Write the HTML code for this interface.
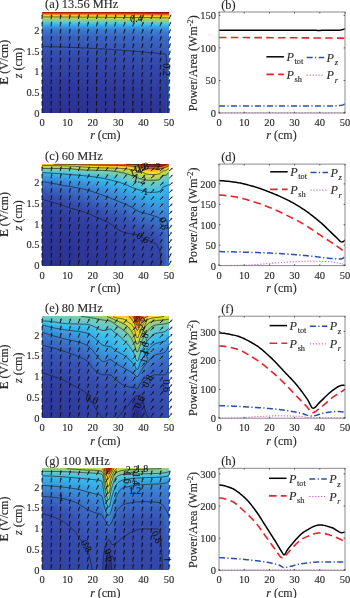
<!DOCTYPE html><html><head><meta charset="utf-8"><style>
html,body{margin:0;padding:0;background:#fff;width:350px;height:598px;overflow:hidden}
#wrap{filter:blur(0.35px);width:350px;height:598px;position:relative;background:#fff}
#f{position:absolute;left:0;top:0;width:350px;height:598px}
#f i{position:absolute;display:block}
svg{position:absolute;left:0;top:0;font-family:"Liberation Serif",serif;will-change:transform}
text{stroke:#303030;stroke-width:0.14px;paint-order:stroke}
</style></head><body><div id="wrap"><div id="f">
<i style="left:42px;top:12px;width:8px;height:101.05px;background:linear-gradient(#b82117 0.50px,#e4421f 1.50px,#f28e22 2.50px,#f5cb29 3.50px,#f0e330 4.50px,#d2db42 5.50px,#aad268 6.50px,#8dcd8a 7.50px,#6ec9c4 9.50px,#40bee8 11.51px,#38b2ea 12.51px,#3b8dda 15.51px,#3c76cd 18.51px,#3960be 24.51px,#3447aa 46.52px,#2e379a 77.54px,#2b3293 100.55px)"></i>
<i style="left:50px;top:12px;width:6px;height:101.05px;background:linear-gradient(#b72017 0.50px,#e4411f 1.50px,#f18d22 2.50px,#f5ca29 3.50px,#f1e32f 4.50px,#d3db42 5.50px,#abd367 6.50px,#8ecd89 7.50px,#6ec9c3 9.50px,#40bee8 11.51px,#38b3ea 12.51px,#3b8eda 15.51px,#3c76cd 18.51px,#3960be 24.51px,#3448aa 46.52px,#2e379a 77.54px,#2b3293 100.55px)"></i>
<i style="left:56px;top:12px;width:6px;height:101.05px;background:linear-gradient(#b72017 0.50px,#e4401f 1.50px,#f18c22 2.50px,#f5c929 3.50px,#f2e32f 4.50px,#d3db41 5.50px,#acd367 6.50px,#8fce89 7.50px,#6fc9c2 9.50px,#59c4d8 10.51px,#41bee7 11.51px,#38b3eb 12.51px,#3b8eda 15.51px,#3c76cd 18.51px,#3960be 24.51px,#3448ab 46.52px,#2e379a 78.54px,#2b3293 100.55px)"></i>
<i style="left:62px;top:12px;width:4px;height:101.05px;background:linear-gradient(#b62017 0.50px,#e33f1f 1.50px,#f18a22 2.50px,#f5c929 3.50px,#f3e32e 4.50px,#d4db41 5.50px,#add366 6.50px,#90ce88 7.50px,#6fc9c1 9.50px,#5ac4d7 10.51px,#42bfe7 11.51px,#38b4eb 12.51px,#3b8eda 15.51px,#3c77cd 18.51px,#3961be 24.51px,#3448ab 46.52px,#2e379a 78.54px,#2b3293 100.55px)"></i>
<i style="left:66px;top:12px;width:4px;height:101.05px;background:linear-gradient(#b51f17 0.50px,#e33e1f 1.50px,#f18922 2.50px,#f5c829 3.50px,#f3e42e 4.50px,#d5dc40 5.50px,#add365 6.50px,#90ce87 7.50px,#70c9c1 9.50px,#5ac4d7 10.51px,#42bfe7 11.51px,#38b4eb 12.51px,#3b8fda 15.51px,#3c77cd 18.51px,#3961be 24.51px,#3448ab 46.52px,#2e379a 78.54px,#2b3293 100.55px)"></i>
<i style="left:70px;top:12px;width:4px;height:101.05px;background:linear-gradient(#b51f17 0.50px,#e33d1e 1.50px,#f18822 2.50px,#f5c729 3.50px,#f4e42e 4.50px,#d5dc40 5.50px,#aed364 6.50px,#91ce86 7.50px,#70c9c0 9.50px,#5bc5d6 10.51px,#43bfe6 11.51px,#38b4eb 12.51px,#3b8fdb 15.51px,#3c77ce 18.51px,#3961bf 24.51px,#3448ab 46.52px,#2e379a 78.54px,#2b3293 100.55px)"></i>
<i style="left:74px;top:12px;width:4px;height:101.05px;background:linear-gradient(#b41f17 0.50px,#e33b1e 1.50px,#f18722 2.50px,#f5c729 3.50px,#f5e42d 4.50px,#d6dc40 5.50px,#afd363 6.50px,#92ce85 7.50px,#70c9bf 9.50px,#5cc5d6 10.51px,#43bfe6 11.51px,#38b5eb 12.51px,#3b8fdb 15.51px,#3c77ce 18.51px,#3961bf 24.51px,#3448ab 46.52px,#2e379a 78.54px,#2b3293 100.55px)"></i>
<i style="left:78px;top:12px;width:4px;height:101.05px;background:linear-gradient(#b31e17 0.50px,#e23a1e 1.50px,#f08622 2.50px,#f5c629 3.50px,#f5e32d 4.50px,#d7dc3f 5.50px,#afd362 6.50px,#92ce84 7.50px,#71c9be 9.50px,#5cc5d5 10.51px,#44bfe5 11.51px,#38b5eb 12.51px,#3b90db 15.51px,#3c78ce 18.51px,#3962bf 24.51px,#3448ab 46.52px,#2e379a 79.54px,#2b3293 100.55px)"></i>
<i style="left:82px;top:12px;width:4px;height:101.05px;background:linear-gradient(#b21e17 0.50px,#e2391e 1.50px,#f08522 2.50px,#f5c528 3.50px,#f5e32d 4.50px,#d8dc3f 5.50px,#b0d461 6.50px,#93ce83 7.50px,#71c9be 9.50px,#5dc5d5 10.51px,#45bfe5 11.51px,#38b6ec 12.51px,#3b90db 15.51px,#3c78ce 18.51px,#3962bf 24.51px,#3449ab 46.52px,#2e379a 79.54px,#2b3294 100.55px)"></i>
<i style="left:86px;top:12px;width:4px;height:101.05px;background:linear-gradient(#b11e16 0.50px,#e2371e 1.50px,#f08422 2.50px,#f5c428 3.50px,#f5e22d 4.50px,#d8dd3e 5.50px,#b1d460 6.50px,#94ce82 7.50px,#72c9bd 9.50px,#5ec5d4 10.51px,#46c0e4 11.51px,#38b6ec 12.51px,#3b91db 15.51px,#3c79ce 18.51px,#3962bf 24.51px,#3449ac 46.52px,#2e379a 79.54px,#2b3394 100.55px)"></i>
<i style="left:90px;top:12px;width:4px;height:101.05px;background:linear-gradient(#b01d16 0.50px,#e2361e 1.50px,#f08222 2.50px,#f5c328 3.50px,#f5e12d 4.50px,#d9dd3e 5.50px,#b2d45f 6.50px,#95cf81 7.50px,#72c9bc 9.50px,#5fc6d4 10.51px,#46c0e4 11.51px,#37b7ec 12.51px,#3b91dc 15.51px,#3c79cf 18.51px,#3963bf 24.51px,#354aac 45.52px,#2e379a 79.54px,#2b3394 100.55px)"></i>
<i style="left:94px;top:12px;width:4px;height:101.05px;background:linear-gradient(#af1d16 0.50px,#e1341e 1.50px,#ef8122 2.50px,#f5c228 3.50px,#f5e02c 4.50px,#dadd3d 5.50px,#b3d45e 6.50px,#96cf80 7.50px,#73c9bb 9.50px,#60c6d3 10.51px,#47c0e3 11.51px,#37b7ec 12.51px,#3b92dc 15.51px,#3c79cf 18.51px,#3963c0 24.51px,#3449ac 46.52px,#2e389b 79.54px,#2b3394 100.55px)"></i>
<i style="left:98px;top:12px;width:4px;height:101.05px;background:linear-gradient(#ae1c16 0.50px,#e1321e 1.50px,#ef7f22 2.50px,#f5c128 3.50px,#f5df2c 4.50px,#dbdd3c 5.50px,#b4d45c 6.50px,#97cf7f 7.50px,#74cab9 9.50px,#61c6d2 10.51px,#48c0e3 11.51px,#37b8ec 12.51px,#3a92dc 15.51px,#3c7acf 18.51px,#3963c0 24.51px,#3449ac 46.52px,#2e379a 80.54px,#2c3394 100.55px)"></i>
<i style="left:102px;top:12px;width:4px;height:101.05px;background:linear-gradient(#ad1c16 0.50px,#e0321e 1.50px,#ef7d21 2.50px,#f5c028 3.50px,#f5de2c 4.50px,#ddde3c 5.50px,#b5d55b 6.50px,#98cf7e 7.50px,#74cab8 9.50px,#62c6d2 10.51px,#49c0e2 11.51px,#37b9ed 12.51px,#3a93dc 15.51px,#3c7acf 18.51px,#3964c0 24.51px,#354aac 46.52px,#2e379a 80.54px,#2c3394 100.55px)"></i>
<i style="left:106px;top:12px;width:4px;height:101.05px;background:linear-gradient(#ac1b15 0.50px,#df311e 1.50px,#ee7c21 2.50px,#f5bf27 3.50px,#f5dd2c 4.50px,#dede3b 5.50px,#b7d55a 6.50px,#99cf7c 7.50px,#84cc9a 8.50px,#63c7d1 10.51px,#4ac1e1 11.51px,#37b9ed 12.51px,#3a93dd 15.51px,#3c7bd0 18.51px,#3a64c1 24.51px,#354bad 45.52px,#2f389b 80.54px,#2c3394 100.55px)"></i>
<i style="left:110px;top:12px;width:4px;height:101.05px;background:linear-gradient(#ab1b15 0.50px,#de311e 1.50px,#ee7a21 2.50px,#f5bd27 3.50px,#f5db2c 4.50px,#dfde3a 5.50px,#b8d558 6.50px,#9ad07b 7.50px,#85cc99 8.50px,#64c7d0 10.51px,#37baed 12.51px,#3a94dd 15.51px,#3c7bd0 18.51px,#3a64c1 24.51px,#354aad 46.52px,#2e379a 81.54px,#2c3394 100.55px)"></i>
<i style="left:114px;top:12px;width:4px;height:101.05px;background:linear-gradient(#a91a15 0.50px,#dd301d 1.50px,#ee7821 2.50px,#f5bc27 3.50px,#f5da2c 4.50px,#e0df3a 5.50px,#b9d557 6.50px,#9cd07a 7.50px,#86cc97 8.50px,#65c7d0 10.51px,#37bbed 12.51px,#3a94dd 15.51px,#3c7cd0 18.51px,#3a67c3 23.51px,#364eb0 42.52px,#2f389b 79.54px,#2c3395 100.55px)"></i>
<i style="left:118px;top:12px;width:2px;height:101.05px;background:linear-gradient(#a81a15 0.50px,#db301d 1.50px,#ed7621 2.50px,#f5bb27 3.50px,#f5d92b 4.50px,#e1df39 5.50px,#bad555 6.50px,#9dd078 7.50px,#87cc96 8.50px,#66c7cf 10.51px,#37bbee 12.51px,#3a95de 15.51px,#3c7dd1 18.51px,#3a68c3 23.51px,#364daf 43.52px,#2f389b 80.54px,#2c3395 100.55px)"></i>
<i style="left:120px;top:12px;width:2px;height:101.05px;background:linear-gradient(#a71915 0.50px,#db2f1d 1.50px,#ed7521 2.50px,#f5ba27 3.50px,#f5d82b 4.50px,#e2df38 5.50px,#bbd654 6.50px,#9ed077 7.50px,#87cc95 8.50px,#67c7ce 10.51px,#37bcee 12.51px,#3a95de 15.51px,#3c7dd1 18.51px,#3a68c3 23.51px,#364db0 43.52px,#2f389b 80.54px,#2c3395 100.55px)"></i>
<i style="left:122px;top:12px;width:2px;height:101.05px;background:linear-gradient(#a71915 0.50px,#da2f1d 1.50px,#ed7421 2.50px,#f5b927 3.50px,#f5d72b 4.50px,#e3df38 5.50px,#bcd653 6.50px,#9ed076 7.50px,#88cc94 8.50px,#68c8ce 10.51px,#37bcee 12.51px,#3a96de 15.51px,#3c7dd1 18.51px,#3a68c4 23.51px,#364db0 43.52px,#2f389b 80.54px,#2c3395 100.55px)"></i>
<i style="left:124px;top:12px;width:2px;height:101.05px;background:linear-gradient(#a61915 0.50px,#da2f1d 1.50px,#ed7321 2.50px,#f5b827 3.50px,#f5d72b 4.50px,#e3df38 5.50px,#bdd653 6.50px,#9fd076 7.50px,#88cc93 8.50px,#68c8ce 10.51px,#38bcee 12.51px,#3a96de 15.51px,#3c7ed1 18.51px,#3a69c4 23.51px,#364db0 43.52px,#2f389b 80.54px,#2c3395 100.55px)"></i>
<i style="left:126px;top:12px;width:2px;height:101.05px;background:linear-gradient(#a51814 0.50px,#d92f1d 1.50px,#ed7221 2.50px,#f5b826 3.50px,#f5d62b 4.50px,#e4e037 5.50px,#bdd652 6.50px,#a0d175 7.50px,#88cc93 8.50px,#69c8cd 10.51px,#38bced 12.51px,#3a96de 15.51px,#3c7ed1 18.51px,#3a69c4 23.51px,#364eb0 43.52px,#2f389b 80.54px,#2c3495 100.55px)"></i>
<i style="left:128px;top:12px;width:2px;height:101.05px;background:linear-gradient(#a41814 0.50px,#d82e1d 1.50px,#ec7121 2.50px,#f5b726 3.50px,#f5d52b 4.50px,#e5e037 5.50px,#bed651 6.50px,#a0d174 7.50px,#89cd92 8.50px,#69c8cc 10.51px,#39bced 12.51px,#3a97df 15.51px,#3c7ed1 18.51px,#3a69c4 23.51px,#364eb0 43.52px,#2f389b 81.54px,#2c3495 100.55px)"></i>
<i style="left:130px;top:12px;width:2px;height:101.05px;background:linear-gradient(#a41814 0.50px,#d72e1c 1.50px,#ec6f21 2.50px,#f5b626 3.50px,#f5d52b 4.50px,#e6e036 5.50px,#bfd650 6.50px,#a1d173 7.50px,#89cd91 8.50px,#6ac8cc 10.51px,#3abdec 12.51px,#3a97df 15.51px,#3c7ed2 18.51px,#3a69c4 23.51px,#364eb0 43.52px,#2f389b 81.54px,#2c3495 100.55px)"></i>
<i style="left:132px;top:12px;width:2px;height:101.05px;background:linear-gradient(#a31714 0.50px,#d72e1c 1.50px,#ec6e21 2.50px,#f5b526 3.50px,#f5d42b 4.50px,#e6e036 5.50px,#c0d64f 6.50px,#a2d172 7.50px,#8acd90 8.50px,#6ac8cb 10.51px,#3abdec 12.51px,#3a97df 15.51px,#3c7fd2 18.51px,#3a6ac4 23.51px,#364eb0 43.52px,#2f389b 81.54px,#2c3495 100.55px)"></i>
<i style="left:134px;top:12px;width:2px;height:101.05px;background:linear-gradient(#a21714 0.50px,#d62d1c 1.50px,#ec6d21 2.50px,#f5b526 3.50px,#f5d32b 4.50px,#e7e035 5.50px,#c0d74e 6.50px,#a3d171 7.50px,#8acd8f 8.50px,#6bc8ca 10.51px,#3bbdeb 12.51px,#3a98df 15.51px,#3c7fd2 18.51px,#3a6ac5 23.51px,#364db0 44.52px,#2f389b 82.54px,#2c3495 100.55px)"></i>
<i style="left:136px;top:12px;width:2px;height:101.05px;background:linear-gradient(#a11714 0.50px,#d52d1c 1.50px,#ec6c21 2.50px,#f5b426 3.50px,#f5d22a 4.50px,#e8e135 5.50px,#c1d74d 6.50px,#a3d170 7.50px,#8bcd8e 8.50px,#6bc8c9 10.51px,#3bbdeb 12.51px,#39a3e4 14.51px,#3b86d6 17.51px,#3b6dc7 22.51px,#395dbc 31.52px,#3449ac 50.52px,#2e379a 85.54px,#2c3495 100.55px)"></i>
<i style="left:138px;top:12px;width:2px;height:101.05px;background:linear-gradient(#a01614 0.50px,#d42d1c 1.50px,#eb6b21 2.50px,#f5b326 3.50px,#f5d12a 4.50px,#e9e134 5.50px,#c2d74c 6.50px,#a4d16f 7.50px,#8bcd8e 8.50px,#6bc8c8 10.51px,#3cbdeb 12.51px,#38b0e9 13.51px,#3b8fda 16.51px,#3c75cc 20.51px,#3a64c1 26.51px,#354bad 48.52px,#2e389b 84.54px,#2c3496 100.55px)"></i>
<i style="left:140px;top:12px;width:2px;height:101.05px;background:linear-gradient(#9f1614 0.50px,#d42c1c 1.50px,#eb6a21 2.50px,#f5b226 3.50px,#f5d12a 4.50px,#eae134 5.50px,#c3d74b 6.50px,#a5d26e 7.50px,#8ccd8d 8.50px,#6cc8c8 10.51px,#3dbdea 12.51px,#38b1ea 13.51px,#3b8fdb 16.51px,#3c75cd 20.51px,#3a64c1 26.51px,#354bad 48.52px,#2f389b 84.54px,#2c3496 100.55px)"></i>
<i style="left:142px;top:12px;width:2px;height:101.05px;background:linear-gradient(#9f1613 0.50px,#d32c1c 1.50px,#eb6820 2.50px,#f5b126 3.50px,#f5d02a 4.50px,#eae133 5.50px,#c4d74b 6.50px,#8ccd8c 8.50px,#6cc8c7 10.51px,#3ebeea 12.51px,#38b1ea 13.51px,#3b90db 16.51px,#3c76cd 20.51px,#3a65c1 26.51px,#354cae 47.52px,#2f389b 84.54px,#2c3496 100.55px)"></i>
<i style="left:144px;top:12px;width:2px;height:101.05px;background:linear-gradient(#9e1513 0.50px,#d22c1c 1.50px,#eb6720 2.50px,#f5b025 3.50px,#f5cf2a 4.50px,#ebe133 5.50px,#c4d74a 6.50px,#8dcd8b 8.50px,#6dc9c6 10.51px,#3ebee9 12.51px,#38b2ea 13.51px,#3b90db 16.51px,#3c76cd 20.51px,#3a65c1 26.51px,#354cae 47.52px,#2f389b 84.54px,#2c3496 100.55px)"></i>
<i style="left:146px;top:12px;width:2px;height:101.05px;background:linear-gradient(#9d1513 0.50px,#d12b1b 1.50px,#ea6620 2.50px,#f5b025 3.50px,#f5ce2a 4.50px,#ece232 5.50px,#c5d84a 6.50px,#8ecd8a 8.50px,#6dc9c5 10.51px,#3fbee9 12.51px,#38b2ea 13.51px,#3b90db 16.51px,#3c76cd 20.51px,#3a65c1 26.51px,#354cae 47.52px,#2f389b 85.54px,#2c3496 100.55px)"></i>
<i style="left:148px;top:12px;width:2px;height:101.05px;background:linear-gradient(#9c1513 0.50px,#d02b1b 1.50px,#ea6420 2.50px,#f5af25 3.50px,#f5cd2a 4.50px,#ede232 5.50px,#c6d849 6.50px,#8fcd89 8.50px,#6ec9c4 10.51px,#40bee8 12.51px,#38b3ea 13.51px,#3b91db 16.51px,#3c77cd 20.51px,#3a65c2 26.51px,#354bae 48.52px,#2f389b 85.54px,#2c3496 100.55px)"></i>
<i style="left:150px;top:12px;width:2px;height:101.05px;background:linear-gradient(#9b1413 0.50px,#d02b1b 1.50px,#ea6320 2.50px,#f5ae25 3.50px,#f5cc2a 4.50px,#eee231 5.50px,#c7d849 6.50px,#8fce88 8.50px,#6ec9c3 10.51px,#40bee8 12.51px,#38b3eb 13.51px,#3b91dc 16.51px,#3c77ce 20.51px,#3a66c2 26.51px,#354cae 48.52px,#2f389b 85.54px,#2d3496 100.55px)"></i>
<i style="left:152px;top:12px;width:2px;height:101.05px;background:linear-gradient(#9a1413 0.50px,#cf2a1b 1.50px,#ea6220 2.50px,#f5ad25 3.50px,#f5cc29 4.50px,#efe231 5.50px,#c8d848 6.50px,#90ce87 8.50px,#6fc9c2 10.51px,#59c4d7 11.51px,#41bee7 12.51px,#38b4eb 13.51px,#3b92dc 16.51px,#3c77ce 20.51px,#3a66c2 26.51px,#354cae 48.52px,#2f389b 86.54px,#2d3496 100.55px)"></i>
<i style="left:154px;top:12px;width:2px;height:101.05px;background:linear-gradient(#991313 0.50px,#ce2a1b 1.50px,#e96020 2.50px,#f5ac25 3.50px,#f5cb29 4.50px,#f0e330 5.50px,#c9d848 6.50px,#91ce86 8.50px,#6fc9c1 10.51px,#5ac4d7 11.51px,#42bfe7 12.51px,#38b4eb 13.51px,#3a92dc 16.51px,#3c78ce 20.51px,#3a66c2 26.51px,#354cae 48.52px,#2f389b 86.54px,#2d3496 100.55px)"></i>
<i style="left:156px;top:12px;width:2px;height:101.05px;background:linear-gradient(#981312 0.50px,#cd291b 1.50px,#e95f20 2.50px,#f5ab25 3.50px,#f5ca29 4.50px,#f0e330 5.50px,#c9d947 6.50px,#92ce85 8.50px,#70c9c0 10.51px,#5bc5d6 11.51px,#43bfe6 12.51px,#38b5eb 13.51px,#3a92dc 16.51px,#3c78ce 20.51px,#3a67c2 26.51px,#354daf 47.52px,#2f389b 86.54px,#2d3596 100.55px)"></i>
<i style="left:158px;top:12px;width:2px;height:101.05px;background:linear-gradient(#971312 0.50px,#cc291b 1.50px,#e95e20 2.50px,#f5aa24 3.50px,#f1e32f 5.50px,#cad947 6.50px,#93ce84 8.50px,#70c9bf 10.51px,#5cc5d6 11.51px,#44bfe6 12.51px,#38b5eb 13.51px,#3a93dd 16.51px,#3c79ce 20.51px,#3a67c3 26.51px,#354caf 48.52px,#2f389b 86.54px,#2d3597 100.55px)"></i>
<i style="left:160px;top:12px;width:2px;height:101.05px;background:linear-gradient(#961212 0.50px,#cb291b 1.50px,#e95c20 2.50px,#f5a924 3.50px,#f2e32f 5.50px,#cbd946 6.50px,#94ce83 8.50px,#71c9bf 10.51px,#5dc5d5 11.51px,#44bfe5 12.51px,#38b6eb 13.51px,#3a93dd 16.51px,#3c79cf 20.51px,#3a67c3 26.51px,#354caf 48.52px,#2f389b 87.54px,#2d3597 100.55px)"></i>
<i style="left:162px;top:12px;width:2px;height:101.05px;background:linear-gradient(#961212 0.50px,#ca281a 1.50px,#e85b20 2.50px,#f5a824 3.50px,#f3e42e 5.50px,#ccd946 6.50px,#95cf82 8.50px,#71c9be 10.51px,#5dc5d5 11.51px,#45bfe5 12.51px,#38b6ec 13.51px,#3a94dd 16.51px,#3c79cf 20.51px,#3a68c3 26.51px,#354daf 48.52px,#2f389b 87.54px,#2d3597 100.55px)"></i>
<i style="left:164px;top:12px;width:2px;height:101.05px;background:linear-gradient(#961212 0.50px,#c9281a 1.50px,#e85920 2.50px,#f5a724 3.50px,#f4e42d 5.50px,#cdda45 6.50px,#96cf81 8.50px,#72c9bd 10.51px,#5ec5d4 11.51px,#46c0e4 12.51px,#37b7ec 13.51px,#3a94dd 16.51px,#3c7acf 20.51px,#3a68c3 26.51px,#354daf 48.52px,#2f389b 87.54px,#2d3597 100.55px)"></i>
<i style="left:166px;top:12px;width:2px;height:101.05px;background:linear-gradient(#961212 0.50px,#c8281a 1.50px,#e85820 2.50px,#f5a624 3.50px,#f5e42d 5.50px,#ceda44 6.50px,#97cf7f 8.50px,#72c9bc 10.51px,#5fc6d3 11.51px,#47c0e4 12.51px,#37b7ec 13.51px,#3a95de 16.51px,#3c7acf 20.51px,#3a68c3 26.51px,#385cbb 38.52px,#385dbb 62.53px,#3347a9 100.55px)"></i>
<i style="left:168px;top:12px;width:1px;height:101.05px;background:linear-gradient(#961212 0.50px,#c8271a 1.50px,#e85720 2.50px,#f5a524 3.50px,#f5e32d 5.50px,#cfda44 6.50px,#97cf7f 8.50px,#73c9bb 10.51px,#60c6d3 11.51px,#47c0e3 12.51px,#37b8ec 13.51px,#3a95de 16.51px,#3c7bcf 20.51px,#3a69c4 26.51px,#395ebc 35.52px,#3c7bd0 60.53px,#385cbb 100.55px)"></i>
<i style="left:42px;top:164.05px;width:2px;height:101.55px;background:linear-gradient(#f5b626 0.50px,#e3df38 1.51px,#bbd654 2.51px,#a0d174 3.52px,#8acd8f 4.52px,#6bc8c9 6.54px,#39bced 8.55px,#3a97df 12.57px,#3b71c9 19.61px,#3650b2 29.66px,#303b9f 45.75px,#2a3192 89.99px,#2a3090 101.05px)"></i>
<i style="left:44px;top:164.05px;width:2px;height:101.55px;background:linear-gradient(#f5b526 0.50px,#e4e037 1.51px,#bcd653 2.51px,#a0d174 3.52px,#8acd90 4.52px,#6bc8c9 6.54px,#3bbdeb 8.55px,#39a9e7 10.56px,#3b86d5 15.58px,#3a67c2 22.62px,#364eb1 30.67px,#303b9e 47.76px,#2a3091 97.03px,#2a3090 101.05px)"></i>
<i style="left:46px;top:164.05px;width:2px;height:101.55px;background:linear-gradient(#f5b526 0.50px,#e5e037 1.51px,#bdd652 2.51px,#a0d174 3.52px,#8acd90 4.52px,#6bc8c9 6.54px,#3dbdea 8.55px,#38b4eb 9.55px,#3a93dd 13.57px,#3b70c9 20.61px,#364fb2 30.67px,#303b9f 47.76px,#2a3191 96.02px,#2a3091 101.05px)"></i>
<i style="left:48px;top:164.05px;width:2px;height:101.55px;background:linear-gradient(#f5b426 0.50px,#e6e036 1.51px,#bed651 2.51px,#a1d173 3.52px,#89cd91 4.52px,#6cc8c8 6.54px,#3fbee9 8.55px,#38b6ec 9.55px,#3a95de 13.57px,#3b71ca 20.61px,#364eb1 31.67px,#303b9f 48.76px,#2a3191 98.03px,#2a3091 101.05px)"></i>
<i style="left:50px;top:164.05px;width:2px;height:101.55px;background:linear-gradient(#f5b326 0.50px,#e7e035 1.51px,#c0d64f 2.51px,#a1d173 3.52px,#89cd91 4.52px,#6cc8c7 6.54px,#41bee7 8.55px,#37b7ec 9.55px,#3a96de 13.57px,#3c72cb 20.61px,#364fb2 31.67px,#303c9f 48.76px,#2a3191 97.03px,#2a3191 101.05px)"></i>
<i style="left:52px;top:164.05px;width:2px;height:101.55px;background:linear-gradient(#f5b226 0.50px,#e8e135 1.51px,#c2d74d 2.51px,#a2d172 3.52px,#89cd91 4.52px,#6dc9c6 6.54px,#43bfe6 8.55px,#37b9ed 9.55px,#3b91dc 14.58px,#3b6cc6 22.62px,#364eb1 32.68px,#303b9f 50.77px,#2a3191 101.05px)"></i>
<i style="left:54px;top:164.05px;width:2px;height:101.55px;background:linear-gradient(#f5b125 0.50px,#eae134 1.51px,#c3d74b 2.51px,#a2d172 3.52px,#89cd92 4.52px,#6dc9c5 6.54px,#45bfe4 8.55px,#37baed 9.55px,#3a93dd 14.58px,#3b6ec7 22.62px,#364fb2 32.68px,#313ca0 49.77px,#2a3191 98.03px,#2a3191 101.05px)"></i>
<i style="left:56px;top:164.05px;width:2px;height:101.55px;background:linear-gradient(#f5af25 0.50px,#ece233 1.51px,#c5d84a 2.51px,#a3d171 3.52px,#89cd92 4.52px,#6ec9c4 6.54px,#48c0e3 8.55px,#37bcee 9.55px,#3a94dd 14.58px,#3b6fc8 22.62px,#3750b2 32.68px,#313da0 49.77px,#2b3192 97.03px,#2a3191 101.05px)"></i>
<i style="left:58px;top:164.05px;width:2px;height:101.55px;background:linear-gradient(#f5ae25 0.50px,#ede232 1.51px,#c7d848 2.51px,#a4d170 3.52px,#89cd92 4.52px,#6ec9c3 6.54px,#4ac1e2 8.55px,#39bced 9.55px,#3a96de 14.58px,#3b6dc7 23.63px,#364fb2 33.68px,#303c9f 51.78px,#2b3192 101.05px)"></i>
<i style="left:60px;top:164.05px;width:2px;height:101.55px;background:linear-gradient(#f5ac25 0.50px,#efe330 1.51px,#c9d947 2.51px,#a5d16f 3.52px,#89cd92 4.52px,#6fc9c2 6.54px,#5fc6d3 7.54px,#3bbdeb 9.55px,#38ace8 11.56px,#3b8cd9 16.59px,#3a64c1 26.64px,#364daf 35.69px,#303a9e 55.80px,#2b3192 101.05px)"></i>
<i style="left:62px;top:164.05px;width:2px;height:101.55px;background:linear-gradient(#f5ab25 0.50px,#f1e32f 1.51px,#ccd946 2.51px,#a6d26e 3.52px,#89cd92 4.52px,#70c9c0 6.54px,#61c6d2 7.54px,#3dbeea 9.55px,#37b7ec 10.56px,#3a93dd 15.58px,#3a69c4 25.64px,#364eb0 35.69px,#303a9e 55.80px,#2b3192 101.05px)"></i>
<i style="left:64px;top:164.05px;width:2px;height:101.55px;background:linear-gradient(#f5a924 0.50px,#f4e42e 1.51px,#ceda45 2.51px,#a7d26d 3.52px,#89cd92 4.52px,#71c9bf 6.54px,#63c7d1 7.54px,#40bee8 9.55px,#37b8ec 10.56px,#3a94dd 15.58px,#3a6ac5 25.64px,#364fb1 35.69px,#303a9e 55.80px,#2b3292 101.05px)"></i>
<i style="left:66px;top:164.05px;width:2px;height:101.55px;background:linear-gradient(#f5a724 0.50px,#f5e32d 1.51px,#d1db43 2.51px,#a9d26a 3.52px,#8acd90 4.52px,#7ccbaa 5.53px,#65c7d0 7.54px,#42bfe7 9.55px,#37baed 10.56px,#3a96de 15.58px,#3b6cc6 25.64px,#364eb1 36.70px,#303a9e 57.81px,#2b3293 101.05px)"></i>
<i style="left:68px;top:164.05px;width:2px;height:101.55px;background:linear-gradient(#f5a524 0.50px,#f5e02c 1.51px,#d4db41 2.51px,#acd366 3.52px,#8bcd8d 4.52px,#7dcba7 5.53px,#67c8ce 7.54px,#44bfe5 9.55px,#37bbee 10.56px,#3a97df 15.58px,#3b6dc7 25.64px,#364fb1 36.70px,#303b9f 56.81px,#2b3293 101.05px)"></i>
<i style="left:70px;top:164.05px;width:2px;height:101.55px;background:linear-gradient(#f5a223 0.50px,#f5dc2c 1.51px,#d8dc3f 2.51px,#b1d461 3.52px,#90ce88 4.52px,#7fcba3 5.53px,#69c8cc 7.54px,#38bced 10.56px,#3a99e0 15.58px,#3b6ec8 25.64px,#364fb1 37.70px,#303b9f 57.81px,#2b3293 101.05px)"></i>
<i style="left:72px;top:164.05px;width:2px;height:101.55px;background:linear-gradient(#f59e23 0.50px,#f5d82b 1.51px,#dcde3c 2.51px,#b6d55a 3.52px,#95cf81 4.52px,#82cc9f 5.53px,#6bc8c9 7.54px,#3abdec 10.56px,#39a7e6 13.57px,#3c7fd2 21.62px,#385bba 32.68px,#3448ab 42.73px,#2f399c 63.85px,#2b3394 101.05px)"></i>
<i style="left:74px;top:164.05px;width:2px;height:101.55px;background:linear-gradient(#f49923 0.50px,#f5d42b 1.51px,#e1df39 2.51px,#bcd653 3.52px,#9bd07a 4.52px,#85cc9a 5.53px,#6dc9c6 7.54px,#4cc1e0 9.55px,#3dbdea 10.56px,#37b7ec 11.56px,#3a97df 16.59px,#3b6ec7 26.64px,#364eb0 39.72px,#303b9f 58.82px,#2c3394 101.05px)"></i>
<i style="left:76px;top:164.05px;width:2px;height:101.55px;background:linear-gradient(#f39422 0.50px,#f5cf2a 1.51px,#e5e036 2.51px,#c3d74b 3.52px,#a2d172 4.52px,#88cc94 5.53px,#7acaae 6.54px,#6ec9c3 7.54px,#4ec2df 9.55px,#3fbee9 10.56px,#37b8ed 11.56px,#3a98e0 16.59px,#3b6fc8 26.64px,#364daf 40.72px,#303c9f 58.82px,#2c3395 101.05px)"></i>
<i style="left:78px;top:164.05px;width:2px;height:101.55px;background:linear-gradient(#f28f22 0.50px,#f5cb29 1.51px,#eae133 2.51px,#c9d947 3.52px,#8bcd8e 5.53px,#7bcbab 6.54px,#62c6d1 8.55px,#41bee7 10.56px,#37baed 11.56px,#3a9ae0 16.59px,#3b70c9 26.64px,#364eb0 40.72px,#313da0 57.81px,#2c3495 101.05px)"></i>
<i style="left:80px;top:164.05px;width:2px;height:101.55px;background:linear-gradient(#f18a22 0.50px,#f5c629 1.51px,#efe231 2.51px,#d0da43 3.52px,#b1d461 4.52px,#8fce88 5.53px,#7dcba7 6.54px,#65c7d0 8.55px,#44bfe6 10.56px,#37bbee 11.56px,#3a97df 17.60px,#3b6fc8 27.65px,#364db0 41.73px,#313da0 58.82px,#2c3496 101.05px)"></i>
<i style="left:82px;top:164.05px;width:2px;height:101.55px;background:linear-gradient(#f08522 0.50px,#f5c228 1.51px,#f3e42e 2.51px,#d5dc40 3.52px,#b7d559 4.52px,#94ce83 5.53px,#7fcba4 6.54px,#67c8ce 8.55px,#38bced 11.56px,#3a98e0 17.60px,#3b70c9 27.65px,#354daf 42.73px,#313ca0 60.83px,#2d3496 101.05px)"></i>
<i style="left:84px;top:164.05px;width:2px;height:101.55px;background:linear-gradient(#ef8122 0.50px,#f5be27 1.51px,#f5e22d 2.51px,#dadd3d 3.52px,#bdd652 4.52px,#98cf7e 5.53px,#81cba1 6.54px,#69c8cc 8.55px,#3bbdec 11.56px,#39aae7 14.58px,#3c7cd0 24.63px,#364fb2 41.73px,#313fa2 56.81px,#2d3698 89.99px,#2d3597 101.05px)"></i>
<i style="left:86px;top:164.05px;width:2px;height:101.55px;background:linear-gradient(#ef7d21 0.50px,#f5bb27 1.51px,#f5de2c 2.51px,#dede3b 3.52px,#c1d74d 4.52px,#9bd07a 5.53px,#82cc9f 6.54px,#6bc8ca 8.55px,#3dbdea 11.56px,#37b8ed 12.57px,#3b8eda 20.61px,#3b6ec7 29.66px,#354bae 44.74px,#303a9e 65.86px,#2d3597 101.05px)"></i>
<i style="left:88px;top:164.05px;width:2px;height:101.55px;background:linear-gradient(#ee7921 0.50px,#f5b827 1.51px,#f5dc2c 2.51px,#e1df39 3.52px,#c4d74a 4.52px,#9ed077 5.53px,#83cc9d 6.54px,#6cc8c8 8.55px,#3fbee8 11.56px,#37baed 12.57px,#3b90db 20.61px,#3b70c9 29.66px,#354caf 44.74px,#303b9f 65.86px,#2d3598 101.05px)"></i>
<i style="left:90px;top:164.05px;width:2px;height:101.55px;background:linear-gradient(#ed7621 0.50px,#f5b626 1.51px,#f5d92b 2.51px,#e4e037 3.52px,#c6d849 4.52px,#a0d175 5.53px,#84cc9b 6.54px,#6dc9c6 8.55px,#4fc2de 10.56px,#37bcee 12.57px,#3b8eda 21.62px,#3b6fc8 30.67px,#354cae 45.75px,#303b9f 66.86px,#2d3698 101.05px)"></i>
<i style="left:92px;top:164.05px;width:2px;height:101.55px;background:linear-gradient(#ed7321 0.50px,#f5b326 1.51px,#f5d72b 2.51px,#e7e035 3.52px,#c8d848 4.52px,#a2d172 5.53px,#85cc9a 6.54px,#6ec9c4 8.55px,#52c2dc 10.56px,#39bded 12.57px,#3b8cd9 22.62px,#3b6cc6 32.68px,#364db0 45.75px,#313ca0 65.86px,#2e3698 101.05px)"></i>
<i style="left:94px;top:164.05px;width:2px;height:101.55px;background:linear-gradient(#ec7021 0.50px,#f5b125 1.51px,#f5d42b 2.51px,#e9e134 3.52px,#cad947 4.52px,#a3d170 5.53px,#85cc99 6.54px,#6ec9c3 8.55px,#62c6d1 9.55px,#3cbdeb 12.57px,#37b9ed 13.57px,#3b8ad8 23.63px,#3a6bc5 33.68px,#364daf 46.75px,#313ca0 66.86px,#2e3699 101.05px)"></i>
<i style="left:96px;top:164.05px;width:2px;height:101.55px;background:linear-gradient(#ec6d21 0.50px,#f5af25 1.51px,#f5d22a 2.51px,#ece233 3.52px,#ccd946 4.52px,#a5d26e 5.53px,#86cc98 6.54px,#6fc9c1 8.55px,#64c7d0 9.55px,#3fbee9 12.57px,#37bbee 13.57px,#3b89d7 24.63px,#3a68c3 35.69px,#364daf 47.76px,#313da0 66.86px,#2e3799 101.05px)"></i>
<i style="left:98px;top:164.05px;width:2px;height:101.55px;background:linear-gradient(#eb6a21 0.50px,#f5ad25 1.51px,#f5d02a 2.51px,#eee231 3.52px,#ceda45 4.52px,#a7d26d 5.53px,#86cc97 6.54px,#7acaae 7.54px,#66c7cf 9.55px,#42bfe7 12.57px,#38bced 13.57px,#3b87d6 25.64px,#3a67c3 36.70px,#364daf 48.76px,#313da1 66.86px,#2e379a 101.05px)"></i>
<i style="left:100px;top:164.05px;width:2px;height:101.55px;background:linear-gradient(#eb6720 0.50px,#f5ab25 1.51px,#f5ce2a 2.51px,#f0e330 3.52px,#cfda44 4.52px,#a8d26b 5.53px,#87cc95 6.54px,#7bcbac 7.54px,#68c8ce 9.55px,#44bfe5 12.57px,#3bbdeb 13.57px,#38b4eb 15.58px,#3c7cd0 29.66px,#364eb1 48.76px,#313fa2 64.85px,#2e379a 101.05px)"></i>
<i style="left:102px;top:164.05px;width:2px;height:101.55px;background:linear-gradient(#ea6520 0.50px,#f5a924 1.51px,#f5cc2a 2.51px,#f2e32f 3.52px,#d1db43 4.52px,#aad269 5.53px,#88cc94 6.54px,#7bcbab 7.54px,#6ac8cc 9.55px,#3ebee9 13.57px,#37bbee 14.58px,#3b82d3 28.66px,#385aba 43.74px,#3345a8 56.81px,#2f399d 83.95px,#2e379b 101.05px)"></i>
<i style="left:104px;top:164.05px;width:2px;height:101.55px;background:linear-gradient(#ea6220 0.50px,#f5a724 1.51px,#f5ca29 2.51px,#f3e42e 3.52px,#d3db42 4.52px,#acd366 5.53px,#89cd92 6.54px,#7ccba9 7.54px,#6bc8c9 9.55px,#42bfe7 13.57px,#39bded 14.58px,#3c7dd1 30.67px,#364eb0 50.77px,#313fa3 66.86px,#2f389b 101.05px)"></i>
<i style="left:106px;top:164.05px;width:2px;height:101.55px;background:linear-gradient(#e96020 0.50px,#f5a524 1.51px,#f5c929 2.51px,#f5e42d 3.52px,#d5dc40 4.52px,#aed364 5.53px,#8acd90 6.54px,#7dcba7 7.54px,#6cc8c7 9.55px,#58c4d8 11.56px,#3dbdea 14.58px,#37bbed 15.58px,#3b80d2 30.67px,#3751b3 49.77px,#3241a5 63.85px,#2f389c 95.01px,#2f389b 101.05px)"></i>
<i style="left:108px;top:164.05px;width:2px;height:101.55px;background:linear-gradient(#e95e20 0.50px,#f5a424 1.51px,#f5c729 2.51px,#f5e22d 3.52px,#d7dc3f 4.52px,#b1d460 5.53px,#8bcd8d 6.54px,#7fcba4 7.54px,#66c7cf 10.56px,#38bced 15.58px,#3c7fd2 31.67px,#364daf 52.79px,#313da1 72.89px,#2f389c 101.05px)"></i>
<i style="left:110px;top:164.05px;width:2px;height:101.55px;background:linear-gradient(#e95c20 0.50px,#f5a323 1.51px,#f5c629 2.51px,#f5e12d 3.52px,#d9dd3e 4.52px,#b4d45d 5.53px,#8fcd89 6.54px,#81cba0 7.54px,#69c8cc 10.56px,#3cbdeb 15.58px,#38b6ec 17.60px,#3c7bd0 33.68px,#354daf 53.79px,#313ca0 76.92px,#2f399c 101.05px)"></i>
<i style="left:112px;top:164.05px;width:2px;height:101.55px;background:linear-gradient(#e85a20 0.50px,#f5a223 1.51px,#f5c528 2.51px,#f5e02c 3.52px,#dadd3d 4.52px,#b8d558 5.53px,#94ce83 6.54px,#84cc9a 7.54px,#6cc8c8 10.56px,#47c0e4 14.58px,#38bced 16.59px,#3b81d3 32.68px,#364eb0 53.79px,#313da1 76.92px,#2f399d 101.05px)"></i>
<i style="left:114px;top:164.05px;width:2px;height:101.55px;background:linear-gradient(#e85920 0.50px,#f5a123 1.51px,#f5c428 2.51px,#f5df2c 3.52px,#dcde3c 4.52px,#bcd653 5.53px,#9ad07b 6.54px,#88cc94 7.54px,#6ec9c4 10.56px,#5cc5d6 12.57px,#3bbdeb 16.59px,#38b6ec 18.60px,#3b80d2 33.68px,#364fb1 53.79px,#313da1 77.92px,#30399d 101.05px)"></i>
<i style="left:116px;top:164.05px;width:2px;height:101.55px;background:linear-gradient(#e85720 0.50px,#f5a023 1.51px,#f5c328 2.51px,#f5dd2c 3.52px,#dfde3a 4.52px,#c1d74e 5.53px,#a1d173 6.54px,#8ccd8c 7.54px,#79cab0 9.55px,#6ac8cb 11.56px,#3fbee9 16.59px,#38bced 17.60px,#3b86d5 32.68px,#3754b5 51.78px,#3343a6 68.87px,#303a9e 101.05px)"></i>
<i style="left:118px;top:164.05px;width:2px;height:101.55px;background:linear-gradient(#e75520 0.50px,#f59e23 1.51px,#f5c128 2.51px,#f5dc2c 3.52px,#e1df39 4.52px,#c5d84a 5.53px,#a8d26b 6.54px,#92ce84 7.54px,#7ccbaa 9.55px,#6dc9c6 11.56px,#5bc5d6 13.57px,#3cbdeb 17.60px,#37b7ec 19.61px,#3b82d3 34.69px,#3754b5 52.79px,#3241a5 72.89px,#303a9e 101.05px)"></i>
<i style="left:120px;top:164.05px;width:2px;height:101.55px;background:linear-gradient(#e7531f 0.50px,#f49b23 1.51px,#f5bf28 2.51px,#f5da2c 3.52px,#e4e037 4.52px,#cad947 5.53px,#afd363 6.54px,#99cf7d 7.54px,#89cd92 8.55px,#70c9c0 11.56px,#60c6d3 13.57px,#39bded 18.60px,#3b81d3 35.69px,#3858b8 51.78px,#3448ab 64.85px,#313ca0 89.99px,#303b9f 101.05px)"></i>
<i style="left:122px;top:164.05px;width:2px;height:101.55px;background:linear-gradient(#e64f1f 0.50px,#f49823 1.51px,#f5bd27 2.51px,#f5d82b 3.52px,#e8e135 4.52px,#cfda44 5.53px,#a0d174 7.54px,#8ecd8a 8.55px,#74cab9 11.56px,#66c7cf 13.57px,#3ebeea 18.60px,#38bced 19.61px,#3b84d4 35.69px,#385cbb 50.77px,#354caf 60.83px,#313ea2 82.95px,#303b9f 101.05px)"></i>
<i style="left:124px;top:164.05px;width:2px;height:101.55px;background:linear-gradient(#e54a1f 0.50px,#f39322 1.51px,#f5b927 2.51px,#f5d42b 3.52px,#ece232 4.52px,#bdd652 6.54px,#95cf81 8.55px,#7fcba3 10.56px,#6bc8c9 13.57px,#43bfe6 18.60px,#37bbee 20.61px,#3b86d6 35.69px,#3961be 49.77px,#364eb0 60.83px,#313fa3 80.94px,#303b9f 101.05px)"></i>
<i style="left:126px;top:164.05px;width:2px;height:101.55px;background:linear-gradient(#e4431f 0.50px,#f18d22 1.51px,#f5b526 2.51px,#f5d02a 3.52px,#f1e32f 4.52px,#c5d84a 6.54px,#9ed077 8.55px,#8ecd8a 9.55px,#76cab5 12.57px,#6ac8cb 14.58px,#42bfe7 19.61px,#37bbee 21.62px,#3b89d7 35.69px,#3964c0 49.77px,#364eb0 61.83px,#3240a4 78.93px,#313ca0 101.05px)"></i>
<i style="left:128px;top:164.05px;width:2px;height:101.55px;background:linear-gradient(#e33c1e 0.50px,#f08522 1.51px,#f5b025 2.51px,#f5e22d 4.52px,#cdda45 6.54px,#96cf80 9.55px,#82cc9f 11.56px,#68c8cd 15.58px,#41bee7 20.61px,#37baed 22.62px,#3b8bd8 35.69px,#3a66c2 49.77px,#364eb0 62.84px,#3241a4 77.92px,#313ca0 101.05px)"></i>
<i style="left:130px;top:164.05px;width:2px;height:101.55px;background:linear-gradient(#e1331e 0.50px,#ef7d21 1.51px,#f5aa25 2.51px,#f5c629 3.52px,#f5dc2c 4.52px,#e8e135 5.53px,#c2d74d 7.54px,#91ce86 10.56px,#74cab9 14.58px,#66c7cf 16.59px,#40bee8 21.62px,#37baed 23.63px,#3b90db 34.69px,#3a67c3 50.77px,#354cae 64.85px,#3241a4 79.93px,#313ca0 101.05px)"></i>
<i style="left:132px;top:164.05px;width:2px;height:101.55px;background:linear-gradient(#dc301d 0.50px,#ed7321 1.51px,#f5a424 2.51px,#f5c028 3.52px,#f5d62b 4.52px,#f0e330 5.53px,#cbd946 7.54px,#9bd07b 10.56px,#86cc97 12.57px,#6cc8c8 16.59px,#54c3db 19.61px,#39bced 23.63px,#3a93dc 34.69px,#3960be 54.80px,#3447aa 68.87px,#313da1 99.04px,#313da1 101.05px)"></i>
<i style="left:134px;top:164.05px;width:2px;height:101.55px;background:linear-gradient(#d62d1c 0.50px,#eb6820 1.51px,#f49b23 2.51px,#f5b927 3.52px,#f5e22d 5.53px,#c3d74c 8.55px,#97cf7f 11.56px,#85cc99 13.57px,#6ac8cb 17.60px,#38bced 24.63px,#3a95de 34.69px,#395ebc 56.81px,#3446a9 69.88px,#313da1 101.05px)"></i>
<i style="left:136px;top:164.05px;width:2px;height:101.55px;background:linear-gradient(#cf2a1b 0.50px,#e95c20 1.51px,#f29122 2.51px,#f5b226 3.52px,#f5db2c 5.53px,#ede232 6.54px,#bdd652 9.55px,#95cf81 12.57px,#74cab8 16.59px,#67c8ce 18.60px,#37bbed 25.64px,#3a97df 34.69px,#3960be 56.81px,#3448ab 68.87px,#313ea1 98.03px,#313da1 101.05px)"></i>
<i style="left:138px;top:164.05px;width:2px;height:101.55px;background:linear-gradient(#c8271a 0.50px,#e6501f 1.51px,#f08522 2.51px,#f5ab25 3.52px,#f5d42b 5.53px,#f4e32d 6.54px,#c7d849 9.55px,#92ce85 13.57px,#71c9be 17.60px,#64c7d0 19.61px,#39bced 25.64px,#3a97df 35.69px,#3960be 57.81px,#3449ab 68.87px,#313ea2 97.03px,#313ea2 101.05px)"></i>
<i style="left:140px;top:164.05px;width:2px;height:101.55px;background:linear-gradient(#c02419 0.50px,#e4421f 1.51px,#ee7921 2.51px,#f5a323 3.52px,#f5bb27 4.52px,#f5dc2c 6.54px,#eee231 7.54px,#c2d74d 10.56px,#8dcd8b 14.58px,#74cab8 17.60px,#69c8cd 19.61px,#37bbee 26.64px,#3a99e0 35.69px,#3962bf 57.81px,#3449ac 68.87px,#313fa2 96.02px,#313ea2 101.05px)"></i>
<i style="left:142px;top:164.05px;width:2px;height:101.55px;background:linear-gradient(#b72017 0.50px,#de321e 1.51px,#f39623 3.52px,#f5b226 4.52px,#f5e22d 7.54px,#bfd64f 11.56px,#88cc93 15.58px,#71c9be 18.60px,#65c7d0 20.61px,#3abdec 26.64px,#3a93dd 38.71px,#395fbd 59.82px,#3449ac 69.88px,#313fa3 98.03px,#313fa2 101.05px)"></i>
<i style="left:144px;top:164.05px;width:2px;height:101.55px;background:linear-gradient(#aa1a15 0.50px,#cf2a1b 1.51px,#e64c1f 2.51px,#f08322 3.52px,#f5a824 4.52px,#f5ca29 6.54px,#f3e32e 8.55px,#cbd946 11.56px,#bcd654 12.57px,#8dcd8b 15.58px,#74cab8 18.60px,#69c8cd 20.61px,#38bced 27.65px,#3b8fda 40.72px,#385ab9 62.84px,#3447aa 72.89px,#323fa3 101.05px)"></i>
<i style="left:146px;top:164.05px;width:2px;height:101.55px;background:linear-gradient(#9e1513 0.50px,#e1351e 2.51px,#ed7221 3.52px,#f59f23 4.52px,#f5b326 5.53px,#f5dd2c 8.55px,#f0e330 9.55px,#c4d74a 12.57px,#92ce85 15.58px,#7ecba7 17.60px,#6bc8c9 20.61px,#3bbdec 27.65px,#37b7ec 29.66px,#3b8bd8 42.73px,#3752b4 66.86px,#3345a8 77.92px,#3240a4 101.05px)"></i>
<i style="left:148px;top:164.05px;width:2px;height:101.55px;background:linear-gradient(#961212 0.50px,#da2f1d 2.51px,#eb6720 3.52px,#f39723 4.52px,#f5ae25 5.53px,#f4e42e 9.55px,#c7d849 12.57px,#93ce83 15.58px,#7ecba5 17.60px,#6cc8c8 20.61px,#42bfe7 26.64px,#37bbee 28.66px,#3b8ad8 43.74px,#364fb2 68.87px,#3345a8 78.93px,#3240a4 101.05px)"></i>
<i style="left:150px;top:164.05px;width:2px;height:101.55px;background:linear-gradient(#961212 0.50px,#b21e16 1.51px,#d62d1c 2.51px,#ea6120 3.52px,#f39222 4.52px,#f5ab25 5.53px,#f5e42d 9.55px,#c7d849 12.57px,#93ce83 15.58px,#7ecba5 17.60px,#6cc8c8 20.61px,#42bfe7 26.64px,#37bbee 28.66px,#3b81d3 47.76px,#354aad 72.89px,#3240a4 97.03px,#3240a4 101.05px)"></i>
<i style="left:152px;top:164.05px;width:2px;height:101.55px;background:linear-gradient(#961212 0.50px,#ae1c16 1.51px,#d32c1c 2.51px,#e95d20 3.52px,#f28e22 4.52px,#f5a824 5.53px,#f5e32d 9.55px,#c7d849 12.57px,#93ce83 15.58px,#7ecba5 17.60px,#6cc8c8 20.61px,#41bfe7 26.64px,#37bbee 28.66px,#3c74cb 53.79px,#354aad 73.90px,#3240a4 98.03px,#3240a4 101.05px)"></i>
<i style="left:154px;top:164.05px;width:2px;height:101.55px;background:linear-gradient(#961212 0.50px,#ac1c16 1.51px,#d22c1c 2.51px,#e85b20 3.52px,#f28d22 4.52px,#f5a724 5.53px,#f5e32d 9.55px,#c7d849 12.57px,#93ce83 15.58px,#7ecba5 17.60px,#6cc8c8 20.61px,#41bee7 26.64px,#37bbee 28.66px,#3b6ec8 56.81px,#354aad 74.91px,#3240a4 99.04px,#3240a4 101.05px)"></i>
<i style="left:156px;top:164.05px;width:2px;height:101.55px;background:linear-gradient(#961212 0.50px,#ae1c16 1.51px,#d32c1c 2.51px,#e95d20 3.52px,#f28f22 4.52px,#f5a924 5.53px,#f4e42e 9.55px,#c4d74a 12.57px,#91ce86 15.58px,#7dcba8 17.60px,#6ac8cb 20.61px,#3abdec 27.65px,#38b1ea 31.67px,#3b82d3 49.77px,#364eb1 72.89px,#3343a6 87.98px,#3241a4 101.05px)"></i>
<i style="left:158px;top:164.05px;width:2px;height:101.55px;background:linear-gradient(#961212 0.50px,#b41f17 1.51px,#d72e1c 2.51px,#ea6320 3.52px,#f39422 4.52px,#f5ae25 5.53px,#f5dd2c 8.55px,#ede232 9.55px,#cfda44 11.56px,#bed651 12.57px,#8bcd8e 15.58px,#78cab1 17.60px,#6bc8c8 19.61px,#48c0e3 24.63px,#38bcee 27.65px,#3b8ad8 47.76px,#3964c0 62.84px,#364daf 75.91px,#3343a6 95.01px,#3243a6 101.05px)"></i>
<i style="left:160px;top:164.05px;width:2px;height:101.55px;background:linear-gradient(#9c1513 0.50px,#e0361e 2.51px,#ec6e21 3.52px,#f49e23 4.52px,#f5cd2a 6.54px,#f2dc2e 7.54px,#e7e035 8.55px,#c6d84d 10.56px,#b5d55c 11.56px,#86cc98 14.58px,#73c9ba 16.59px,#64c7cf 18.60px,#3fbee9 24.63px,#37b8ed 27.65px,#3b87d6 49.77px,#385aba 70.88px,#354bad 86.97px,#3448ab 101.05px)"></i>
<i style="left:162px;top:164.05px;width:2px;height:101.55px;background:linear-gradient(#af1d16 0.50px,#d62d1c 1.51px,#e75620 2.51px,#f08622 3.52px,#f5ad25 4.52px,#f5cb29 5.53px,#f3e32e 6.54px,#c5d74a 8.55px,#9bd07a 10.56px,#8bcd8e 11.56px,#6ec9c3 14.58px,#66c7cf 15.58px,#4ec1df 18.60px,#37bbee 23.63px,#3b8ad8 48.76px,#3962bf 72.89px,#3753b4 99.04px,#3753b4 101.05px)"></i>
<i style="left:164px;top:164.05px;width:2px;height:101.55px;background:linear-gradient(#c5261a 0.50px,#e33e1f 1.51px,#ec7121 2.51px,#f49d23 3.52px,#f5d72b 5.53px,#e9e134 6.54px,#bdd652 8.55px,#96cf80 10.56px,#7ecba7 12.57px,#6ec9c4 14.58px,#5ec5d5 16.59px,#3bbdeb 21.62px,#37b8ed 23.63px,#3b8fdb 42.73px,#3a6ac5 66.86px,#385bba 97.03px,#385aba 101.05px)"></i>
<i style="left:166px;top:164.05px;width:2px;height:101.55px;background:linear-gradient(#dd331d 0.50px,#f39322 2.51px,#f5b626 3.52px,#f5d42b 4.52px,#ebe133 5.53px,#bed651 7.54px,#98cf7e 9.55px,#80cba3 11.56px,#70c9c0 13.57px,#62c6d2 15.58px,#3dbdea 20.61px,#37b9ed 22.62px,#3a9ae1 35.69px,#3c73cb 62.84px,#3a67c3 99.04px,#3a67c3 101.05px)"></i>
<i style="left:168px;top:164.05px;width:1px;height:101.55px;background:linear-gradient(#e6501f 0.50px,#f08322 1.51px,#f5ad25 2.51px,#f5cd2a 3.52px,#ede232 4.52px,#bad556 6.54px,#90ce87 8.55px,#7ccba9 10.56px,#67c8ce 13.57px,#43bfe6 18.60px,#38bcee 20.61px,#3a9ce2 33.68px,#3b80d2 58.82px,#3c76cd 89.99px,#3c75cd 101.05px)"></i>
<i style="left:42px;top:316.2px;width:2px;height:102.05px;background:linear-gradient(#76cab4 0.51px,#6ac8cb 2.53px,#58c4d8 4.55px,#3bbdec 6.57px,#39a3e4 9.60px,#3b83d4 15.66px,#3a66c2 24.75px,#3751b3 37.89px,#303a9e 77.30px,#2e3699 101.54px)"></i>
<i style="left:44px;top:316.2px;width:2px;height:102.05px;background:linear-gradient(#77cab4 0.51px,#6ac8cb 2.53px,#4dc1df 5.56px,#3fbee9 6.57px,#37b7ec 7.58px,#3a94dd 12.63px,#3c73cb 20.71px,#3856b7 33.85px,#323fa3 65.17px,#2e3699 101.54px)"></i>
<i style="left:46px;top:316.2px;width:2px;height:102.05px;background:linear-gradient(#77cab3 0.51px,#6bc8ca 2.53px,#50c2de 5.56px,#37bbee 7.58px,#3a92dc 13.64px,#3b6fc8 22.73px,#3754b5 35.87px,#313da1 71.23px,#2e3799 101.54px)"></i>
<i style="left:48px;top:316.2px;width:2px;height:102.05px;background:linear-gradient(#78cab2 0.51px,#6bc8c9 2.53px,#52c2dc 5.56px,#3abdec 7.58px,#39a1e3 11.62px,#3c7bd0 19.70px,#385bba 31.83px,#354daf 44.96px,#303a9e 81.34px,#2e379a 101.54px)"></i>
<i style="left:50px;top:316.2px;width:2px;height:102.05px;background:linear-gradient(#78cab1 0.51px,#6cc8c8 2.53px,#4ac1e1 6.57px,#37baed 8.59px,#3a93dd 14.65px,#3b70c9 23.74px,#3756b6 35.87px,#313ea2 70.22px,#2e379a 101.54px)"></i>
<i style="left:52px;top:316.2px;width:2px;height:102.05px;background:linear-gradient(#79cab0 0.51px,#65c7cf 3.54px,#44bfe6 7.58px,#39bced 8.59px,#3a95de 14.65px,#3b72ca 23.74px,#3856b7 35.87px,#313fa2 69.21px,#2e379a 101.54px)"></i>
<i style="left:54px;top:316.2px;width:2px;height:102.05px;background:linear-gradient(#79caaf 0.51px,#66c7cf 3.54px,#48c0e3 7.58px,#37b9ed 9.60px,#3a98df 14.65px,#3b70c9 24.75px,#3857b8 35.87px,#3240a3 68.20px,#2f389b 101.54px)"></i>
<i style="left:56px;top:316.2px;width:2px;height:102.05px;background:linear-gradient(#7acaae 0.51px,#67c8ce 3.54px,#4cc1e0 7.58px,#37bcee 9.60px,#3a9ae1 14.65px,#3b72ca 24.75px,#3858b8 35.87px,#3242a6 63.15px,#2f389b 101.54px)"></i>
<i style="left:58px;top:316.2px;width:2px;height:102.05px;background:linear-gradient(#7acaad 0.51px,#68c8cd 3.54px,#4fc2de 7.58px,#3bbdec 9.60px,#38afe9 11.62px,#3b8eda 17.68px,#3a6bc5 27.79px,#3755b6 38.90px,#313fa2 72.24px,#2f389c 101.54px)"></i>
<i style="left:60px;top:316.2px;width:2px;height:102.05px;background:linear-gradient(#7bcbac 0.51px,#69c8cc 3.54px,#51c2dd 7.58px,#37b9ed 10.61px,#3a9ae0 15.66px,#3b6fc8 26.78px,#3857b8 37.89px,#3240a4 69.21px,#2f399c 101.54px)"></i>
<i style="left:62px;top:316.2px;width:2px;height:102.05px;background:linear-gradient(#7bcbab 0.51px,#6ac8cb 3.54px,#53c3db 7.58px,#37bbed 10.61px,#3a9ce1 15.66px,#3b71c9 26.78px,#3858b8 37.89px,#3241a5 68.20px,#2f399c 101.54px)"></i>
<i style="left:64px;top:316.2px;width:2px;height:102.05px;background:linear-gradient(#7ccbaa 0.51px,#6bc8ca 3.54px,#55c3da 7.58px,#37bcee 10.61px,#3a99e0 16.67px,#3b6cc6 28.80px,#3857b7 39.91px,#3240a4 71.23px,#2f399d 101.54px)"></i>
<i style="left:66px;top:316.2px;width:2px;height:102.05px;background:linear-gradient(#7dcba9 0.51px,#6bc8c8 3.54px,#56c3da 7.58px,#39bced 10.61px,#3a96de 17.68px,#3a6bc5 29.81px,#3755b6 41.93px,#3240a4 73.25px,#30399d 101.54px)"></i>
<i style="left:68px;top:316.2px;width:2px;height:102.05px;background:linear-gradient(#7dcba8 0.51px,#6cc8c7 3.54px,#56c3d9 7.58px,#3abdec 10.61px,#3a93dd 18.69px,#3a6ac5 30.82px,#3754b5 43.95px,#323fa3 76.28px,#303a9e 101.54px)"></i>
<i style="left:70px;top:316.2px;width:2px;height:102.05px;background:linear-gradient(#7ecba7 0.51px,#69c8cd 4.55px,#4ec2df 8.59px,#3bbdeb 10.61px,#38b2ea 12.63px,#3b89d7 21.72px,#3a66c2 32.84px,#3751b3 46.98px,#313ea2 80.33px,#303a9e 101.54px)"></i>
<i style="left:72px;top:316.2px;width:2px;height:102.05px;background:linear-gradient(#7ecba5 0.51px,#6ac8cb 4.55px,#4fc2de 8.59px,#3cbdeb 10.61px,#38b3ea 12.63px,#3b8ad8 21.72px,#3a68c3 32.84px,#3751b3 47.99px,#313ea2 82.35px,#303b9f 101.54px)"></i>
<i style="left:74px;top:316.2px;width:2px;height:102.05px;background:linear-gradient(#7fcba4 0.51px,#6bc8ca 4.55px,#4fc2de 8.59px,#3dbdea 10.61px,#37b9ed 11.62px,#3a93dd 19.70px,#3b6cc6 31.83px,#3754b5 45.97px,#3240a3 79.32px,#303b9f 101.54px)"></i>
<i style="left:76px;top:316.2px;width:2px;height:102.05px;background:linear-gradient(#80cba3 0.51px,#6cc8c8 4.55px,#4fc2de 8.59px,#37baed 11.62px,#3b91db 20.71px,#3a6bc5 32.84px,#3752b4 47.99px,#313fa3 83.36px,#313ca0 101.54px)"></i>
<i style="left:78px;top:316.2px;width:2px;height:102.05px;background:linear-gradient(#81cba1 0.51px,#67c8ce 5.56px,#37bbee 11.62px,#3a92dc 20.71px,#3a6ac5 33.85px,#3752b4 49.00px,#3240a3 83.36px,#313da1 101.54px)"></i>
<i style="left:80px;top:316.2px;width:2px;height:102.05px;background:linear-gradient(#81cba0 0.51px,#68c8cd 5.56px,#37bcee 11.62px,#3a94dd 20.71px,#3b6cc6 33.85px,#3753b5 49.00px,#3240a4 83.36px,#313da1 101.54px)"></i>
<i style="left:82px;top:316.2px;width:2px;height:102.05px;background:linear-gradient(#82cc9e 0.51px,#69c8cd 5.56px,#38bced 11.62px,#3a92dc 21.72px,#3a6ac4 35.87px,#3752b4 51.02px,#3240a4 84.37px,#313ea2 101.54px)"></i>
<i style="left:84px;top:316.2px;width:2px;height:102.05px;background:linear-gradient(#83cc9c 0.51px,#62c6d1 6.57px,#3abdec 11.62px,#39a7e6 16.67px,#3c75cd 31.83px,#385ab9 45.97px,#3345a8 72.24px,#313fa2 101.54px)"></i>
<i style="left:86px;top:316.2px;width:2px;height:102.05px;background:linear-gradient(#85cc9a 0.51px,#64c7d1 6.57px,#37bbee 12.63px,#3b90db 23.74px,#3a68c3 38.90px,#3751b3 55.07px,#3241a5 85.38px,#323fa3 101.54px)"></i>
<i style="left:88px;top:316.2px;width:2px;height:102.05px;background:linear-gradient(#86cc97 0.51px,#66c7cf 6.57px,#39bdec 12.63px,#3b8bd8 26.78px,#3a65c1 41.93px,#364eb1 61.13px,#3241a5 88.41px,#3240a3 101.54px)"></i>
<i style="left:90px;top:316.2px;width:2px;height:102.05px;background:linear-gradient(#88cc94 0.51px,#69c8cd 6.57px,#38bced 13.64px,#3b8dd9 27.79px,#3a68c3 42.94px,#364fb1 62.14px,#3242a5 89.42px,#3240a4 101.54px)"></i>
<i style="left:92px;top:316.2px;width:2px;height:102.05px;background:linear-gradient(#8acd90 0.51px,#65c7d0 7.58px,#39bced 14.65px,#3b8dd9 29.81px,#3a6ac4 44.96px,#364fb2 63.15px,#3343a6 90.43px,#3241a5 101.54px)"></i>
<i style="left:94px;top:316.2px;width:2px;height:102.05px;background:linear-gradient(#8ccd8c 0.51px,#69c8cc 7.58px,#37bbed 16.67px,#3b90db 30.82px,#3a67c3 49.00px,#3650b2 64.16px,#3343a6 92.45px,#3242a5 101.54px)"></i>
<i style="left:96px;top:316.2px;width:2px;height:102.05px;background:linear-gradient(#90ce88 0.51px,#70c9c0 6.57px,#5dc5d5 10.61px,#39bced 17.68px,#3a94dd 31.83px,#395dbc 56.08px,#354daf 70.22px,#3242a6 101.54px)"></i>
<i style="left:98px;top:316.2px;width:2px;height:102.05px;background:linear-gradient(#94cf82 0.51px,#86cc98 2.53px,#6fc9c2 7.58px,#5cc5d5 11.62px,#37bbed 19.70px,#3a97df 32.84px,#395fbd 56.08px,#364eb1 69.21px,#3343a6 101.54px)"></i>
<i style="left:100px;top:316.2px;width:2px;height:102.05px;background:linear-gradient(#9acf7c 0.51px,#88cc93 2.53px,#74cab8 6.57px,#66c7cf 10.61px,#38bced 20.71px,#3c73cb 49.00px,#3858b8 61.13px,#354aad 77.30px,#3343a6 101.54px)"></i>
<i style="left:102px;top:316.2px;width:2px;height:102.05px;background:linear-gradient(#a0d175 0.51px,#8bcd8f 2.53px,#7acaad 5.56px,#68c8ce 10.61px,#37bcee 21.72px,#3c75cc 49.00px,#385bba 60.12px,#354caf 74.26px,#3343a7 101.54px)"></i>
<i style="left:104px;top:316.2px;width:2px;height:102.05px;background:linear-gradient(#a7d26c 0.51px,#8ecd89 2.53px,#7bcbab 5.56px,#68c8ce 10.61px,#39bced 21.72px,#3c7ed1 45.97px,#385dbb 59.11px,#364daf 73.25px,#3343a7 101.54px)"></i>
<i style="left:106px;top:316.2px;width:2px;height:102.05px;background:linear-gradient(#b4d45d 0.51px,#94ce83 2.53px,#88cc93 3.54px,#78cab2 6.57px,#66c7cf 10.61px,#4ac1e1 16.67px,#37bcee 22.73px,#3c76cd 47.99px,#3859b9 61.13px,#354bae 76.28px,#3343a7 101.54px)"></i>
<i style="left:108px;top:316.2px;width:2px;height:102.05px;background:linear-gradient(#c3d74c 0.51px,#b1d460 1.52px,#9bd07a 2.53px,#8acd8f 3.54px,#78cab1 6.57px,#64c7d0 10.61px,#4bc1e1 15.66px,#37baed 23.74px,#3c77cd 46.98px,#3858b8 62.14px,#354aac 79.32px,#3343a7 101.54px)"></i>
<i style="left:110px;top:316.2px;width:2px;height:102.05px;background:linear-gradient(#d4db41 0.51px,#c0d74f 1.52px,#a6d26d 2.53px,#91ce86 3.54px,#80cba2 5.56px,#6cc8c8 9.60px,#54c3db 13.64px,#37bcee 23.74px,#3b7fd2 43.95px,#395dbc 59.11px,#364db0 73.25px,#3343a7 101.54px)"></i>
<i style="left:112px;top:316.2px;width:2px;height:102.05px;background:linear-gradient(#e9e134 0.51px,#d5dc40 1.52px,#bcd653 2.53px,#a6d26d 3.54px,#8acd90 5.56px,#77cab3 8.59px,#68c8cc 11.62px,#4ec1df 16.67px,#37baed 25.77px,#3c77ce 47.99px,#3858b8 64.16px,#354aac 82.35px,#3343a7 101.54px)"></i>
<i style="left:114px;top:316.2px;width:2px;height:102.05px;background:linear-gradient(#f5de2c 0.51px,#e7e035 1.52px,#bdd652 3.54px,#9bd07a 5.56px,#8ecd8b 6.57px,#7bcbac 9.60px,#68c8cd 13.64px,#4cc1e0 18.69px,#37baed 27.79px,#3c7cd0 47.99px,#385bba 64.16px,#354cae 80.33px,#3343a7 101.54px)"></i>
<i style="left:116px;top:316.2px;width:2px;height:102.05px;background:linear-gradient(#f5d62b 0.51px,#f1e330 1.52px,#cbd946 3.54px,#9bd07b 6.57px,#88cc94 8.59px,#6ac8cb 14.65px,#52c2dc 18.69px,#37bbee 28.80px,#3c7dd1 49.00px,#385cbb 65.17px,#354bad 82.35px,#3343a7 101.54px)"></i>
<i style="left:118px;top:316.2px;width:2px;height:102.05px;background:linear-gradient(#f5d22a 0.51px,#f5e32d 1.52px,#c6d849 4.55px,#9bd07a 7.58px,#89cd91 9.60px,#65c7d0 16.67px,#51c2dd 20.71px,#37bbee 29.81px,#3c7bd0 51.02px,#385aba 68.20px,#3449ac 85.38px,#3343a6 101.54px)"></i>
<i style="left:120px;top:316.2px;width:2px;height:102.05px;background:linear-gradient(#f5cf2a 0.51px,#f5df2c 1.52px,#ebe133 2.53px,#c3d74c 5.56px,#9cd079 8.59px,#86cc98 11.62px,#68c8cd 17.68px,#52c2dc 22.73px,#37bcee 30.82px,#3c78ce 53.05px,#3753b5 74.26px,#3345a8 92.45px,#3242a6 101.54px)"></i>
<i style="left:122px;top:316.2px;width:2px;height:102.05px;background:linear-gradient(#f5cc2a 0.51px,#f5dc2c 1.52px,#f0e330 2.53px,#c2d74d 6.57px,#9ed076 9.60px,#88cc94 12.63px,#6bc8c9 18.69px,#52c2dc 24.75px,#38bced 31.83px,#3c7ed1 52.04px,#3961bf 66.18px,#354aad 82.35px,#3241a5 101.54px)"></i>
<i style="left:124px;top:316.2px;width:2px;height:102.05px;background:linear-gradient(#f5c929 0.51px,#f5e22d 2.53px,#dbdd3d 5.56px,#c3d74c 7.58px,#a2d172 10.61px,#85cc98 14.65px,#6ec9c3 19.70px,#61c6d2 22.73px,#38bced 32.84px,#3b88d7 50.01px,#3b6ec7 60.12px,#354aac 82.35px,#3240a4 101.54px)"></i>
<i style="left:126px;top:316.2px;width:2px;height:102.05px;background:linear-gradient(#f5c428 0.51px,#f5da2c 2.53px,#f1e32f 4.55px,#c5d84a 8.59px,#98cf7e 13.64px,#7fcba3 17.68px,#6ac8ca 22.73px,#37bbed 34.86px,#3b85d5 52.04px,#3b6cc6 62.14px,#354aad 81.34px,#313fa2 101.54px)"></i>
<i style="left:128px;top:316.2px;width:2px;height:102.05px;background:linear-gradient(#f5bb27 0.51px,#f5ce2a 2.53px,#f4e12d 5.56px,#e1df39 7.58px,#b9d557 11.62px,#8acd90 17.68px,#72c9bb 22.73px,#63c7d1 26.78px,#37baed 36.88px,#3b86d5 53.05px,#3a6ac5 64.16px,#354aac 81.34px,#313ca0 101.54px)"></i>
<i style="left:130px;top:316.2px;width:2px;height:102.05px;background:linear-gradient(#f5a624 0.51px,#f5ba27 2.53px,#f5dd2c 6.57px,#f1e32f 7.58px,#c5d84b 12.63px,#88cc94 20.71px,#6fc9c1 26.78px,#59c4d8 31.83px,#39bbed 38.90px,#3a95de 50.01px,#3b72ca 61.13px,#3447aa 82.35px,#2f389b 99.52px,#2e379a 101.54px)"></i>
<i style="left:132px;top:316.2px;width:2px;height:102.05px;background:linear-gradient(#ef7d21 0.51px,#f5a924 3.54px,#f5dc2c 8.59px,#ece232 10.61px,#c0d750 16.67px,#8bcd8f 23.74px,#6ac8ca 31.83px,#3cbdeb 40.92px,#38b5eb 43.95px,#3c7dd1 58.10px,#3242a5 83.36px,#2d3597 95.48px,#2b3293 101.54px)"></i>
<i style="left:134px;top:316.2px;width:2px;height:102.05px;background:linear-gradient(#d93c1d 0.51px,#e75520 2.53px,#f18d22 5.56px,#f5b426 8.59px,#f5d82b 12.63px,#e6e036 16.67px,#c9d94a 20.71px,#a0d174 25.77px,#81cba0 30.82px,#6dc8c4 35.87px,#4ec2de 41.93px,#3bbaeb 45.97px,#38ade8 49.00px,#3c75cc 62.14px,#3447aa 79.32px,#2e379a 87.40px,#272c8a 101.54px)"></i>
<i style="left:136px;top:316.2px;width:2px;height:102.05px;background:linear-gradient(#a41814 0.51px,#d92e1d 4.55px,#e2391e 5.56px,#f18c22 9.60px,#f49d23 10.61px,#f5b827 13.64px,#f2e32f 20.71px,#c0d74e 26.78px,#8bcd8e 33.85px,#69c8cc 41.93px,#39bced 49.00px,#3b92dc 57.09px,#3c76cd 63.15px,#3856b7 74.26px,#2f389b 84.37px,#24277f 101.54px)"></i>
<i style="left:138px;top:316.2px;width:2px;height:102.05px;background:linear-gradient(#c12419 0.51px,#d7311c 2.53px,#e54a1f 4.55px,#f39423 8.59px,#f5af25 10.61px,#f5d92b 15.66px,#eae034 18.69px,#cbd948 22.73px,#a1d173 27.79px,#82cc9f 32.84px,#65c7cc 38.90px,#40bde7 44.96px,#38b3ea 47.99px,#3c75cc 61.13px,#2f389c 84.37px,#252a84 101.54px)"></i>
<i style="left:140px;top:316.2px;width:2px;height:102.05px;background:linear-gradient(#e64f1f 0.51px,#f4a224 5.56px,#f5d52b 10.61px,#efe030 12.63px,#d7dc3f 15.66px,#b6d55a 19.70px,#8acd91 25.77px,#69c8ca 32.84px,#3dbdea 39.91px,#38b1ea 42.94px,#3c74cc 58.10px,#364eb0 74.26px,#2f389b 88.41px,#2a3191 101.54px)"></i>
<i style="left:142px;top:316.2px;width:2px;height:102.05px;background:linear-gradient(#f08622 0.51px,#f5ab25 2.53px,#f5d92b 6.57px,#ece032 8.59px,#c2d74f 13.64px,#91ce87 19.70px,#72c9bc 26.78px,#58c4d9 31.83px,#3dbeea 35.87px,#38b3eb 38.90px,#3c7fd2 52.04px,#385cbb 66.18px,#3343a7 84.37px,#2f399c 101.54px)"></i>
<i style="left:144px;top:316.2px;width:2px;height:102.05px;background:linear-gradient(#f5a824 0.51px,#f5cb29 2.53px,#f2e02e 4.55px,#ccd945 8.59px,#a9d26a 12.63px,#8bcd90 16.67px,#71c9be 22.73px,#5bc5d7 27.79px,#3cbdeb 32.84px,#38b3ea 35.87px,#3c7dd1 50.01px,#385cbb 65.17px,#354caf 78.31px,#3240a4 101.54px)"></i>
<i style="left:146px;top:316.2px;width:2px;height:102.05px;background:linear-gradient(#f5b827 0.51px,#f5db2c 2.53px,#efe330 3.54px,#c0d74f 7.58px,#93ce84 12.63px,#75cab7 18.69px,#64c7d0 22.73px,#39bbec 30.82px,#3c7cd0 47.99px,#385cbb 64.16px,#354daf 78.31px,#3343a6 101.54px)"></i>
<i style="left:148px;top:316.2px;width:2px;height:102.05px;background:linear-gradient(#f5c428 0.51px,#f5d62b 1.52px,#f1e32f 2.53px,#c6d849 5.56px,#9acf7c 9.60px,#85cc99 12.63px,#67c7ce 19.70px,#39bcec 27.79px,#3b81d3 43.95px,#3a66c2 56.08px,#364fb1 75.27px,#3344a7 101.54px)"></i>
<i style="left:150px;top:316.2px;width:2px;height:102.05px;background:linear-gradient(#f5cd2a 0.51px,#f5df2c 1.52px,#e7e035 2.53px,#c7d848 4.55px,#9ed076 7.58px,#8bcd8e 9.60px,#73c9bb 14.65px,#60c6d3 18.69px,#38bbed 25.77px,#3c7bd0 43.95px,#395ebc 60.12px,#364daf 78.31px,#3344a7 101.54px)"></i>
<i style="left:152px;top:316.2px;width:2px;height:102.05px;background:linear-gradient(#f5d42b 0.51px,#f2e32f 1.52px,#bed651 4.55px,#93ce83 7.58px,#7ecba6 10.61px,#68c8cd 15.66px,#39bced 23.74px,#3c7bd0 41.93px,#395fbd 58.10px,#364eb0 77.30px,#3345a8 101.54px)"></i>
<i style="left:154px;top:316.2px;width:2px;height:102.05px;background:linear-gradient(#f5db2c 0.51px,#ece232 1.52px,#c8d848 3.54px,#99cf7d 6.57px,#8ccd8c 7.58px,#75cab7 11.62px,#67c8ce 14.65px,#38bced 22.73px,#3c7dd1 39.91px,#3963c0 54.06px,#364fb1 75.27px,#3346a9 101.54px)"></i>
<i style="left:156px;top:316.2px;width:2px;height:102.05px;background:linear-gradient(#f5e02c 0.51px,#e8e135 1.52px,#c4d74a 3.54px,#95cf82 6.57px,#83cc9d 8.59px,#6ac8cb 13.64px,#39bdec 21.72px,#3c7ed1 38.90px,#3a65c1 52.04px,#364fb1 75.27px,#3446a9 101.54px)"></i>
<i style="left:158px;top:316.2px;width:2px;height:102.05px;background:linear-gradient(#f4e32d 0.51px,#c1d74d 3.54px,#92ce85 6.57px,#7ccbaa 9.60px,#68c8cd 13.64px,#37bcee 21.72px,#3b83d4 36.88px,#3b6cc6 46.98px,#3751b3 72.24px,#3447aa 101.54px)"></i>
<i style="left:160px;top:316.2px;width:2px;height:102.05px;background:linear-gradient(#f1e32f 0.51px,#bfd650 3.54px,#8fce88 6.57px,#7bcbac 9.60px,#67c7ce 13.64px,#37baed 21.72px,#3b85d5 35.87px,#3b6fc8 44.96px,#3752b4 70.22px,#3448ab 101.54px)"></i>
<i style="left:162px;top:316.2px;width:2px;height:102.05px;background:linear-gradient(#ede232 0.51px,#cdd945 2.53px,#bcd654 3.54px,#8dcd8b 6.57px,#79caaf 9.60px,#65c7d0 13.64px,#38bced 20.71px,#3b86d6 34.86px,#3b70c9 43.95px,#3755b6 68.20px,#3449ac 101.54px)"></i>
<i style="left:164px;top:316.2px;width:2px;height:102.05px;background:linear-gradient(#e8e135 0.51px,#c9d947 2.53px,#8acd8f 6.57px,#77cab3 9.60px,#68c8cd 12.63px,#3bbdec 19.70px,#38b1ea 22.73px,#3b80d3 35.87px,#3b6cc6 45.97px,#3751b3 73.25px,#354aad 101.54px)"></i>
<i style="left:166px;top:316.2px;width:2px;height:102.05px;background:linear-gradient(#e1df39 0.51px,#c3d74b 2.53px,#93ce84 5.56px,#7fcba4 7.58px,#6dc9c6 10.61px,#51c2dd 14.65px,#39baec 18.69px,#3b88d7 30.82px,#3b71c9 39.91px,#3857b7 64.16px,#354caf 92.45px,#354bae 101.54px)"></i>
<i style="left:168px;top:316.2px;width:1px;height:102.05px;background:linear-gradient(#dcdd3c 0.51px,#bed651 2.53px,#8ecd8a 5.56px,#73c9ba 8.59px,#64c7d0 10.61px,#37bcee 16.67px,#3b8dda 26.78px,#3b71ca 35.87px,#385bba 56.08px,#364eb1 81.34px,#354cae 101.54px)"></i>
<i style="left:42px;top:468.3px;width:4px;height:102px;background:linear-gradient(#97cf7f 0.50px,#6fc9c2 3.53px,#62c6d1 4.54px,#3abdec 7.57px,#38aee9 10.60px,#3b71c9 26.76px,#3650b2 40.90px,#3345a8 70.19px,#3241a4 101.50px)"></i>
<i style="left:46px;top:468.3px;width:4px;height:102px;background:linear-gradient(#97cf7e 0.50px,#70c9c1 3.53px,#63c7d1 4.54px,#3cbdeb 7.57px,#38b4eb 9.59px,#3b71ca 26.76px,#3751b3 40.90px,#3446a9 65.14px,#3241a4 101.50px)"></i>
<i style="left:50px;top:468.3px;width:4px;height:102px;background:linear-gradient(#98cf7d 0.50px,#70c9c0 3.53px,#65c7d0 4.54px,#3dbeea 7.57px,#37baed 8.58px,#3c75cc 25.75px,#3752b4 40.90px,#3447aa 63.12px,#3241a5 101.50px)"></i>
<i style="left:54px;top:468.3px;width:4px;height:102px;background:linear-gradient(#9ad07c 0.50px,#71c9be 3.53px,#66c7cf 4.54px,#3fbee9 7.57px,#37bbee 8.58px,#3c73cb 26.76px,#3752b4 41.91px,#3447aa 65.14px,#3242a5 101.50px)"></i>
<i style="left:58px;top:468.3px;width:2px;height:102px;background:linear-gradient(#9cd07a 0.50px,#7ecba7 2.52px,#68c8ce 4.54px,#41bee7 7.57px,#38bcee 8.58px,#3c75cc 26.76px,#3752b4 42.92px,#3447aa 67.16px,#3242a6 101.50px)"></i>
<i style="left:60px;top:468.3px;width:2px;height:102px;background:linear-gradient(#9dd078 0.50px,#7ecba6 2.52px,#68c8cd 4.54px,#42bfe7 7.57px,#39bced 8.58px,#3c76cd 26.76px,#3753b5 42.92px,#3448ab 64.13px,#3343a6 101.50px)"></i>
<i style="left:62px;top:468.3px;width:2px;height:102px;background:linear-gradient(#9ed077 0.50px,#7fcba4 2.52px,#69c8cd 4.54px,#43bfe6 7.57px,#3abdec 8.58px,#39a8e6 13.63px,#3b6ec7 29.79px,#3751b3 45.95px,#3346a9 81.30px,#3343a6 101.50px)"></i>
<i style="left:64px;top:468.3px;width:2px;height:102px;background:linear-gradient(#9fd075 0.50px,#80cba3 2.52px,#73c9ba 3.53px,#6ac8cc 4.54px,#45bfe5 7.57px,#3bbdeb 8.58px,#38b5eb 10.60px,#3b6fc8 29.79px,#3751b4 45.95px,#3446a9 78.27px,#3343a7 101.50px)"></i>
<i style="left:66px;top:468.3px;width:2px;height:102px;background:linear-gradient(#a1d173 0.50px,#90ce87 1.51px,#74cab9 3.53px,#6ac8cb 4.54px,#46c0e4 7.57px,#37baed 9.59px,#3c76cd 27.77px,#3755b6 43.93px,#354aad 62.11px,#3344a7 101.50px)"></i>
<i style="left:68px;top:468.3px;width:2px;height:102px;background:linear-gradient(#a3d170 0.50px,#92ce85 1.51px,#75cab7 3.53px,#6bc8c9 4.54px,#47c0e3 7.57px,#37bbee 9.59px,#3c7bd0 26.76px,#3961be 37.87px,#364fb2 51.00px,#3344a8 100.49px,#3344a7 101.50px)"></i>
<i style="left:70px;top:468.3px;width:2px;height:102px;background:linear-gradient(#a6d26d 0.50px,#95cf82 1.51px,#76cab6 3.53px,#6cc8c8 4.54px,#54c3db 6.56px,#37bcee 9.59px,#3b83d4 24.74px,#3a68c3 34.84px,#3750b3 51.00px,#3345a8 94.43px,#3345a8 101.50px)"></i>
<i style="left:72px;top:468.3px;width:2px;height:102px;background:linear-gradient(#a9d26a 0.50px,#97cf7f 1.51px,#76cab4 3.53px,#6dc9c6 4.54px,#55c3da 6.56px,#39bced 9.59px,#3b82d3 25.75px,#3a67c3 35.85px,#3650b2 53.02px,#3345a9 100.49px,#3345a8 101.50px)"></i>
<i style="left:74px;top:468.3px;width:2px;height:102px;background:linear-gradient(#abd367 0.50px,#9acf7c 1.51px,#77cab2 3.53px,#6dc9c5 4.54px,#57c4d9 6.56px,#3abdec 9.59px,#38b1ea 12.62px,#3b71ca 31.81px,#3753b5 51.00px,#3448ab 82.31px,#3446a9 101.50px)"></i>
<i style="left:76px;top:468.3px;width:2px;height:102px;background:linear-gradient(#aed364 0.50px,#9cd079 1.51px,#79cab0 3.53px,#6ec9c3 4.54px,#64c7d0 5.55px,#3cbdeb 9.59px,#37baed 10.60px,#3b88d7 24.74px,#3b6cc6 34.84px,#3751b3 55.04px,#3447aa 99.48px,#3447aa 101.50px)"></i>
<i style="left:78px;top:468.3px;width:2px;height:102px;background:linear-gradient(#b1d460 0.50px,#8acd8f 2.52px,#7acaad 3.53px,#70c9c1 4.54px,#66c7cf 5.55px,#3ebeea 9.59px,#37bbee 10.60px,#3b8dd9 23.73px,#3b6dc7 35.85px,#3752b4 56.05px,#3448aa 93.42px,#3447aa 101.50px)"></i>
<i style="left:80px;top:468.3px;width:2px;height:102px;background:linear-gradient(#b4d45d 0.50px,#8dcd8b 2.52px,#7dcba9 3.53px,#71c9be 4.54px,#68c8cd 5.55px,#3fbee9 9.59px,#37bcee 10.60px,#3b91dc 22.72px,#3b6dc7 36.86px,#3754b5 58.07px,#3449ac 88.37px,#3448ab 101.50px)"></i>
<i style="left:82px;top:468.3px;width:2px;height:102px;background:linear-gradient(#b7d559 0.50px,#90ce88 2.52px,#7fcba5 3.53px,#73c9bb 4.54px,#6ac8cb 5.55px,#41bee8 9.59px,#39bced 10.60px,#3b90db 23.73px,#3b6cc6 38.88px,#3750b3 65.14px,#3449ac 101.50px)"></i>
<i style="left:84px;top:468.3px;width:2px;height:102px;background:linear-gradient(#bad556 0.50px,#92ce85 2.52px,#81cba1 3.53px,#74cab9 4.54px,#6bc8c9 5.55px,#4bc1e1 8.58px,#3abdec 10.60px,#38b2ea 13.63px,#3b82d4 29.79px,#3a68c3 42.92px,#364eb1 71.20px,#3549ac 101.50px)"></i>
<i style="left:86px;top:468.3px;width:2px;height:102px;background:linear-gradient(#bcd654 0.50px,#94cf82 2.52px,#82cc9f 3.53px,#75cab7 4.54px,#6cc8c7 5.55px,#56c4d9 7.57px,#3cbdeb 10.60px,#37bbed 11.61px,#3b91db 24.74px,#3b6dc6 40.90px,#3752b4 66.15px,#354aad 101.50px)"></i>
<i style="left:88px;top:468.3px;width:2px;height:102px;background:linear-gradient(#bdd652 0.50px,#96cf81 2.52px,#83cc9d 3.53px,#76cab5 4.54px,#6dc9c6 5.55px,#58c4d8 7.57px,#37bbee 11.61px,#3b90db 25.75px,#3b6ec8 40.90px,#3856b7 61.10px,#354caf 87.36px,#354bae 101.50px)"></i>
<i style="left:90px;top:468.3px;width:2px;height:102px;background:linear-gradient(#bed651 0.50px,#97cf7f 2.52px,#84cc9c 3.53px,#77cab4 4.54px,#64c7d0 6.56px,#3ebee9 10.60px,#37bcee 11.61px,#3b8cd9 27.77px,#3b6cc6 42.92px,#3857b8 60.09px,#364db0 87.36px,#354cae 101.50px)"></i>
<i style="left:92px;top:468.3px;width:2px;height:102px;background:linear-gradient(#bfd650 0.50px,#98cf7e 2.52px,#84cc9a 3.53px,#77cab2 4.54px,#65c7d0 6.56px,#40bee8 10.60px,#39bced 11.61px,#3b88d7 29.79px,#3a67c3 46.96px,#3857b7 61.10px,#354daf 96.45px,#354daf 101.50px)"></i>
<i style="left:94px;top:468.3px;width:2px;height:102px;background:linear-gradient(#c1d74e 0.50px,#9ad07c 2.52px,#86cc97 3.53px,#79cab0 4.54px,#67c7ce 6.56px,#41bee7 10.60px,#37baed 12.62px,#3b85d5 31.81px,#385cbb 54.03px,#3750b2 78.27px,#364db0 101.50px)"></i>
<i style="left:96px;top:468.3px;width:2px;height:102px;background:linear-gradient(#c3d74c 0.50px,#9dd078 2.52px,#88cc93 3.53px,#7acaad 4.54px,#69c8cd 6.56px,#43bfe6 10.60px,#37bbee 12.62px,#3b86d6 31.81px,#385bbb 55.04px,#3650b2 82.31px,#364eb1 101.50px)"></i>
<i style="left:98px;top:468.3px;width:2px;height:102px;background:linear-gradient(#c5d84a 0.50px,#a2d172 2.52px,#8ccd8c 3.53px,#7dcba7 4.54px,#72c9bc 5.55px,#6ac8cb 6.56px,#45bfe5 10.60px,#38bcee 12.62px,#3b85d5 32.82px,#385bba 56.05px,#3750b2 86.35px,#364fb1 101.50px)"></i>
<i style="left:100px;top:468.3px;width:2px;height:102px;background:linear-gradient(#cad947 0.50px,#bbd654 1.51px,#95cf81 3.53px,#82cc9e 4.54px,#75cab6 5.55px,#6dc9c6 6.56px,#59c4d8 8.58px,#3abdec 12.62px,#38b4eb 15.65px,#3b80d2 35.85px,#385aba 57.06px,#3750b2 90.39px,#3650b2 101.50px)"></i>
<i style="left:102px;top:468.3px;width:2px;height:102px;background:linear-gradient(#e8d833 0.50px,#e1df39 1.51px,#bdd656 3.53px,#a6d26d 4.54px,#94cf87 5.55px,#78cab1 8.58px,#58c4d7 13.63px,#49c0e2 16.66px,#38b2ea 22.72px,#3b82d4 38.88px,#385cbb 57.06px,#364eb0 87.36px,#354bae 101.50px)"></i>
<i style="left:104px;top:468.3px;width:2px;height:102px;background:linear-gradient(#ee7721 0.50px,#f29924 1.51px,#f5b426 2.52px,#f5c629 3.53px,#f2d22c 4.54px,#ddde3b 7.57px,#a3d171 13.63px,#7bcbab 19.69px,#58c4d8 25.75px,#44bee5 28.78px,#38b1ea 32.82px,#3c7ed1 46.96px,#3961bf 57.06px,#3449ab 83.32px,#303ca0 101.50px)"></i>
<i style="left:106px;top:468.3px;width:2px;height:102px;background:linear-gradient(#c8271a 0.50px,#da391d 1.51px,#e7511f 2.52px,#f28e22 4.54px,#f5b226 6.56px,#f5d52b 9.59px,#eadf33 12.62px,#ceda45 16.66px,#aed364 20.70px,#80cba2 26.76px,#61c6cf 31.81px,#42bee7 35.85px,#38b3ea 38.88px,#3c79cf 52.01px,#395ebc 62.11px,#2d3698 90.39px,#282e8b 101.50px)"></i>
<i style="left:108px;top:468.3px;width:2px;height:102px;background:linear-gradient(#b11e16 0.50px,#db311d 2.52px,#ed7221 4.54px,#f18b22 5.55px,#f4a023 6.56px,#f5c528 9.59px,#f5dc2c 12.62px,#e9e134 15.65px,#c3d74e 20.70px,#96cf80 25.75px,#6ac8c8 32.82px,#40bee8 37.87px,#37b7ec 39.89px,#3b88d7 49.99px,#3962bf 61.10px,#3447aa 75.24px,#2b3394 89.38px,#242880 101.50px)"></i>
<i style="left:110px;top:468.3px;width:2px;height:102px;background:linear-gradient(#de3f1e 0.50px,#ef8022 2.52px,#f5b326 4.54px,#f5d32b 6.56px,#e9de34 8.58px,#cdda47 11.61px,#a4d16f 15.65px,#7fcba3 20.70px,#63c6cb 25.75px,#49c0e2 29.79px,#38b2ea 34.84px,#3b6fc8 54.03px,#3650b2 71.20px,#2e3699 94.43px,#2b3394 101.50px)"></i>
<i style="left:112px;top:468.3px;width:2px;height:102px;background:linear-gradient(#f29d24 0.50px,#f5b726 1.51px,#f5cc29 2.52px,#f0d82e 3.53px,#e7de35 4.54px,#afd363 8.58px,#89cd95 12.62px,#70c9bf 16.66px,#56c3da 20.70px,#3ebce9 24.74px,#38b3ea 27.77px,#3b81d3 42.92px,#3963c0 56.05px,#354aad 79.28px,#313da1 101.50px)"></i>
<i style="left:114px;top:468.3px;width:2px;height:102px;background:linear-gradient(#efdd30 0.50px,#e6e036 1.51px,#c6d84b 3.53px,#9fd175 5.55px,#87cc96 7.57px,#73c9bb 10.60px,#59c4d7 14.64px,#3ebee9 18.68px,#38b5eb 21.71px,#3b72ca 42.92px,#3857b8 60.09px,#354aad 82.31px,#3446a9 101.50px)"></i>
<i style="left:116px;top:468.3px;width:2px;height:102px;background:linear-gradient(#dadd3d 0.50px,#bed651 2.52px,#8acd90 5.55px,#72c9bd 8.58px,#62c6d1 10.60px,#3bbdeb 15.65px,#38aee8 19.69px,#3c77cd 37.87px,#385aba 54.03px,#354daf 73.22px,#3447aa 101.50px)"></i>
<i style="left:118px;top:468.3px;width:2px;height:102px;background:linear-gradient(#ccd946 0.50px,#bed651 1.51px,#8dcd8c 4.54px,#79cab0 6.56px,#6ac8cb 8.58px,#3abdec 13.63px,#39aae7 17.67px,#3b8bd8 26.76px,#3962bf 45.95px,#3751b3 61.10px,#3447aa 101.50px)"></i>
<i style="left:120px;top:468.3px;width:2px;height:102px;background:linear-gradient(#c2d74c 0.50px,#86cc97 4.54px,#74cab9 6.56px,#62c6d1 8.58px,#39bced 12.62px,#3b91dc 21.71px,#3c75cc 32.82px,#3752b4 56.05px,#3448aa 101.50px)"></i>
<i style="left:122px;top:468.3px;width:2px;height:102px;background:linear-gradient(#bcd653 0.50px,#8ecd8a 3.53px,#71c9bf 6.56px,#69c8cd 7.57px,#3cbdeb 11.61px,#37b9ed 12.62px,#3b90db 20.70px,#3c77ce 29.79px,#3751b3 56.05px,#3448aa 101.50px)"></i>
<i style="left:124px;top:468.3px;width:2px;height:102px;background:linear-gradient(#b9d557 0.50px,#8bcd8d 3.53px,#6fc9c1 6.56px,#66c7cf 7.57px,#38bced 11.61px,#3a96de 18.68px,#3c7cd0 26.76px,#3752b4 54.03px,#3447aa 99.48px,#3447aa 101.50px)"></i>
<i style="left:126px;top:468.3px;width:2px;height:102px;background:linear-gradient(#b6d55a 0.50px,#8acd90 3.53px,#63c7d1 7.57px,#3ebee9 10.60px,#37baed 11.61px,#3a98df 17.67px,#3c7dd1 25.75px,#3751b3 54.03px,#3447aa 100.49px,#3447aa 101.50px)"></i>
<i style="left:128px;top:468.3px;width:2px;height:102px;background:linear-gradient(#b4d45c 0.50px,#89cd92 3.53px,#6ec9c4 6.56px,#53c3dc 8.58px,#3bbdec 10.60px,#38b0e9 12.62px,#3b8eda 19.69px,#3c74cc 29.79px,#3650b2 55.04px,#3447aa 101.50px)"></i>
<i style="left:130px;top:468.3px;width:2px;height:102px;background:linear-gradient(#b3d45e 0.50px,#93ce83 2.52px,#6dc9c6 6.56px,#50c2dd 8.58px,#38bcee 10.60px,#3a9de2 15.65px,#3c7ed1 24.74px,#3751b3 53.02px,#3447aa 97.46px,#3447aa 101.50px)"></i>
<i style="left:132px;top:468.3px;width:2px;height:102px;background:linear-gradient(#b1d460 0.50px,#92ce85 2.52px,#6cc8c7 6.56px,#4ec2df 8.58px,#37bbed 10.60px,#3a9ce1 15.65px,#3c7dd1 24.74px,#3751b3 53.02px,#3447aa 97.46px,#3447aa 101.50px)"></i>
<i style="left:134px;top:468.3px;width:2px;height:102px;background:linear-gradient(#b0d462 0.50px,#91ce87 2.52px,#6cc8c7 6.56px,#4cc1e0 8.58px,#3fbee9 9.59px,#37b9ed 10.60px,#3a9ae1 15.65px,#3c7dd1 24.74px,#3751b3 52.01px,#3447aa 92.41px,#3447aa 101.50px)"></i>
<i style="left:136px;top:468.3px;width:2px;height:102px;background:linear-gradient(#afd363 0.50px,#8fce88 2.52px,#76cab5 5.55px,#6cc8c8 6.56px,#4bc1e1 8.58px,#3dbdea 9.59px,#37b8ec 10.60px,#3a99e0 15.65px,#3c7acf 25.75px,#3650b2 53.02px,#3447aa 98.47px,#3447aa 101.50px)"></i>
<i style="left:138px;top:468.3px;width:2px;height:102px;background:linear-gradient(#aed364 0.50px,#8ecd89 2.52px,#75cab6 5.55px,#6bc8c9 6.56px,#49c0e2 8.58px,#3bbdeb 9.59px,#38afe9 11.61px,#3a94dd 16.66px,#3c77ce 26.76px,#3650b2 53.02px,#3447a9 98.47px,#3446a9 101.50px)"></i>
<i style="left:140px;top:468.3px;width:2px;height:102px;background:linear-gradient(#add365 0.50px,#8dcd8a 2.52px,#75cab7 5.55px,#6bc8ca 6.56px,#3abdec 9.59px,#3a9ce1 14.64px,#3c7ed1 23.73px,#3751b3 52.01px,#3447aa 93.42px,#3446a9 101.50px)"></i>
<i style="left:142px;top:468.3px;width:2px;height:102px;background:linear-gradient(#acd367 0.50px,#8ccd8c 2.52px,#75cab7 5.55px,#6ac8cb 6.56px,#46c0e4 8.58px,#39bced 9.59px,#3a9be1 14.64px,#3b80d2 22.72px,#3752b4 51.00px,#3448aa 84.33px,#3446a9 101.50px)"></i>
<i style="left:144px;top:468.3px;width:2px;height:102px;background:linear-gradient(#aad368 0.50px,#8ccd8d 2.52px,#74cab8 5.55px,#6ac8cc 6.56px,#45bfe5 8.58px,#37bcee 9.59px,#3a9be1 14.64px,#3c7fd2 22.72px,#3751b3 52.01px,#3447aa 93.42px,#3446a9 101.50px)"></i>
<i style="left:146px;top:468.3px;width:2px;height:102px;background:linear-gradient(#a9d269 0.50px,#8bcd8e 2.52px,#74cab9 5.55px,#69c8cc 6.56px,#44bfe5 8.58px,#37bcee 9.59px,#3a9ae1 14.64px,#3c7fd2 22.72px,#3751b3 52.01px,#3447aa 93.42px,#3446a9 101.50px)"></i>
<i style="left:148px;top:468.3px;width:2px;height:102px;background:linear-gradient(#a8d26b 0.50px,#8bcd8f 2.52px,#73c9ba 5.55px,#69c8cd 6.56px,#44bfe6 8.58px,#37bbee 9.59px,#3a9ae1 14.64px,#3b80d3 21.71px,#3751b3 52.01px,#3447aa 92.41px,#3446a9 101.50px)"></i>
<i style="left:150px;top:468.3px;width:2px;height:102px;background:linear-gradient(#a7d26c 0.50px,#8acd8f 2.52px,#73c9ba 5.55px,#68c8ce 6.56px,#43bfe6 8.58px,#37bbee 9.59px,#3a9ae0 14.64px,#3b80d2 21.71px,#3650b2 53.02px,#3447aa 98.47px,#3447aa 101.50px)"></i>
<i style="left:152px;top:468.3px;width:2px;height:102px;background:linear-gradient(#a6d26d 0.50px,#8acd90 2.52px,#73c9bb 5.55px,#67c8ce 6.56px,#42bfe6 8.58px,#37bbed 9.59px,#3a9ae0 14.64px,#3c7fd2 21.71px,#3650b2 53.02px,#3447aa 98.47px,#3447aa 101.50px)"></i>
<i style="left:154px;top:468.3px;width:2px;height:102px;background:linear-gradient(#a5d26e 0.50px,#89cd91 2.52px,#72c9bc 5.55px,#67c7cf 6.56px,#42bfe7 8.58px,#37baed 9.59px,#3a9ae0 14.64px,#3c7fd2 21.71px,#364fb2 54.03px,#3447aa 101.50px)"></i>
<i style="left:156px;top:468.3px;width:2px;height:102px;background:linear-gradient(#a4d170 0.50px,#89cd92 2.52px,#71c9bd 5.55px,#66c7cf 6.56px,#41bee8 8.58px,#37b9ed 9.59px,#3a99e0 14.64px,#3c7ed2 21.71px,#364fb2 54.03px,#3447aa 101.50px)"></i>
<i style="left:158px;top:468.3px;width:2px;height:102px;background:linear-gradient(#a3d171 0.50px,#88cc93 2.52px,#71c9bf 5.55px,#64c7d0 6.56px,#3fbee8 8.58px,#37b9ed 9.59px,#3a99e0 14.64px,#3b81d3 20.70px,#3650b2 54.03px,#3448aa 101.50px)"></i>
<i style="left:160px;top:468.3px;width:2px;height:102px;background:linear-gradient(#a1d173 0.50px,#87cc95 2.52px,#6fc9c1 5.55px,#62c6d2 6.56px,#3dbdea 8.58px,#37b7ec 9.59px,#3a98df 14.64px,#3b81d3 20.70px,#3751b3 55.04px,#354aac 101.50px)"></i>
<i style="left:162px;top:468.3px;width:2px;height:102px;background:linear-gradient(#9fd175 0.50px,#86cc97 2.52px,#6ec9c4 5.55px,#4bc1e1 7.57px,#3abdec 8.58px,#3a9ce1 13.63px,#3b81d3 20.70px,#3b6ec7 35.85px,#3754b6 59.08px,#364eb0 101.50px)"></i>
<i style="left:164px;top:468.3px;width:2px;height:102px;background:linear-gradient(#9dd078 0.50px,#84cc9a 2.52px,#6bc8c9 5.55px,#37bbee 8.58px,#3a9fe3 12.62px,#3b83d4 19.69px,#3c73cb 31.81px,#3859b9 64.13px,#3751b3 101.50px)"></i>
<i style="left:166px;top:468.3px;width:2px;height:102px;background:linear-gradient(#9ad07b 0.50px,#8bcd8d 1.51px,#63c7d1 5.55px,#3fbee8 7.57px,#37b7ec 8.58px,#3a96de 13.63px,#3b80d2 20.70px,#3b71c9 36.86px,#3858b8 74.23px,#3752b4 101.50px)"></i>
<i style="left:168px;top:468.3px;width:1px;height:102px;background:linear-gradient(#97cf7e 0.50px,#7fcba4 2.52px,#69c8cc 4.54px,#37bcee 7.57px,#3a9ce1 11.61px,#3b8ad8 15.65px,#3c78ce 26.76px,#3858b8 77.26px,#3754b5 101.50px)"></i>
</div><svg width="350" height="598" viewBox="0 0 350 598">
<path d="M167.5,112.8 167.4,111.8 167.4,110.8 167.4,109.8 167.4,108.8 167.3,107.8 167.3,106.8 167.3,105.8 167.3,104.8 167.2,103.8 167.2,102.8 167.2,101.8 167.2,100.8 167.2,99.8 167.2,98.8 167.2,97.8 167.2,96.8 167.1,95.8 167.1,94.8 167.1,93.8 167.1,92.8 167.1,91.8 167.1,90.8 167.1,89.8 167.1,88.8 167.0,87.8 167.0,86.8 167.0,85.8 167.0,84.8 167.0,83.8 167.0,82.8 166.9,81.8 166.9,80.8 166.9,79.8 166.9,78.8 166.9,77.8 166.9,76.8 166.9,75.8 166.8,74.8 166.8,73.8 166.8,72.8 166.8,71.8 166.8,70.8 166.8,69.8 166.8,68.8 166.8,67.8 166.8,66.8 166.8,65.8 166.7,64.8 166.7,63.8 166.7,62.8 166.7,61.8 166.7,60.8 166.6,59.8 166.6,58.8 166.5,57.8 166.4,56.8 166.4,55.8 166.2,54.8 165.2,54.1 164.2,54.0 163.2,53.9 162.2,53.8 161.2,53.7 160.2,53.6 159.2,53.5 158.2,53.4 157.2,53.3 156.2,53.2 155.2,53.1 154.2,53.0 153.2,52.9 152.2,52.8 151.2,52.7 150.2,52.6 149.2,52.5 148.2,52.4 147.2,52.3 146.2,52.2 145.2,52.1 144.2,52.1 143.2,52.0 142.2,51.9 141.2,51.8 140.2,51.7 139.2,51.6 138.2,51.5 137.2,51.5 136.2,51.4 135.2,51.3 134.2,51.2 133.2,51.1 132.2,51.1 131.2,51.0 130.2,50.9 129.2,50.8 128.2,50.7 127.2,50.7 126.2,50.6 125.2,50.5 124.2,50.4 123.2,50.4 122.2,50.3 121.2,50.2 120.2,50.1 119.2,50.1 118.2,50.0 117.2,49.9 116.2,49.9 115.2,49.8 114.2,49.7 113.2,49.7 112.2,49.6 111.2,49.5 110.2,49.5 109.2,49.4 108.2,49.3 107.2,49.3 106.2,49.2 105.2,49.1 104.2,49.1 103.2,49.0 102.2,48.9 101.2,48.9 100.2,48.8 99.2,48.8 98.2,48.7 97.2,48.7 96.2,48.6 95.2,48.5 94.2,48.5 93.2,48.4 92.2,48.4 91.2,48.3 90.2,48.3 89.2,48.2 88.2,48.2 87.2,48.1 86.2,48.1 85.2,48.0 84.2,48.0 83.2,47.9 82.2,47.9 81.2,47.8 80.2,47.8 79.2,47.7 78.2,47.7 77.2,47.6 76.2,47.6 75.2,47.5 74.2,47.5 73.2,47.5 72.2,47.4 71.2,47.4 70.2,47.3 69.2,47.3 68.2,47.3 67.2,47.2 66.2,47.2 65.2,47.1 64.2,47.1 63.2,47.1 62.2,47.0 61.2,47.0 60.2,47.0 59.2,46.9 58.2,46.9 57.2,46.9 56.2,46.9 55.2,46.8 54.2,46.8 53.2,46.8 52.2,46.7 51.2,46.7 50.2,46.7 49.2,46.7 48.2,46.6 47.2,46.6 46.2,46.6 45.2,46.6 44.2,46.6 43.2,46.5 42.2,46.5 M168.8,17.9 167.8,17.8 166.8,17.8 165.8,17.8 164.8,17.8 163.8,17.8 162.8,17.8 161.8,17.8 160.8,17.8 159.8,17.7 158.8,17.7 157.8,17.7 156.8,17.7 155.8,17.7 154.8,17.7 153.8,17.7 152.8,17.7 151.8,17.7 150.8,17.7 149.8,17.6 148.8,17.6 147.8,17.6 146.8,17.6 145.8,17.6 144.8,17.6 143.8,17.6 142.8,17.6 141.8,17.6 140.8,17.6 139.8,17.5 138.8,17.5 137.8,17.5 136.8,17.5 135.8,17.5 134.8,17.5 133.8,17.5 132.8,17.5 131.8,17.5 130.8,17.5 129.8,17.4 128.8,17.4 127.8,17.4 126.8,17.4 125.8,17.4 124.8,17.4 123.8,17.4 122.8,17.4 121.8,17.4 120.8,17.4 119.8,17.4 118.8,17.4 117.8,17.3 116.8,17.3 115.8,17.3 114.8,17.3 113.8,17.3 112.8,17.3 111.8,17.3 110.8,17.3 109.8,17.3 108.8,17.3 107.8,17.3 106.8,17.3 105.8,17.3 104.8,17.2 103.8,17.2 102.8,17.2 101.8,17.2 100.8,17.2 99.8,17.2 98.8,17.2 97.8,17.2 96.8,17.2 95.8,17.2 94.8,17.2 93.8,17.2 92.8,17.1 91.8,17.1 90.8,17.1 89.8,17.1 88.8,17.1 87.8,17.1 86.8,17.1 85.8,17.1 84.8,17.1 83.8,17.1 82.8,17.1 81.8,17.1 80.8,17.1 79.8,17.0 78.8,17.0 77.8,17.0 76.8,17.0 75.8,17.0 74.8,17.0 73.8,17.0 72.8,17.0 71.8,17.0 70.8,17.0 69.8,17.0 68.8,17.0 67.8,17.0 66.8,17.0 65.8,17.0 64.8,17.0 63.8,17.0 62.8,17.0 61.8,16.9 60.8,16.9 59.8,16.9 58.8,16.9 57.8,16.9 56.8,16.9 55.8,16.9 54.8,16.9 53.8,16.9 52.8,16.9 51.8,16.9 50.8,16.9 49.8,16.9 48.8,16.9 47.8,16.9 46.8,16.9 45.8,16.9 44.8,16.9 43.8,16.9 42.8,16.9 42.2,16.9" stroke="#1c1c1c" stroke-width="0.75" fill="none" opacity="0.9"/>
<path d="M42.00 112.90L42.15 109.80M42.00 105.69L42.15 102.59M42.00 98.47L42.15 95.38M42.00 91.26L42.15 88.16M42.00 84.04L42.15 80.95M42.00 76.83L42.15 73.73M42.00 69.61L42.15 66.52M42.00 62.40L42.15 59.30M42.00 55.19L42.15 52.09M42.00 47.97L42.15 44.88M42.00 40.76L42.15 37.66M42.00 33.54L42.15 30.45M42.00 26.33L42.15 23.23M42.00 19.11L42.15 16.02M51.07 112.90L51.23 109.80M51.07 105.69L51.24 102.59M51.07 98.47L51.25 95.38M51.07 91.26L51.27 88.16M51.07 84.04L51.28 80.95M51.07 76.83L51.30 73.74M51.07 69.61L51.32 66.52M51.07 62.40L51.34 59.31M51.07 55.19L51.36 52.10M51.07 47.97L51.38 44.89M51.07 40.76L51.40 37.67M51.07 33.54L51.42 30.46M51.07 26.33L51.44 23.25M51.07 19.11L51.46 16.04M60.14 112.90L60.30 109.80M60.14 105.69L60.31 102.59M60.14 98.47L60.34 95.38M60.14 91.26L60.36 88.16M60.14 84.04L60.38 80.95M60.14 76.83L60.41 73.74M60.14 69.61L60.44 66.53M60.14 62.40L60.47 59.32M60.14 55.19L60.49 52.11M60.14 47.97L60.52 44.89M60.14 40.76L60.55 37.68M60.14 33.54L60.59 30.47M60.14 26.33L60.62 23.26M60.14 19.11L60.65 16.06M69.21 112.90L69.37 109.80M69.21 105.69L69.39 102.59M69.21 98.47L69.42 95.38M69.21 91.26L69.45 88.17M69.21 84.04L69.48 80.95M69.21 76.83L69.51 73.74M69.21 69.61L69.55 66.53M69.21 62.40L69.58 59.32M69.21 55.19L69.62 52.11M69.21 47.97L69.66 44.90M69.21 40.76L69.70 37.69M69.21 33.54L69.74 30.49M69.21 26.33L69.78 23.28M69.21 19.11L69.82 16.07M78.29 112.90L78.44 109.80M78.29 105.69L78.47 102.59M78.29 98.47L78.50 95.38M78.29 91.26L78.53 88.17M78.29 84.04L78.57 80.96M78.29 76.83L78.61 73.75M78.29 69.61L78.65 66.54M78.29 62.40L78.69 59.33M78.29 55.19L78.74 52.12M78.29 47.97L78.78 44.91M78.29 40.76L78.83 37.71M78.29 33.54L78.87 30.50M78.29 26.33L78.92 23.29M78.29 19.11L78.97 16.09M87.36 112.90L87.51 109.80M87.36 105.69L87.54 102.59M87.36 98.47L87.58 95.38M87.36 91.26L87.62 88.17M87.36 84.04L87.66 80.96M87.36 76.83L87.71 73.75M87.36 69.61L87.75 66.54M87.36 62.40L87.80 59.33M87.36 55.19L87.85 52.13M87.36 47.97L87.90 44.92M87.36 40.76L87.95 37.72M87.36 33.54L88.01 30.51M87.36 26.33L88.06 23.31M87.36 19.11L88.12 16.11M96.43 112.90L96.58 109.80M96.43 105.69L96.61 102.59M96.43 98.47L96.66 95.38M96.43 91.26L96.70 88.17M96.43 84.04L96.75 80.96M96.43 76.83L96.80 73.75M96.43 69.61L96.85 66.54M96.43 62.40L96.91 59.34M96.43 55.19L96.96 52.13M96.43 47.97L97.02 44.93M96.43 40.76L97.08 37.73M96.43 33.54L97.14 30.52M96.43 26.33L97.20 23.32M96.43 19.11L97.26 16.13M105.50 112.90L105.65 109.80M105.50 105.69L105.69 102.59M105.50 98.47L105.73 95.38M105.50 91.26L105.78 88.17M105.50 84.04L105.84 80.96M105.50 76.83L105.89 73.75M105.50 69.61L105.95 66.55M105.50 62.40L106.01 59.34M105.50 55.19L106.07 52.14M105.50 47.97L106.13 44.94M105.50 40.76L106.20 37.74M105.50 33.54L106.26 30.54M105.50 26.33L106.32 23.34M105.50 19.11L106.39 16.15M114.57 112.90L114.73 109.80M114.57 105.69L114.76 102.59M114.57 98.47L114.81 95.38M114.57 91.26L114.87 88.17M114.57 84.04L114.92 80.96M114.57 76.83L114.98 73.76M114.57 69.61L115.05 66.55M114.57 62.40L115.11 59.35M114.57 55.19L115.18 52.15M114.57 47.97L115.24 44.94M114.57 40.76L115.31 37.75M114.57 33.54L115.38 30.55M114.57 26.33L115.45 23.36M114.57 19.11L115.52 16.16M123.64 112.90L123.80 109.80M123.64 105.69L123.84 102.59M123.64 98.47L123.89 95.38M123.64 91.26L123.95 88.17M123.64 84.04L124.01 80.96M123.64 76.83L124.07 73.76M123.64 69.61L124.14 66.55M123.64 62.40L124.21 59.35M123.64 55.19L124.28 52.15M123.64 47.97L124.35 44.95M123.64 40.76L124.42 37.76M123.64 33.54L124.50 30.56M123.64 26.33L124.57 23.37M123.64 19.11L124.65 16.18M132.71 112.90L132.87 109.80M132.71 105.69L132.91 102.59M132.71 98.47L132.97 95.38M132.71 91.26L133.03 88.17M132.71 84.04L133.09 80.97M132.71 76.83L133.16 73.76M132.71 69.61L133.23 66.56M132.71 62.40L133.31 59.36M132.71 55.19L133.38 52.16M132.71 47.97L133.46 44.96M132.71 40.76L133.54 37.77M132.71 33.54L133.61 30.58M132.71 26.33L133.69 23.39M132.71 19.11L133.77 16.20M141.79 112.90L141.94 109.80M141.79 105.69L141.99 102.59M141.79 98.47L142.04 95.38M141.79 91.26L142.11 88.17M141.79 84.04L142.18 80.97M141.79 76.83L142.25 73.76M141.79 69.61L142.33 66.56M141.79 62.40L142.40 59.36M141.79 55.19L142.48 52.17M141.79 47.97L142.56 44.97M141.79 40.76L142.65 37.78M141.79 33.54L142.73 30.59M141.79 26.33L142.81 23.40M141.79 19.11L142.90 16.22M150.86 112.90L151.01 109.80M150.86 105.69L151.06 102.59M150.86 98.47L151.12 95.38M150.86 91.26L151.19 88.18M150.86 84.04L151.26 80.97M150.86 76.83L151.34 73.77M150.86 69.61L151.42 66.57M150.86 62.40L151.50 59.37M150.86 55.19L151.58 52.17M150.86 47.97L151.67 44.98M150.86 40.76L151.75 37.79M150.86 33.54L151.84 30.60M150.86 26.33L151.93 23.42M150.86 19.11L152.02 16.24M159.93 112.90L160.08 109.80M159.93 105.69L160.13 102.59M159.93 98.47L160.20 95.38M159.93 91.26L160.27 88.18M159.93 84.04L160.35 80.97M159.93 76.83L160.43 73.77M159.93 69.61L160.51 66.57M159.93 62.40L160.59 59.37M159.93 55.19L160.68 52.18M159.93 47.97L160.77 44.99M159.93 40.76L160.86 37.80M159.93 33.54L160.95 30.62M159.93 26.33L161.04 23.44M159.93 19.11L161.14 16.26M169.00 112.90L169.15 109.80M169.00 105.69L169.21 102.59M169.00 98.47L169.27 95.38M169.00 91.26L169.35 88.18M169.00 84.04L169.43 80.97M169.00 76.83L169.51 73.77M169.00 69.61L169.60 66.57M169.00 62.40L169.69 59.38M169.00 55.19L169.78 52.19M169.00 47.97L169.87 45.00M169.00 40.76L169.97 37.81M169.00 33.54L170.06 30.63M169.00 26.33L170.16 23.45M169.00 19.11L170.25 16.28" stroke="#111" stroke-width="0.95" fill="none"/><path d="M42.24 108.01L42.85 109.84L41.46 109.77ZM42.24 100.79L42.85 102.62L41.46 102.55ZM42.24 93.58L42.85 95.41L41.46 95.34ZM42.24 86.36L42.85 88.20L41.46 88.13ZM42.24 79.15L42.85 80.98L41.46 80.91ZM42.24 71.93L42.85 73.77L41.46 73.70ZM42.24 64.72L42.85 66.55L41.46 66.48ZM42.24 57.51L42.85 59.34L41.46 59.27ZM42.24 50.29L42.85 52.12L41.46 52.05ZM42.24 43.08L42.85 44.91L41.46 44.84ZM42.24 35.86L42.85 37.70L41.46 37.63ZM42.24 28.65L42.85 30.48L41.46 30.41ZM42.24 21.43L42.85 23.27L41.46 23.20ZM42.24 14.22L42.85 16.05L41.46 15.98ZM51.32 108.01L51.93 109.84L50.53 109.77ZM51.33 100.79L51.94 102.63L50.54 102.55ZM51.36 93.58L51.95 95.42L50.55 95.34ZM51.38 86.37L51.96 88.21L50.57 88.12ZM51.41 79.15L51.98 81.00L50.58 80.90ZM51.43 71.94L52.00 73.79L50.60 73.69ZM51.46 64.73L52.02 66.58L50.62 66.47ZM51.49 57.52L52.03 59.37L50.64 59.25ZM51.52 50.31L52.05 52.16L50.66 52.03ZM51.55 43.10L52.07 44.96L50.68 44.82ZM51.58 35.88L52.09 37.75L50.70 37.60ZM51.62 28.67L52.11 30.54L50.72 30.38ZM51.65 21.46L52.13 23.33L50.74 23.17ZM51.68 14.25L52.15 16.13L50.76 15.95ZM60.39 108.01L61.00 109.84L59.60 109.77ZM60.41 100.79L61.01 102.63L59.62 102.55ZM60.45 93.58L61.03 95.42L59.64 95.33ZM60.48 86.37L61.06 88.21L59.66 88.12ZM60.52 79.16L61.08 81.01L59.69 80.90ZM60.56 71.95L61.11 73.80L59.71 73.68ZM60.61 64.74L61.13 66.59L59.74 66.46ZM60.65 57.53L61.16 59.39L59.77 59.24ZM60.70 50.32L61.19 52.19L59.80 52.03ZM60.75 43.11L61.22 44.98L59.83 44.81ZM60.79 35.90L61.25 37.78L59.86 37.59ZM60.84 28.69L61.28 30.57L59.89 30.37ZM60.89 21.49L61.31 23.37L59.92 23.16ZM60.94 14.28L61.34 16.17L59.96 15.94ZM69.46 108.01L70.07 109.84L68.67 109.77ZM69.49 100.79L70.09 102.63L68.69 102.55ZM69.53 93.58L70.12 95.42L68.72 95.33ZM69.58 86.37L70.14 88.22L68.75 88.11ZM69.63 79.16L70.18 81.01L68.78 80.89ZM69.68 71.95L70.21 73.81L68.82 73.68ZM69.74 64.74L70.24 66.61L68.85 66.46ZM69.80 57.53L70.28 59.41L68.89 59.24ZM69.85 50.33L70.31 52.20L68.93 52.02ZM69.91 43.12L70.35 45.00L68.96 44.80ZM69.98 35.92L70.39 37.80L69.00 37.59ZM70.04 28.71L70.43 30.60L69.05 30.37ZM70.10 21.51L70.46 23.41L69.09 23.15ZM70.16 14.31L70.50 16.21L69.13 15.94ZM78.53 108.01L79.14 109.84L77.74 109.77ZM78.57 100.79L79.16 102.63L77.77 102.55ZM78.62 93.58L79.20 95.43L77.80 95.33ZM78.68 86.37L79.23 88.22L77.83 88.11ZM78.74 79.16L79.27 81.02L77.87 80.89ZM78.80 71.96L79.31 73.82L77.91 73.67ZM78.86 64.75L79.35 66.62L77.96 66.45ZM78.93 57.54L79.39 59.42L78.00 59.23ZM79.00 50.34L79.43 52.22L78.05 52.02ZM79.07 43.13L79.47 45.02L78.09 44.80ZM79.14 35.93L79.52 37.83L78.14 37.58ZM79.22 28.73L79.56 30.63L78.19 30.37ZM79.29 21.53L79.61 23.44L78.24 23.15ZM79.37 14.34L79.65 16.25L78.29 15.94ZM87.60 108.01L88.21 109.84L86.81 109.77ZM87.65 100.79L88.24 102.63L86.84 102.55ZM87.70 93.58L88.27 95.43L86.88 95.33ZM87.77 86.37L88.31 88.23L86.92 88.11ZM87.84 79.17L88.36 81.03L86.96 80.89ZM87.91 71.96L88.40 73.83L87.01 73.67ZM87.98 64.75L88.45 66.63L87.06 66.45ZM88.06 57.55L88.49 59.43L87.11 59.23ZM88.14 50.35L88.54 52.24L87.16 52.01ZM88.22 43.15L88.59 45.04L87.21 44.80ZM88.30 35.95L88.64 37.85L87.27 37.58ZM88.39 28.75L88.69 30.66L87.32 30.36ZM88.47 21.56L88.74 23.47L87.38 23.15ZM88.56 14.36L88.79 16.28L87.44 15.94ZM96.67 108.01L97.28 109.84L95.88 109.77ZM96.72 100.79L97.31 102.63L95.92 102.55ZM96.79 93.58L97.35 95.43L95.96 95.33ZM96.86 86.38L97.40 88.23L96.00 88.11ZM96.93 79.17L97.45 81.03L96.05 80.89ZM97.01 71.96L97.49 73.83L96.10 73.67ZM97.10 64.76L97.55 66.64L96.16 66.45ZM97.18 57.56L97.60 59.44L96.21 59.23ZM97.27 50.36L97.65 52.25L96.27 52.01ZM97.36 43.16L97.71 45.06L96.33 44.79ZM97.45 35.97L97.76 37.87L96.39 37.58ZM97.55 28.77L97.82 30.68L96.45 30.36ZM97.64 21.58L97.87 23.50L96.52 23.15ZM97.74 14.39L97.93 16.31L96.58 15.94ZM105.74 108.01L106.35 109.84L104.96 109.77ZM105.80 100.79L106.39 102.63L104.99 102.55ZM105.87 93.59L106.43 95.43L105.04 95.33ZM105.95 86.38L106.48 88.23L105.09 88.11ZM106.03 79.17L106.53 81.04L105.14 80.89ZM106.12 71.97L106.59 73.84L105.20 73.66ZM106.21 64.77L106.64 66.65L105.26 66.45ZM106.30 57.57L106.70 59.46L105.32 59.23ZM106.40 50.37L106.76 52.27L105.38 52.01ZM106.50 43.17L106.82 45.08L105.45 44.79ZM106.60 35.98L106.88 37.89L105.51 37.58ZM106.70 28.79L106.94 30.71L105.58 30.37ZM106.80 21.61L107.00 23.53L105.65 23.15ZM106.91 14.42L107.06 16.35L105.72 15.94ZM114.82 108.01L115.43 109.84L114.03 109.77ZM114.88 100.80L115.46 102.64L114.06 102.55ZM114.95 93.59L115.51 95.44L114.11 95.33ZM115.04 86.38L115.56 88.24L114.17 88.10ZM115.13 79.17L115.62 81.04L114.23 80.88ZM115.22 71.97L115.68 73.85L114.29 73.66ZM115.32 64.77L115.74 66.66L114.35 66.44ZM115.42 57.57L115.80 59.47L114.42 59.23ZM115.53 50.38L115.86 52.28L114.49 52.01ZM115.63 43.19L115.93 45.10L114.56 44.79ZM115.74 36.00L115.99 37.91L114.63 37.58ZM115.85 28.81L116.06 30.73L114.70 30.37ZM115.96 21.63L116.12 23.55L114.78 23.16ZM116.07 14.45L116.19 16.38L114.86 15.95ZM123.89 108.01L124.50 109.84L123.10 109.77ZM123.95 100.80L124.54 102.64L123.14 102.55ZM124.03 93.59L124.59 95.44L123.19 95.33ZM124.12 86.38L124.64 88.24L123.25 88.10ZM124.22 79.18L124.70 81.05L123.31 80.88ZM124.32 71.98L124.77 73.86L123.38 73.66ZM124.43 64.78L124.83 66.67L123.45 66.44ZM124.54 57.58L124.90 59.48L123.52 59.22ZM124.65 50.39L124.96 52.30L123.59 52.01ZM124.76 43.20L125.03 45.11L123.67 44.79ZM124.88 36.02L125.10 37.93L123.75 37.58ZM125.00 28.83L125.17 30.76L123.83 30.37ZM125.11 21.65L125.24 23.58L123.91 23.16ZM125.23 14.48L125.31 16.41L123.99 15.95ZM132.96 108.01L133.57 109.84L132.17 109.77ZM133.03 100.80L133.61 102.64L132.21 102.55ZM133.11 93.59L133.66 95.44L132.27 95.32ZM133.21 86.38L133.72 88.24L132.33 88.10ZM133.31 79.18L133.79 81.05L132.40 80.88ZM133.42 71.98L133.85 73.86L132.47 73.66ZM133.53 64.78L133.92 66.68L132.54 66.44ZM133.65 57.59L133.99 59.49L132.62 59.22ZM133.77 50.40L134.07 52.31L132.70 52.01ZM133.89 43.21L134.14 45.13L132.78 44.79ZM134.01 36.03L134.21 37.95L132.86 37.58ZM134.14 28.85L134.28 30.78L132.94 30.37ZM134.26 21.68L134.36 23.61L133.03 23.17ZM134.39 14.51L134.43 16.44L133.12 15.96ZM142.03 108.01L142.64 109.84L141.24 109.77ZM142.10 100.80L142.68 102.64L141.29 102.55ZM142.19 93.59L142.74 95.44L141.35 95.32ZM142.30 86.38L142.81 88.25L141.41 88.10ZM142.41 79.18L142.87 81.06L141.48 80.88ZM142.52 71.98L142.94 73.87L141.56 73.66ZM142.64 64.79L143.02 66.68L141.64 66.44ZM142.76 57.60L143.09 59.50L141.72 59.22ZM142.89 50.41L143.16 52.32L141.80 52.01ZM143.02 43.23L143.24 45.15L141.89 44.79ZM143.15 36.05L143.32 37.97L141.97 37.58ZM143.28 28.88L143.40 30.80L142.06 30.38ZM143.41 21.71L143.47 23.64L142.15 23.17ZM143.54 14.54L143.55 16.47L142.24 15.97ZM151.10 108.01L151.71 109.84L150.31 109.77ZM151.18 100.80L151.76 102.64L150.36 102.55ZM151.27 93.59L151.82 95.44L150.42 95.32ZM151.38 86.39L151.89 88.25L150.49 88.10ZM151.50 79.18L151.96 81.06L150.57 80.88ZM151.62 71.99L152.03 73.87L150.65 73.66ZM151.74 64.80L152.11 66.69L150.73 66.44ZM151.87 57.61L152.18 59.51L150.81 59.22ZM152.00 50.42L152.26 52.34L150.90 52.01ZM152.14 43.24L152.34 45.16L150.99 44.80ZM152.27 36.07L152.42 37.99L151.08 37.59ZM152.41 28.90L152.51 30.83L151.18 30.38ZM152.55 21.73L152.59 23.66L151.27 23.18ZM152.69 14.57L152.67 16.50L151.37 15.98ZM160.17 108.01L160.78 109.84L159.38 109.77ZM160.25 100.80L160.83 102.64L159.43 102.55ZM160.35 93.59L160.90 95.44L159.50 95.32ZM160.47 86.39L160.97 88.25L159.57 88.10ZM160.59 79.19L161.04 81.07L159.65 80.88ZM160.72 71.99L161.12 73.88L159.74 73.66ZM160.85 64.80L161.20 66.70L159.82 66.44ZM160.98 57.61L161.28 59.52L159.91 59.22ZM161.12 50.43L161.36 52.35L160.00 52.01ZM161.26 43.26L161.44 45.18L160.10 44.80ZM161.40 36.08L161.53 38.01L160.19 37.59ZM161.55 28.92L161.61 30.85L160.29 30.39ZM161.69 21.76L161.70 23.69L160.39 23.18ZM161.84 14.60L161.78 16.53L160.49 15.99ZM169.24 108.01L169.85 109.84L168.46 109.77ZM169.33 100.80L169.91 102.64L168.51 102.55ZM169.43 93.59L169.97 95.45L168.58 95.32ZM169.55 86.39L170.05 88.26L168.65 88.10ZM169.68 79.19L170.12 81.07L168.74 80.88ZM169.81 72.00L170.20 73.89L168.82 73.66ZM169.95 64.81L170.29 66.71L168.91 66.44ZM170.09 57.62L170.37 59.53L169.01 59.22ZM170.23 50.44L170.46 52.36L169.10 52.01ZM170.38 43.27L170.54 45.19L169.20 44.80ZM170.53 36.10L170.63 38.03L169.30 37.59ZM170.68 28.94L170.72 30.87L169.40 30.39ZM170.83 21.78L170.81 23.71L169.51 23.19ZM170.98 14.63L170.89 16.56L169.61 16.00Z" fill="#111" stroke="#111" stroke-width="0.3"/>
<text x="39.60" y="116.65" font-size="10.50" text-anchor="end" fill="#2a2a2a"  >0</text>
<text x="39.60" y="96.03" font-size="10.50" text-anchor="end" fill="#2a2a2a"  >0.5</text>
<text x="39.60" y="75.41" font-size="10.50" text-anchor="end" fill="#2a2a2a"  >1</text>
<text x="39.60" y="54.78" font-size="10.50" text-anchor="end" fill="#2a2a2a"  >1.5</text>
<text x="39.60" y="34.16" font-size="10.50" text-anchor="end" fill="#2a2a2a"  >2</text>
<text x="42.00" y="125.95" font-size="10.50" text-anchor="middle" fill="#2a2a2a"  >0</text>
<text x="67.40" y="125.95" font-size="10.50" text-anchor="middle" fill="#2a2a2a"  >10</text>
<text x="92.80" y="125.95" font-size="10.50" text-anchor="middle" fill="#2a2a2a"  >20</text>
<text x="118.20" y="125.95" font-size="10.50" text-anchor="middle" fill="#2a2a2a"  >30</text>
<text x="143.60" y="125.95" font-size="10.50" text-anchor="middle" fill="#2a2a2a"  >40</text>
<text x="169.00" y="125.95" font-size="10.50" text-anchor="middle" fill="#2a2a2a"  >50</text>
<text x="45.00" y="8.20" font-size="12.40" text-anchor="start" fill="#2a2a2a"  >(a) 13.56 MHz</text>
<text x="105.30" y="139.35" font-size="12.00" text-anchor="middle" fill="#2a2a2a"  ><tspan font-style="italic">r</tspan> (cm)</text>
<text transform="translate(22.2 63.02) rotate(-90)" font-size="12" text-anchor="middle" fill="#2a2a2a"><tspan font-style="italic">z</tspan> (cm)</text>
<text transform="translate(7.9 62.23) rotate(-90)" font-size="11.8" text-anchor="middle" fill="#2a2a2a"><tspan font-weight="bold">E</tspan> (V/cm)</text>
<path d="M160.7,265.3 160.7,264.3 160.7,263.3 160.6,262.3 160.6,261.3 160.6,260.3 160.5,259.3 160.5,258.3 160.4,257.3 160.4,256.3 160.3,255.3 160.3,254.3 160.2,253.3 160.0,252.3 159.8,251.3 159.5,250.3 159.1,249.3 158.6,248.3 158.0,247.3 157.4,246.2 156.8,245.4 155.8,244.2 154.8,243.3 153.8,242.8 152.8,242.3 151.8,242.0 150.8,241.6 149.8,241.1 148.8,240.5 147.8,239.9 146.8,239.4 145.8,239.0 144.8,238.5 143.8,238.0 142.8,237.5 141.8,236.9 140.8,236.3 139.8,235.8 138.8,235.5 137.8,235.2 136.8,234.9 135.8,234.7 134.8,234.5 133.8,234.3 132.8,234.1 131.8,233.9 130.8,233.7 129.8,233.6 128.8,233.4 127.8,233.2 126.8,233.0 125.8,232.8 124.8,232.5 123.8,232.2 122.8,231.9 121.8,231.5 120.8,231.0 119.8,230.5 118.8,229.9 117.8,229.2 116.8,228.5 115.8,227.7 114.8,227.0 113.8,226.2 112.8,225.5 111.8,224.8 110.8,224.1 109.8,223.4 108.8,222.8 107.8,222.2 106.8,221.7 105.8,221.2 104.8,220.8 103.8,220.3 102.8,219.9 101.8,219.5 100.8,219.1 99.8,218.7 98.8,218.3 97.8,217.9 96.8,217.5 95.8,217.1 94.8,216.6 93.8,216.2 92.8,215.7 91.8,215.2 90.8,214.7 89.8,214.2 88.8,213.8 87.8,213.3 86.8,212.9 85.8,212.6 84.8,212.2 83.8,211.9 82.8,211.6 81.8,211.3 80.8,211.0 79.8,210.7 78.8,210.5 77.8,210.2 76.8,209.9 75.8,209.7 74.8,209.4 73.8,209.1 72.8,208.8 71.8,208.6 70.8,208.3 69.8,207.9 68.8,207.6 67.8,207.3 66.8,206.9 65.8,206.6 64.8,206.2 63.8,205.9 62.8,205.5 61.8,205.2 60.8,204.9 59.8,204.5 58.8,204.2 57.8,203.9 56.8,203.6 55.8,203.3 54.8,203.0 53.8,202.7 52.8,202.4 51.8,202.1 50.8,201.8 49.8,201.5 48.8,201.2 47.8,200.9 46.8,200.7 45.8,200.4 44.8,200.1 43.8,199.8 42.8,199.5 42.2,199.3 M168.8,260.3 168.7,258.8 168.7,257.8 168.7,256.8 168.7,255.8 168.7,254.8 168.7,253.8 168.7,252.8 168.7,251.8 168.7,250.8 168.7,249.8 168.7,248.8 168.6,247.8 168.6,246.7 168.6,245.7 168.6,244.7 168.6,243.7 168.6,242.7 168.5,241.7 168.5,240.7 168.5,239.7 168.5,238.7 168.5,237.7 168.4,236.7 168.4,235.7 168.4,234.7 168.4,233.7 168.4,232.7 168.3,231.7 168.3,230.7 168.2,229.7 168.2,228.6 168.1,227.6 168.0,226.6 167.9,225.6 167.7,224.6 167.6,223.6 167.3,222.6 167.1,221.6 166.7,220.6 166.0,219.6 164.8,220.0 164.2,220.9 163.8,221.8 163.0,222.6 162.1,222.1 161.7,221.1 161.2,220.1 160.8,219.1 159.8,218.1 158.8,217.6 157.8,217.2 156.8,216.9 155.8,216.6 154.8,216.2 153.8,215.9 152.8,215.6 151.8,215.3 150.8,214.9 149.8,214.6 148.8,214.3 147.8,214.1 146.8,213.8 145.8,213.6 144.8,213.3 143.8,213.1 142.8,212.8 141.8,212.5 140.8,212.2 139.8,211.8 138.8,211.4 137.8,210.9 136.8,210.3 135.8,209.8 134.8,209.2 133.8,208.6 132.9,208.0 131.8,207.4 130.8,206.8 129.8,206.3 128.8,205.8 127.8,205.3 126.8,204.8 125.8,204.4 124.8,203.9 123.8,203.5 122.8,203.1 121.8,202.7 120.8,202.4 119.8,202.0 118.8,201.6 117.8,201.2 116.8,200.8 115.8,200.4 114.8,200.0 113.8,199.6 112.8,199.1 111.8,198.7 110.8,198.3 109.8,197.9 108.8,197.5 107.8,197.1 106.8,196.7 105.8,196.4 104.8,196.0 103.8,195.7 102.8,195.3 101.8,194.9 100.8,194.6 99.8,194.2 98.8,193.9 97.8,193.5 96.8,193.1 95.8,192.8 94.8,192.5 93.8,192.1 92.8,191.8 91.8,191.4 90.8,191.1 89.8,190.8 88.8,190.5 87.8,190.2 86.8,189.9 85.8,189.7 84.8,189.4 83.8,189.2 82.8,189.0 81.8,188.7 80.8,188.5 79.8,188.3 78.8,188.1 77.8,187.9 76.8,187.8 75.8,187.6 74.8,187.4 73.8,187.2 72.8,187.1 71.8,186.9 70.8,186.7 69.8,186.5 68.8,186.4 67.8,186.2 66.8,186.0 65.8,185.8 64.8,185.6 63.8,185.5 62.8,185.3 61.8,185.1 60.8,184.9 59.8,184.7 58.8,184.5 57.8,184.3 56.8,184.1 55.8,184.0 54.8,183.8 53.8,183.6 52.8,183.4 51.8,183.2 50.8,183.1 49.8,182.9 48.8,182.7 47.8,182.5 46.8,182.4 45.8,182.2 44.8,182.1 43.8,181.9 42.8,181.8 42.2,181.7 M168.8,184.4 167.8,185.1 166.8,185.6 165.8,186.1 164.8,186.4 163.8,186.7 162.8,187.2 162.0,188.4 161.5,189.4 160.9,190.4 159.8,191.3 158.8,191.7 157.8,192.0 156.8,192.1 155.8,192.2 154.8,192.3 153.8,192.3 152.8,192.3 151.8,192.3 150.8,192.4 149.8,192.4 148.8,192.4 147.8,192.3 146.8,192.1 145.8,191.8 144.8,191.5 143.8,191.2 142.8,190.9 141.8,190.6 140.8,190.3 139.8,190.1 138.8,189.8 137.8,189.5 136.8,189.2 135.8,188.8 134.8,188.5 133.8,188.1 132.8,187.7 131.8,187.3 130.8,186.9 129.8,186.4 128.8,186.0 127.8,185.5 126.8,185.1 125.8,184.7 124.8,184.2 123.8,183.8 122.8,183.5 121.8,183.1 120.8,182.8 119.8,182.4 118.8,182.1 117.8,181.9 116.8,181.6 115.8,181.3 114.8,181.1 113.8,180.8 112.8,180.6 111.8,180.3 110.8,180.1 109.8,179.9 108.8,179.6 107.8,179.4 106.8,179.2 105.8,179.0 104.8,178.7 103.8,178.5 102.8,178.3 101.8,178.1 100.8,178.0 99.8,177.8 98.8,177.6 97.8,177.4 96.8,177.3 95.8,177.1 94.8,177.0 93.8,176.9 92.8,176.7 91.8,176.6 90.8,176.5 89.8,176.3 88.8,176.2 87.8,176.1 86.8,176.0 85.8,175.9 84.8,175.8 83.8,175.7 82.8,175.6 81.8,175.5 80.8,175.4 79.8,175.4 78.8,175.3 77.8,175.2 76.8,175.1 75.8,175.0 74.8,174.9 73.8,174.8 72.8,174.8 71.8,174.7 70.8,174.6 69.8,174.5 68.8,174.4 67.8,174.3 66.8,174.3 65.8,174.2 64.8,174.1 63.8,174.0 62.8,173.9 61.8,173.9 60.8,173.8 59.8,173.7 58.8,173.6 57.8,173.6 56.8,173.5 55.8,173.4 54.8,173.4 53.8,173.3 52.8,173.2 51.8,173.2 50.8,173.1 49.8,173.0 48.8,173.0 47.8,172.9 46.8,172.9 45.8,172.8 44.8,172.7 43.8,172.7 42.8,172.6 42.2,172.6 M168.8,172.7 167.8,173.8 166.8,174.7 165.8,175.2 164.8,175.4 163.8,175.5 162.8,175.7 162.0,176.4 161.4,177.4 160.9,178.4 160.2,179.2 159.2,179.6 158.2,179.9 157.2,180.1 156.2,180.2 155.2,180.3 154.2,180.3 152.8,180.3 151.2,180.3 149.8,180.3 148.2,180.3 147.2,180.2 146.2,180.1 145.2,179.9 144.2,179.7 143.2,179.4 142.2,179.2 141.2,178.9 140.2,178.7 139.2,178.4 138.2,178.1 137.2,177.7 136.2,177.3 135.2,176.9 134.2,176.5 133.2,176.1 132.2,175.7 131.2,175.3 130.2,174.9 129.2,174.6 128.2,174.3 127.2,174.0 126.2,173.7 125.2,173.4 124.2,173.2 123.2,172.9 122.2,172.7 121.2,172.5 120.2,172.3 119.2,172.1 118.2,172.0 117.2,171.8 116.2,171.6 115.2,171.4 114.2,171.3 113.2,171.1 112.2,171.0 111.2,170.8 110.2,170.8 109.2,170.7 108.2,170.6 107.2,170.6 106.2,170.5 105.2,170.5 104.2,170.5 103.2,170.4 102.2,170.4 101.2,170.4 100.2,170.4 99.2,170.3 98.2,170.3 97.2,170.3 96.2,170.3 95.2,170.3 94.2,170.3 93.2,170.2 92.2,170.2 91.2,170.2 90.2,170.2 89.2,170.2 88.2,170.1 87.2,170.1 86.2,170.1 85.2,170.0 84.2,170.0 83.2,169.9 82.2,169.8 81.2,169.8 80.2,169.7 79.2,169.6 78.2,169.6 77.2,169.5 76.2,169.4 75.2,169.3 74.2,169.2 73.2,169.1 72.2,168.9 71.2,168.8 70.2,168.7 69.2,168.7 68.2,168.6 67.2,168.5 66.2,168.5 65.2,168.5 64.2,168.5 63.2,168.5 62.2,168.5 61.2,168.5 60.2,168.5 59.2,168.5 58.2,168.5 57.2,168.5 56.2,168.5 55.2,168.5 54.2,168.5 53.2,168.5 52.2,168.5 51.2,168.5 50.2,168.5 49.2,168.5 48.2,168.5 47.2,168.5 46.2,168.5 45.2,168.5 44.2,168.5 43.2,168.6 42.2,168.6 M168.8,168.6 167.8,169.2 166.8,169.8 165.9,170.3 164.8,170.7 163.8,170.8 162.8,171.1 161.8,171.7 160.8,172.8 159.8,173.7 158.8,174.0 157.8,174.2 156.8,174.4 155.8,174.5 154.8,174.5 153.8,174.5 152.8,174.5 151.8,174.5 150.8,174.5 149.8,174.5 148.8,174.5 147.8,174.4 146.8,174.1 145.8,173.7 144.8,173.3 143.8,172.9 142.8,172.5 141.8,172.1 140.8,171.9 139.8,171.6 138.8,171.3 137.8,171.1 136.8,170.8 135.8,170.6 134.8,170.3 133.8,170.1 132.8,169.9 131.8,169.7 130.8,169.5 129.8,169.4 128.8,169.2 127.8,169.1 126.8,168.9 125.8,168.8 124.8,168.7 123.8,168.6 122.8,168.5 121.8,168.5 120.8,168.4 119.8,168.3 118.8,168.3 117.8,168.3 116.8,168.2 115.8,168.2 114.8,168.2 113.8,168.1 112.8,168.1 111.8,168.1 110.8,168.1 109.8,168.0 108.8,168.0 107.8,168.0 106.8,168.0 105.8,167.9 104.8,167.9 103.8,167.9 102.8,167.8 101.8,167.8 100.8,167.8 99.8,167.8 98.8,167.7 97.8,167.7 96.8,167.7 95.8,167.6 94.8,167.6 93.8,167.5 92.8,167.5 91.8,167.5 90.8,167.4 89.8,167.4 88.8,167.3 87.8,167.3 86.8,167.2 85.8,167.1 84.8,167.1 83.8,167.0 82.8,166.9 81.8,166.8 80.8,166.7 79.8,166.7 78.8,166.6 77.8,166.5 76.8,166.5 75.8,166.4 74.8,166.3 73.8,166.3 72.8,166.2 71.8,166.1 70.8,166.1 69.8,166.0 68.8,166.0 67.8,165.9 66.8,165.9 65.8,165.9 64.8,165.8 63.8,165.8 62.8,165.8 61.8,165.7 60.8,165.7 59.8,165.7 58.8,165.7 57.8,165.7 56.8,165.6 55.8,165.6 54.8,165.6 53.8,165.6 52.8,165.6 51.8,165.5 50.8,165.5 49.8,165.5 48.8,165.5 47.8,165.5 46.8,165.5 45.8,165.5 44.8,165.5 43.8,165.5 42.8,165.5 42.2,165.5 M168.8,165.9 167.8,166.4 166.8,166.8 165.8,167.2 164.8,167.5 163.8,167.8 162.8,168.1 161.8,168.3 160.8,168.5 159.8,168.6 158.8,168.7 157.8,168.8 156.8,168.9 155.8,168.9 154.8,168.9 153.8,168.9 152.8,168.9 151.8,168.8 150.8,168.8 149.8,168.7 148.8,168.6 147.8,168.5 146.8,168.3 145.8,168.2 144.8,168.0 143.8,167.8 142.8,167.6 141.8,167.4 140.8,167.2 139.8,167.1 138.8,167.0 137.8,166.8 136.8,166.7 135.8,166.6 134.8,166.5 133.8,166.4 132.8,166.3 131.8,166.2 130.8,166.1 129.8,166.0 128.8,165.9 127.8,165.8 126.8,165.8 125.8,165.7 124.8,165.7 123.8,165.6 122.8,165.6 121.8,165.5 120.8,165.5 119.8,165.5 118.8,165.5 117.8,165.4 116.8,165.4 115.8,165.4 114.8,165.4 113.8,165.4 112.8,165.4 111.8,165.4 110.8,165.4 109.8,165.4 108.8,165.3 107.8,165.3 106.8,165.3 105.8,165.3 104.8,165.3 103.8,165.3 102.8,165.2 101.8,165.2 100.8,165.2 99.8,165.2 98.8,165.2 97.8,165.1 96.8,165.1 95.8,165.1 94.8,165.1 93.8,165.1 92.8,165.0 91.8,165.0 90.8,165.0 89.8,165.0 88.8,164.9 87.8,164.9 86.8,164.9 85.8,164.9 84.8,164.8 83.8,164.8 82.8,164.8 81.8,164.7 80.8,164.7 79.8,164.7 78.8,164.7 77.8,164.6 76.8,164.6 75.8,164.6 74.8,164.6 73.8,164.5 72.8,164.5 71.8,164.5 70.8,164.5 69.8,164.5 68.8,164.4 67.8,164.4 66.8,164.4 65.8,164.4 64.8,164.4 63.8,164.4 62.8,164.4 61.8,164.4 60.8,164.4 59.8,164.4 58.8,164.3 57.8,164.3 56.8,164.3 55.8,164.3 54.8,164.3 53.8,164.3 53.3,164.3 M167.3,164.3 166.2,164.7 165.2,165.1 164.2,165.3 163.2,165.6 162.2,165.9 161.2,166.3 160.2,166.5 159.2,166.6 158.2,166.7 157.2,166.7 156.2,166.7 155.2,166.8 154.2,166.8 153.2,166.7 152.2,166.7 151.2,166.7 150.2,166.6 149.2,166.6 148.2,166.5 147.2,166.4 146.2,166.2 145.2,165.9 144.2,165.7 143.2,165.5 142.2,165.3 141.2,165.1 140.2,165.0 139.2,165.0 138.2,164.9 137.2,164.8 136.2,164.7 135.2,164.7 134.2,164.6 133.2,164.6 132.2,164.5 131.2,164.5 130.2,164.4 129.2,164.4 128.2,164.4 127.2,164.3 126.2,164.3 126.2,164.3 M161.4,164.3 160.2,164.5 159.2,164.7 158.2,164.8 157.2,164.9 156.2,164.9 155.2,165.0 154.2,164.9 153.2,164.9 152.2,164.9 151.2,164.8 150.2,164.7 149.2,164.6 148.2,164.5 147.2,164.4 146.8,164.3" stroke="#1c1c1c" stroke-width="0.75" fill="none" opacity="0.9"/>
<path d="M42.00 264.90L42.12 261.80M42.00 257.69L42.12 254.59M42.00 250.47L42.12 247.37M42.00 243.26L42.12 240.16M42.00 236.04L42.12 232.95M42.00 228.83L42.12 225.73M42.00 221.61L42.12 218.52M42.00 214.40L42.12 211.30M42.00 207.19L42.12 204.09M42.00 199.97L42.12 196.87M42.00 192.76L42.12 189.66M42.00 185.54L42.12 182.45M42.00 178.33L42.12 175.23M42.00 171.11L42.12 168.02M51.07 264.90L51.35 261.81M51.07 257.69L51.36 254.60M51.07 250.47L51.37 247.39M51.07 243.26L51.39 240.17M51.07 236.04L51.40 232.96M51.07 228.83L51.42 225.75M51.07 221.61L51.43 218.54M51.07 214.40L51.45 211.32M51.07 207.19L51.46 204.11M51.07 199.97L51.48 196.90M51.07 192.76L51.50 189.69M51.07 185.54L51.51 182.47M51.07 178.33L51.53 175.26M51.07 171.11L51.55 168.05M60.14 264.90L60.54 261.83M60.14 257.69L60.56 254.61M60.14 250.47L60.58 247.40M60.14 243.26L60.60 240.19M60.14 236.04L60.62 232.98M60.14 228.83L60.65 225.77M60.14 221.61L60.68 218.56M60.14 214.40L60.70 211.35M60.14 207.19L60.73 204.14M60.14 199.97L60.76 196.93M60.14 192.76L60.79 189.73M60.14 185.54L60.82 182.52M60.14 178.33L60.85 175.31M60.14 171.11L60.88 168.10M69.21 264.90L69.72 261.84M69.21 257.69L69.74 254.63M69.21 250.47L69.77 247.42M69.21 243.26L69.80 240.21M69.21 236.04L69.83 233.00M69.21 228.83L69.87 225.80M69.21 221.61L69.90 218.59M69.21 214.40L69.94 211.39M69.21 207.19L69.98 204.18M69.21 199.97L70.02 196.98M69.21 192.76L70.06 189.77M69.21 185.54L70.10 182.57M69.21 178.33L70.14 175.37M69.21 171.11L70.18 168.17M78.29 264.90L78.88 261.86M78.29 257.69L78.91 254.65M78.29 250.47L78.95 247.44M78.29 243.26L78.99 240.24M78.29 236.04L79.03 233.03M78.29 228.83L79.07 225.83M78.29 221.61L79.12 218.63M78.29 214.40L79.16 211.43M78.29 207.19L79.21 204.23M78.29 199.97L79.26 197.03M78.29 192.76L79.31 189.83M78.29 185.54L79.36 182.63M78.29 178.33L79.41 175.44M78.29 171.11L79.46 168.25M87.36 264.90L88.05 261.88M87.36 257.69L88.08 254.67M87.36 250.47L88.12 247.47M87.36 243.26L88.17 240.26M87.36 236.04L88.22 233.06M87.36 228.83L88.27 225.87M87.36 221.61L88.32 218.67M87.36 214.40L88.38 211.47M87.36 207.19L88.43 204.28M87.36 199.97L88.49 197.09M87.36 192.76L88.55 189.89M87.36 185.54L88.61 182.71M87.36 178.33L88.67 175.52M87.36 171.11L88.73 168.33M96.43 264.90L97.21 261.90M96.43 257.69L97.24 254.69M96.43 250.47L97.29 247.49M96.43 243.26L97.34 240.30M96.43 236.04L97.40 233.10M96.43 228.83L97.46 225.90M96.43 221.61L97.52 218.71M96.43 214.40L97.58 211.52M96.43 207.19L97.65 204.33M96.43 199.97L97.71 197.15M96.43 192.76L97.78 189.97M96.43 185.54L97.84 182.78M96.43 178.33L97.91 175.61M96.43 171.11L97.98 168.43M105.50 264.90L106.36 261.92M105.50 257.69L106.40 254.72M105.50 250.47L106.46 247.52M105.50 243.26L106.52 240.33M105.50 236.04L106.58 233.14M105.50 228.83L106.64 225.95M105.50 221.61L106.71 218.76M105.50 214.40L106.78 211.58M105.50 207.19L106.85 204.40M105.50 199.97L106.92 197.22M105.50 192.76L107.00 190.04M105.50 185.54L107.07 182.87M105.50 178.33L107.14 175.70M105.50 171.11L107.21 168.53M114.57 264.90L115.51 261.95M114.57 257.69L115.56 254.75M114.57 250.47L115.62 247.55M114.57 243.26L115.68 240.36M114.57 236.04L115.75 233.18M114.57 228.83L115.82 225.99M114.57 221.61L115.90 218.81M114.57 214.40L115.97 211.64M114.57 207.19L116.05 204.46M114.57 199.97L116.13 197.29M114.57 192.76L116.21 190.12M114.57 185.54L116.29 182.96M114.57 178.33L116.36 175.80M114.57 171.11L116.44 168.64M123.64 264.90L124.66 261.97M123.64 257.69L124.71 254.78M123.64 250.47L124.78 247.59M123.64 243.26L124.85 240.40M123.64 236.04L124.92 233.22M123.64 228.83L125.00 226.04M123.64 221.61L125.08 218.87M123.64 214.40L125.16 211.70M123.64 207.19L125.24 204.53M123.64 199.97L125.33 197.37M123.64 192.76L125.41 190.21M123.64 185.54L125.49 183.06M123.64 178.33L125.58 175.91M123.64 171.11L125.66 168.76M132.71 264.90L133.81 262.00M132.71 257.69L133.86 254.81M132.71 250.47L133.93 247.62M132.71 243.26L134.01 240.44M132.71 236.04L134.09 233.26M132.71 228.83L134.17 226.09M132.71 221.61L134.26 218.93M132.71 214.40L134.34 211.76M132.71 207.19L134.43 204.61M132.71 199.97L134.52 197.45M132.71 192.76L134.61 190.30M132.71 185.54L134.69 183.16M132.71 178.33L134.78 176.02M132.71 171.11L134.86 168.88M141.79 264.90L142.95 262.03M141.79 257.69L143.01 254.84M141.79 250.47L143.09 247.66M141.79 243.26L143.17 240.48M141.79 236.04L143.25 233.31M141.79 228.83L143.34 226.15M141.79 221.61L143.43 218.99M141.79 214.40L143.52 211.83M141.79 207.19L143.61 204.68M141.79 199.97L143.71 197.54M141.79 192.76L143.80 190.40M141.79 185.54L143.89 183.26M141.79 178.33L143.97 176.13M141.79 171.11L144.06 169.01M150.86 264.90L152.10 262.06M150.86 257.69L152.16 254.87M150.86 250.47L152.24 247.69M150.86 243.26L152.32 240.52M150.86 236.04L152.41 233.36M150.86 228.83L152.50 226.20M150.86 221.61L152.60 219.05M150.86 214.40L152.69 211.90M150.86 207.19L152.79 204.76M150.86 199.97L152.88 197.63M150.86 192.76L152.98 190.50M150.86 185.54L153.07 183.37M150.86 178.33L153.16 176.25M150.86 171.11L153.19 169.07M159.93 264.90L161.24 262.09M159.93 257.69L161.30 254.91M159.93 250.47L161.38 247.73M159.93 243.26L161.47 240.57M159.93 236.04L161.57 233.41M159.93 228.83L161.67 226.26M159.93 221.61L161.76 219.12M159.93 214.40L161.86 211.98M159.93 207.19L161.96 204.85M159.93 199.97L162.06 197.72M159.93 192.76L162.15 190.60M159.93 185.54L162.25 183.49M159.93 178.33L162.26 176.28M159.93 171.11L162.26 169.07M169.00 264.90L170.38 262.12M169.00 257.69L170.44 254.94M169.00 250.47L170.53 247.78M169.00 243.26L170.62 240.62M169.00 236.04L170.72 233.47M169.00 228.83L170.82 226.32M169.00 221.61L170.92 219.18M169.00 214.40L171.03 212.05M169.00 207.19L171.13 204.93M169.00 199.97L171.23 197.81M169.00 192.76L171.32 190.70M169.00 185.54L171.33 183.50M169.00 178.33L171.33 176.28M169.00 171.11L171.33 169.07" stroke="#111" stroke-width="0.95" fill="none"/><path d="M42.20 260.00L42.82 261.83L41.42 261.77ZM42.20 252.79L42.82 254.62L41.42 254.56ZM42.20 245.58L42.82 247.40L41.42 247.35ZM42.20 238.36L42.82 240.19L41.42 240.13ZM42.20 231.15L42.82 232.97L41.42 232.92ZM42.20 223.93L42.82 225.76L41.42 225.70ZM42.20 216.72L42.82 218.54L41.42 218.49ZM42.20 209.50L42.82 211.33L41.42 211.27ZM42.20 202.29L42.82 204.12L41.42 204.06ZM42.20 195.08L42.82 196.90L41.42 196.85ZM42.20 187.86L42.82 189.69L41.42 189.63ZM42.20 180.65L42.82 182.47L41.42 182.42ZM42.20 173.43L42.82 175.26L41.42 175.20ZM42.20 166.22L42.82 168.04L41.42 167.99ZM51.52 260.02L52.05 261.88L50.66 261.75ZM51.53 252.81L52.06 254.66L50.66 254.53ZM51.55 245.59L52.07 247.45L50.68 247.32ZM51.57 238.38L52.08 240.24L50.69 240.10ZM51.59 231.17L52.10 233.03L50.70 232.89ZM51.62 223.96L52.11 225.83L50.72 225.67ZM51.64 216.75L52.13 218.62L50.74 218.45ZM51.66 209.54L52.14 211.41L50.75 211.24ZM51.69 202.33L52.16 204.20L50.77 204.02ZM51.72 195.11L52.17 196.99L50.79 196.81ZM51.74 187.90L52.19 189.78L50.80 189.59ZM51.77 180.69L52.21 182.57L50.82 182.37ZM51.80 173.48L52.22 175.37L50.84 175.16ZM51.83 166.27L52.24 168.16L50.86 167.94ZM60.77 260.04L61.23 261.92L59.85 261.74ZM60.80 252.83L61.25 254.71L59.86 254.52ZM60.83 245.62L61.27 247.50L59.88 247.30ZM60.86 238.41L61.29 240.29L59.91 240.09ZM60.90 231.20L61.32 233.09L59.93 232.87ZM60.94 223.99L61.34 225.88L59.96 225.66ZM60.99 216.79L61.37 218.68L59.99 218.44ZM61.03 209.58L61.39 211.48L60.01 211.22ZM61.07 202.37L61.42 204.28L60.04 204.01ZM61.12 195.17L61.45 197.07L60.07 196.79ZM61.17 187.96L61.47 189.87L60.11 189.58ZM61.21 180.76L61.50 182.67L60.14 182.36ZM61.26 173.56L61.53 175.47L60.17 175.15ZM61.31 166.36L61.56 168.27L60.20 167.94ZM70.01 260.06L70.41 261.95L69.02 261.73ZM70.04 252.86L70.43 254.75L69.05 254.51ZM70.09 245.65L70.45 247.55L69.08 247.30ZM70.14 238.44L70.48 240.34L69.11 240.08ZM70.19 231.24L70.52 233.14L69.14 232.87ZM70.24 224.04L70.55 225.94L69.18 225.65ZM70.30 216.84L70.58 218.75L69.22 218.44ZM70.36 209.64L70.62 211.55L69.26 211.22ZM70.42 202.44L70.66 204.35L69.30 204.01ZM70.48 195.24L70.69 197.16L69.34 196.80ZM70.55 188.04L70.73 189.96L69.38 189.58ZM70.61 180.85L70.77 182.77L69.43 182.37ZM70.68 173.65L70.81 175.58L69.47 175.16ZM70.74 166.46L70.85 168.39L69.52 167.95ZM79.23 260.09L79.57 261.99L78.20 261.72ZM79.27 252.89L79.60 254.79L78.23 254.51ZM79.33 245.68L79.63 247.59L78.26 247.29ZM79.39 238.48L79.67 240.40L78.30 240.08ZM79.46 231.29L79.71 233.20L78.35 232.87ZM79.53 224.09L79.75 226.01L78.39 225.65ZM79.60 216.89L79.79 218.82L78.44 218.44ZM79.67 209.70L79.83 211.62L78.49 211.23ZM79.75 202.51L79.88 204.44L78.54 204.02ZM79.82 195.32L79.92 197.25L78.59 196.81ZM79.90 188.13L79.97 190.06L78.65 189.60ZM79.98 180.95L80.02 182.88L78.70 182.39ZM80.06 173.76L80.06 175.69L78.76 175.19ZM80.14 166.58L80.11 168.51L78.81 167.98ZM88.45 260.12L88.73 262.03L87.36 261.72ZM88.50 252.92L88.76 254.83L87.40 254.51ZM88.56 245.72L88.80 247.64L87.44 247.29ZM88.64 238.53L88.84 240.45L87.49 240.08ZM88.72 231.33L88.89 233.26L87.54 232.87ZM88.80 224.14L88.94 226.07L87.60 225.66ZM88.88 216.96L88.99 218.89L87.66 218.45ZM88.97 209.77L89.04 211.70L87.72 211.24ZM89.06 202.59L89.09 204.52L87.78 204.04ZM89.15 195.41L89.14 197.34L87.84 196.83ZM89.24 188.23L89.19 190.16L87.90 189.63ZM89.33 181.06L89.25 182.99L87.97 182.42ZM89.43 173.89L89.30 175.81L88.03 175.22ZM89.52 166.72L89.35 168.64L88.10 168.02ZM97.66 260.16L97.88 262.07L96.53 261.72ZM97.71 252.96L97.92 254.88L96.57 254.51ZM97.79 245.76L97.96 247.69L96.62 247.30ZM97.87 238.58L98.01 240.50L96.67 240.09ZM97.96 231.39L98.06 233.32L96.74 232.88ZM98.06 224.21L98.12 226.14L96.80 225.67ZM98.15 217.03L98.18 218.96L96.86 218.47ZM98.25 209.85L98.23 211.78L96.93 211.26ZM98.35 202.68L98.29 204.61L97.00 204.06ZM98.46 195.51L98.35 197.44L97.07 196.86ZM98.56 188.34L98.41 190.27L97.15 189.66ZM98.66 181.18L98.47 183.10L97.22 182.46ZM98.77 174.02L98.52 175.94L97.29 175.27ZM98.87 166.87L98.58 168.78L97.37 168.08ZM106.86 260.19L107.03 262.12L105.69 261.73ZM106.93 253.00L107.07 254.92L105.73 254.52ZM107.01 245.81L107.12 247.74L105.79 247.31ZM107.10 238.63L107.18 240.56L105.85 240.10ZM107.20 231.45L107.23 233.38L105.92 232.89ZM107.31 224.27L107.29 226.21L105.99 225.69ZM107.42 217.10L107.36 219.03L106.07 218.49ZM107.53 209.94L107.42 211.87L106.14 211.29ZM107.64 202.78L107.48 204.70L106.22 204.09ZM107.75 195.62L107.55 197.54L106.30 196.90ZM107.87 188.47L107.61 190.38L106.38 189.70ZM107.98 181.32L107.67 183.22L106.47 182.51ZM108.09 174.17L107.74 176.07L106.55 175.33ZM108.21 167.03L107.80 168.92L106.63 168.14ZM116.06 260.23L116.18 262.16L114.85 261.73ZM116.13 253.04L116.22 254.97L114.89 254.52ZM116.23 245.86L116.28 247.79L114.96 247.32ZM116.33 238.68L116.34 240.61L115.03 240.11ZM116.44 231.51L116.40 233.44L115.11 232.91ZM116.55 224.35L116.46 226.28L115.18 225.71ZM116.67 217.19L116.53 219.11L115.27 218.51ZM116.79 210.03L116.60 211.95L115.35 211.32ZM116.91 202.88L116.67 204.80L115.44 204.13ZM117.03 195.74L116.73 197.64L115.52 196.94ZM117.16 188.60L116.80 190.49L115.61 189.75ZM117.28 181.46L116.87 183.35L115.70 182.57ZM117.40 174.33L116.93 176.20L115.79 175.39ZM117.53 167.21L117.00 169.06L115.88 168.22ZM125.25 260.27L125.32 262.20L124.00 261.74ZM125.33 253.09L125.37 255.02L124.05 254.53ZM125.43 245.91L125.43 247.84L124.12 247.33ZM125.55 238.74L125.49 240.67L124.20 240.13ZM125.67 231.58L125.56 233.51L124.28 232.93ZM125.79 224.42L125.63 226.35L124.37 225.74ZM125.92 217.27L125.70 219.19L124.46 218.54ZM126.04 210.13L125.77 212.04L124.55 211.35ZM126.17 202.99L125.84 204.89L124.65 204.17ZM126.31 195.86L125.92 197.75L124.74 196.99ZM126.44 188.73L125.99 190.61L124.84 189.81ZM126.57 181.61L126.06 183.47L124.93 182.64ZM126.70 174.50L126.12 176.34L125.03 175.47ZM126.83 167.39L126.19 169.21L125.13 168.30ZM134.44 260.32L134.46 262.25L133.15 261.75ZM134.53 253.13L134.51 255.07L133.21 254.55ZM134.64 245.97L134.58 247.90L133.29 247.35ZM134.76 238.80L134.64 240.73L133.37 240.15ZM134.89 231.65L134.72 233.57L133.46 232.95ZM135.02 224.50L134.79 226.42L133.55 225.76ZM135.15 217.36L134.86 219.27L133.65 218.58ZM135.29 210.23L134.94 212.13L133.75 211.40ZM135.43 203.11L135.01 204.99L133.85 204.22ZM135.57 195.99L135.09 197.86L133.95 197.04ZM135.71 188.88L135.16 190.73L134.05 189.87ZM135.84 181.77L135.23 183.60L134.16 182.71ZM135.98 174.67L135.30 176.48L134.26 175.55ZM136.11 167.58L135.37 169.37L134.36 168.40ZM143.63 260.36L143.60 262.29L142.31 261.76ZM143.72 253.18L143.65 255.12L142.37 254.56ZM143.84 246.02L143.72 247.95L142.45 247.36ZM143.97 238.87L143.79 240.79L142.54 240.17ZM144.10 231.73L143.87 233.64L142.64 232.98ZM144.24 224.59L143.95 226.50L142.73 225.80ZM144.39 217.46L144.02 219.36L142.84 218.62ZM144.53 210.34L144.10 212.22L142.94 211.44ZM144.68 203.23L144.18 205.09L143.05 204.27ZM144.82 196.12L144.25 197.97L143.16 197.10ZM144.96 189.03L144.33 190.85L143.26 189.94ZM145.11 181.94L144.40 183.74L143.37 182.79ZM145.24 174.86L144.47 176.63L143.48 175.64ZM145.38 167.79L144.54 169.52L143.58 168.49ZM152.82 260.41L152.74 262.34L151.45 261.78ZM152.91 253.24L152.79 255.17L151.52 254.58ZM153.04 246.08L152.86 248.01L151.61 247.38ZM153.17 238.94L152.94 240.86L151.70 240.19ZM153.31 231.80L153.02 233.71L151.81 233.01ZM153.46 224.68L153.10 226.57L151.91 225.83ZM153.61 217.56L153.18 219.44L152.02 218.66ZM153.76 210.45L153.26 212.32L152.13 211.49ZM153.91 203.35L153.34 205.20L152.24 204.33ZM154.06 196.27L153.41 198.08L152.36 197.17ZM154.21 189.18L153.49 190.98L152.47 190.02ZM154.36 182.11L153.56 183.87L152.58 182.87ZM154.50 175.05L153.63 176.77L152.69 175.73ZM154.54 167.88L153.65 169.59L152.72 168.54ZM162.00 260.46L161.87 262.39L160.60 261.79ZM162.10 253.29L161.93 255.22L160.67 254.60ZM162.23 246.15L162.00 248.06L160.77 247.41ZM162.37 239.01L162.08 240.92L160.87 240.22ZM162.52 231.88L162.16 233.78L160.97 233.04ZM162.67 224.77L162.25 226.65L161.09 225.87ZM162.83 217.67L162.33 219.53L161.20 218.70ZM162.99 210.57L162.41 212.41L161.32 211.54ZM163.14 203.49L162.49 205.30L161.43 204.39ZM163.30 196.41L162.57 198.20L161.55 197.24ZM163.45 189.35L162.64 191.10L161.67 190.10ZM163.59 182.29L162.71 184.01L161.78 182.96ZM163.61 175.09L162.72 176.81L161.80 175.76ZM163.61 167.88L162.72 169.59L161.80 168.54ZM171.18 260.51L171.00 262.43L169.75 261.81ZM171.28 253.35L171.06 255.27L169.82 254.62ZM171.42 246.21L171.14 248.12L169.92 247.43ZM171.57 239.08L171.22 240.98L170.03 240.25ZM171.72 231.97L171.30 233.85L170.14 233.08ZM171.88 224.87L171.39 226.73L170.26 225.91ZM172.04 217.77L171.47 219.62L170.38 218.75ZM172.20 210.69L171.56 212.51L170.50 211.60ZM172.36 203.62L171.64 205.41L170.62 204.45ZM172.52 196.56L171.71 198.32L170.74 197.31ZM172.67 189.51L171.79 191.23L170.86 190.18ZM172.68 182.31L171.79 184.02L170.87 182.97ZM172.68 175.09L171.79 176.81L170.87 175.76ZM172.68 167.88L171.79 169.59L170.87 168.54Z" fill="#111" stroke="#111" stroke-width="0.3"/>
<text x="39.60" y="269.20" font-size="10.50" text-anchor="end" fill="#2a2a2a"  >0</text>
<text x="39.60" y="248.48" font-size="10.50" text-anchor="end" fill="#2a2a2a"  >0.5</text>
<text x="39.60" y="227.75" font-size="10.50" text-anchor="end" fill="#2a2a2a"  >1</text>
<text x="39.60" y="207.03" font-size="10.50" text-anchor="end" fill="#2a2a2a"  >1.5</text>
<text x="39.60" y="186.30" font-size="10.50" text-anchor="end" fill="#2a2a2a"  >2</text>
<text x="42.00" y="278.50" font-size="10.50" text-anchor="middle" fill="#2a2a2a"  >0</text>
<text x="67.40" y="278.50" font-size="10.50" text-anchor="middle" fill="#2a2a2a"  >10</text>
<text x="92.80" y="278.50" font-size="10.50" text-anchor="middle" fill="#2a2a2a"  >20</text>
<text x="118.20" y="278.50" font-size="10.50" text-anchor="middle" fill="#2a2a2a"  >30</text>
<text x="143.60" y="278.50" font-size="10.50" text-anchor="middle" fill="#2a2a2a"  >40</text>
<text x="169.00" y="278.50" font-size="10.50" text-anchor="middle" fill="#2a2a2a"  >50</text>
<text x="45.00" y="160.25" font-size="12.40" text-anchor="start" fill="#2a2a2a"  >(c) 60 MHz</text>
<text x="105.30" y="291.90" font-size="12.00" text-anchor="middle" fill="#2a2a2a"  ><tspan font-style="italic">r</tspan> (cm)</text>
<text transform="translate(22.2 215.33) rotate(-90)" font-size="12" text-anchor="middle" fill="#2a2a2a"><tspan font-style="italic">z</tspan> (cm)</text>
<text transform="translate(7.9 214.53) rotate(-90)" font-size="11.8" text-anchor="middle" fill="#2a2a2a"><tspan font-weight="bold">E</tspan> (V/cm)</text>
<path d="M103.1,418.0 102.2,417.4 101.3,416.5 100.4,415.5 99.8,414.6 98.9,413.5 98.2,412.6 97.5,411.4 96.8,410.4 96.2,409.5 95.6,408.4 95.0,407.4 94.4,406.4 93.9,405.4 93.3,404.4 92.8,403.3 92.2,402.4 91.8,401.5 91.2,400.7 90.5,399.3 89.8,398.3 89.2,397.4 88.5,396.3 87.8,395.3 86.9,394.3 85.9,393.2 84.8,392.3 83.8,391.5 82.8,390.8 81.8,390.2 80.8,389.5 79.8,389.0 78.8,388.4 77.8,387.8 76.8,387.2 75.8,386.7 74.8,386.2 73.9,385.7 73.0,385.2 72.0,384.7 71.1,384.1 70.2,383.6 69.3,383.1 68.3,382.6 67.4,382.1 66.4,381.6 65.4,381.1 64.3,380.6 63.2,380.1 62.2,379.7 61.2,379.2 60.2,378.8 59.2,378.4 58.2,378.0 57.2,377.6 56.2,377.2 55.2,376.9 54.2,376.5 53.2,376.2 52.2,375.8 51.2,375.5 50.2,375.2 49.2,374.9 48.2,374.6 47.2,374.3 46.2,374.0 45.2,373.7 44.2,373.4 43.2,373.1 42.2,372.9 M148.5,418.0 147.9,417.0 147.4,416.0 146.9,415.0 146.4,414.0 146.0,412.9 145.6,411.9 145.2,410.9 144.9,409.9 144.6,408.9 144.5,407.9 144.3,406.9 144.1,405.9 143.9,404.9 143.7,403.9 143.5,402.8 143.3,401.8 143.1,400.8 142.8,399.8 142.4,398.8 142.0,397.8 141.4,396.8 140.2,396.0 139.2,395.8 138.2,395.8 137.2,396.0 136.3,396.3 135.3,396.8 134.2,397.7 133.2,398.6 132.5,399.3 131.8,400.1 130.8,401.3 130.1,402.3 129.5,403.3 128.8,404.4 128.2,405.2 127.2,406.2 126.2,407.2 125.2,408.4 124.4,409.4 123.8,410.2 122.8,411.4 122.1,412.4 121.3,413.5 120.6,414.5 119.8,415.5 118.9,416.5 117.8,417.5 116.8,418.0 M168.8,368.1 168.3,369.5 167.9,370.5 167.6,371.5 167.1,372.5 166.6,373.5 165.8,374.6 164.8,374.8 163.8,374.8 162.8,374.8 161.8,374.8 160.8,374.8 159.8,374.8 158.8,374.8 157.8,374.8 156.8,374.8 155.8,374.8 154.8,374.8 153.8,375.0 152.8,375.4 151.8,376.0 150.9,376.6 149.8,377.4 148.9,378.1 147.8,378.9 146.8,379.6 145.8,380.2 144.8,380.8 143.8,381.3 142.8,381.8 141.8,382.4 140.8,383.0 139.8,384.1 139.4,385.2 138.9,386.2 138.4,387.2 137.8,388.2 136.8,388.4 135.8,388.1 134.8,387.7 133.8,387.4 132.8,387.4 131.8,387.3 130.8,387.2 129.8,387.2 128.8,387.0 127.8,386.8 126.8,386.6 125.8,386.2 124.8,385.8 123.8,385.3 122.8,384.8 121.8,384.2 120.8,383.5 119.8,382.8 118.9,382.1 117.8,381.2 116.9,380.6 115.8,379.7 114.8,378.8 114.1,378.1 113.2,377.2 112.2,376.1 111.2,375.2 110.2,374.8 109.2,374.8 108.2,374.8 107.2,374.8 106.2,374.8 105.2,374.8 104.2,374.8 103.2,374.8 102.2,374.6 101.2,374.3 100.2,373.9 99.2,373.5 98.2,372.9 97.2,372.2 96.3,371.5 95.2,370.7 94.5,370.0 93.8,369.2 93.1,368.5 92.2,367.5 91.5,366.5 90.8,365.5 90.0,364.4 89.2,363.5 88.4,362.4 87.8,361.7 87.0,360.9 85.8,360.0 84.8,359.5 83.8,359.0 82.8,358.5 81.8,358.0 80.8,357.5 79.8,357.1 78.8,356.7 77.8,356.3 76.8,355.9 75.8,355.5 74.8,355.1 73.8,354.7 72.8,354.4 71.8,354.0 70.8,353.6 69.8,353.3 68.8,352.9 67.8,352.6 66.8,352.2 65.8,351.9 64.8,351.5 63.8,351.2 62.8,350.9 61.8,350.6 60.8,350.3 59.8,350.0 58.8,349.7 57.8,349.4 56.8,349.1 55.8,348.8 54.8,348.5 53.8,348.2 52.8,348.0 51.8,347.7 50.8,347.4 49.8,347.1 48.8,346.9 47.8,346.6 46.8,346.3 45.8,346.0 44.8,345.7 43.8,345.4 42.8,345.1 42.2,345.0 M168.8,346.0 168.2,347.0 167.8,348.1 167.2,349.1 166.8,350.1 165.9,351.3 164.8,352.3 163.8,352.7 162.8,353.1 161.8,353.4 160.8,353.6 159.8,353.8 158.8,354.0 157.8,354.2 156.8,354.4 155.8,354.8 154.8,355.2 153.8,355.8 152.8,356.5 151.8,357.4 150.8,358.4 149.9,359.4 149.0,360.4 148.2,361.3 147.2,362.4 146.4,363.4 145.5,364.4 144.8,365.4 143.9,366.5 143.2,367.5 142.6,368.5 141.9,369.5 141.2,370.5 140.6,371.5 140.0,372.5 139.5,373.5 139.1,374.6 138.5,375.6 137.8,376.5 136.8,376.7 135.9,376.1 135.0,375.1 134.2,374.2 133.4,373.5 132.2,372.8 131.2,372.2 130.2,371.6 129.2,371.1 128.2,370.5 127.4,370.0 126.5,369.5 125.6,369.0 124.7,368.5 123.8,368.0 122.9,367.5 122.0,367.0 121.1,366.5 120.2,366.0 119.3,365.5 118.2,364.8 117.2,364.2 116.2,363.6 115.2,363.0 114.2,362.2 113.3,361.4 112.2,360.6 111.2,359.9 110.2,359.6 109.2,359.7 108.2,360.0 107.2,360.5 106.2,361.0 105.3,361.4 104.2,361.7 103.2,361.6 102.2,361.3 101.2,360.7 100.2,359.9 99.2,358.9 98.4,357.9 97.6,356.9 96.8,355.9 96.1,354.8 95.3,353.8 94.5,352.8 93.8,351.8 92.9,350.8 92.2,350.0 91.2,348.9 90.2,347.9 89.2,347.0 88.3,346.3 87.2,345.5 86.2,344.9 85.2,344.5 84.2,344.0 83.2,343.6 82.2,343.2 81.2,342.9 80.2,342.6 79.2,342.3 78.2,342.0 77.2,341.7 76.2,341.5 75.2,341.2 74.2,341.0 73.2,340.8 72.2,340.6 71.2,340.4 70.2,340.2 69.2,339.9 68.2,339.7 67.2,339.5 66.2,339.3 65.2,339.0 64.2,338.8 63.2,338.5 62.2,338.3 61.2,338.0 60.2,337.7 59.2,337.5 58.2,337.2 57.2,336.9 56.2,336.7 55.2,336.4 54.2,336.1 53.2,335.8 52.2,335.5 51.2,335.2 50.2,334.9 49.2,334.6 48.2,334.3 47.2,334.0 46.2,333.7 45.2,333.3 44.2,333.0 43.2,332.7 42.2,332.4 M168.8,336.5 167.9,337.7 167.2,338.7 166.5,339.7 165.8,340.6 164.8,341.2 163.8,341.6 162.8,341.9 161.8,342.1 160.8,342.4 159.8,342.5 158.8,342.7 157.8,343.0 156.8,343.2 155.8,343.6 154.8,344.0 153.8,344.6 152.9,345.2 151.8,346.3 150.8,347.3 149.9,348.3 149.2,349.1 148.3,350.3 147.5,351.3 146.8,352.3 146.0,353.3 145.3,354.3 144.6,355.4 143.8,356.4 143.2,357.3 142.6,358.4 142.0,359.4 141.5,360.4 140.9,361.4 140.4,362.4 140.0,363.4 139.7,364.4 139.3,365.5 139.0,366.5 138.7,367.5 138.3,368.5 137.8,369.4 136.8,369.5 136.1,368.5 135.6,367.5 135.2,366.5 134.7,365.5 134.0,364.4 133.2,363.6 132.2,362.6 131.5,361.9 130.8,361.1 129.8,360.1 128.8,359.0 127.8,358.1 126.9,357.4 125.8,356.5 124.9,355.9 123.8,355.2 122.8,354.6 121.8,354.0 120.8,353.5 119.8,353.0 118.8,352.5 117.8,351.9 116.8,351.4 115.8,350.8 114.8,350.0 114.0,349.3 112.8,348.3 111.8,347.4 110.8,346.9 109.8,346.6 108.8,346.4 107.8,346.3 106.8,346.1 105.8,346.0 104.8,345.8 103.8,345.6 102.8,345.1 101.8,344.5 100.8,343.7 99.8,342.8 98.8,341.9 97.8,340.9 97.0,340.2 95.8,339.2 94.8,338.3 93.8,337.5 92.8,336.7 91.8,336.0 90.8,335.2 89.9,334.6 88.8,334.0 87.8,333.5 86.8,333.1 85.8,332.8 84.8,332.6 83.8,332.4 82.8,332.2 81.8,332.0 80.8,331.8 79.8,331.7 78.8,331.5 77.8,331.4 76.8,331.3 75.8,331.2 74.8,331.1 73.8,331.0 72.8,330.8 71.8,330.7 70.8,330.6 69.8,330.5 68.8,330.4 67.8,330.3 66.8,330.1 65.8,330.0 64.8,329.8 63.8,329.7 62.8,329.5 61.8,329.3 60.8,329.2 59.8,329.0 58.8,328.8 57.8,328.7 56.8,328.5 55.8,328.3 54.8,328.1 53.8,327.9 52.8,327.7 51.8,327.4 50.8,327.2 49.8,327.0 48.8,326.7 47.8,326.5 46.8,326.2 45.8,325.9 44.8,325.6 43.8,325.4 42.8,325.1 42.2,325.0 M168.8,328.3 168.0,329.1 167.2,329.9 166.5,330.6 165.2,331.4 164.2,331.8 163.2,332.1 162.2,332.3 161.2,332.4 160.2,332.6 159.2,332.7 158.2,332.9 157.2,333.1 156.2,333.3 155.2,333.7 154.3,334.1 153.2,334.7 152.2,335.5 151.4,336.2 150.3,337.2 149.4,338.2 148.8,339.0 147.8,340.2 147.2,341.1 146.5,342.2 145.9,343.2 145.3,344.2 144.8,345.1 144.1,346.3 143.5,347.3 143.0,348.3 142.4,349.3 141.9,350.3 141.4,351.3 140.9,352.3 140.4,353.3 140.0,354.3 139.7,355.4 139.4,356.4 139.1,357.4 138.8,358.4 138.4,359.4 138.0,360.4 137.3,361.4 136.3,360.4 135.9,359.4 135.5,358.4 135.2,357.4 134.9,356.4 134.6,355.4 134.3,354.3 133.9,353.3 133.4,352.3 132.8,351.3 132.2,350.4 131.5,349.3 130.8,348.3 130.2,347.5 129.4,346.3 128.8,345.4 127.8,344.2 126.8,343.3 125.8,342.3 124.8,341.4 123.8,340.4 123.0,339.7 122.2,338.9 121.2,337.8 120.2,336.8 119.2,335.8 118.2,334.9 117.2,334.1 116.2,333.5 115.2,332.8 114.3,332.1 113.2,331.2 112.2,330.2 111.2,329.4 110.2,329.0 109.2,329.1 108.2,329.3 107.2,329.7 106.2,330.0 105.2,330.4 104.2,330.5 103.2,330.5 102.2,330.3 101.2,330.0 100.2,329.6 99.2,329.2 98.2,328.6 97.2,328.1 96.2,327.6 95.2,327.1 94.2,326.6 93.2,326.2 92.2,325.7 91.2,325.4 90.2,325.0 89.2,324.8 88.2,324.6 87.2,324.4 86.2,324.3 85.2,324.2 84.2,324.2 83.2,324.2 82.2,324.1 81.2,324.1 80.2,324.1 79.2,324.0 78.2,324.0 77.2,324.0 76.2,324.0 75.2,323.9 74.2,323.9 73.2,323.9 72.2,323.9 71.2,323.8 70.2,323.8 69.2,323.8 68.2,323.7 67.2,323.7 66.2,323.7 65.2,323.6 64.2,323.5 63.2,323.4 62.2,323.3 61.2,323.1 60.2,323.0 59.2,322.8 58.2,322.6 57.2,322.4 56.2,322.2 55.2,322.1 54.2,321.9 53.2,321.8 52.2,321.7 51.2,321.5 50.2,321.4 49.2,321.3 48.2,321.3 47.2,321.2 46.2,321.1 45.2,321.0 44.2,321.0 43.2,320.9 42.2,320.9 M168.8,322.8 167.8,323.1 166.8,323.4 165.8,323.7 164.8,323.9 163.8,324.1 162.8,324.2 161.8,324.3 160.8,324.4 159.8,324.5 158.8,324.6 157.8,324.7 156.8,324.9 155.8,325.0 154.8,325.3 153.8,325.6 152.8,326.1 151.8,326.7 150.8,327.5 149.8,328.5 148.8,329.5 147.9,330.6 147.1,331.6 146.3,332.6 145.6,333.6 144.9,334.6 144.3,335.7 143.8,336.7 143.4,337.7 143.0,338.7 142.6,339.7 142.2,340.7 141.8,341.7 141.3,342.7 140.9,343.7 140.4,344.7 140.0,345.8 139.7,346.8 139.3,347.8 139.0,348.8 138.7,349.8 138.3,350.8 137.9,351.8 136.8,352.0 136.2,350.9 135.9,349.8 135.6,348.8 135.3,347.8 135.0,346.8 134.8,345.8 134.4,344.7 134.0,343.7 133.5,342.7 133.0,341.7 132.5,340.7 132.0,339.7 131.4,338.7 130.8,337.7 130.2,336.8 129.4,335.7 128.5,334.6 127.8,333.9 126.9,333.1 125.8,332.1 124.8,331.2 123.8,330.4 122.8,329.6 121.8,328.9 120.8,328.2 119.8,327.6 118.8,326.9 117.8,326.2 116.8,325.5 115.8,324.8 114.8,324.1 113.8,323.3 112.8,322.5 111.8,321.8 110.8,321.2 109.8,320.9 108.8,320.8 107.8,320.6 106.8,320.5 105.8,320.4 104.8,320.3 103.8,320.2 102.8,320.0 101.8,319.8 100.8,319.7 99.8,319.5 98.8,319.2 97.8,319.0 96.8,318.8 95.8,318.6 94.8,318.4 93.8,318.2 92.8,318.0 91.8,317.8 90.8,317.7 89.8,317.5 88.8,317.3 87.8,317.2 86.8,317.1 85.8,316.9 84.8,316.8 83.8,316.7 82.8,316.6 81.8,316.5 81.1,316.5 M168.8,319.1 167.8,319.3 166.8,319.5 165.8,319.7 164.8,319.8 163.8,319.9 162.8,320.0 161.8,320.1 160.8,320.2 159.8,320.2 158.8,320.3 157.8,320.4 156.8,320.5 155.8,320.6 154.8,320.8 153.8,321.0 152.8,321.2 151.8,321.5 150.8,321.9 149.8,322.4 148.8,323.0 147.8,323.9 146.8,324.9 145.8,326.1 145.0,327.1 144.4,328.1 143.9,329.1 143.4,330.1 143.0,331.1 142.5,332.1 142.1,333.1 141.7,334.1 141.3,335.1 140.8,336.2 140.4,337.2 140.0,338.2 139.7,339.2 139.4,340.2 139.0,341.2 138.7,342.2 138.3,343.2 137.8,344.1 136.8,344.1 136.2,343.0 135.8,341.7 135.5,340.7 135.2,339.7 134.9,338.7 134.6,337.7 134.3,336.7 133.8,335.7 133.3,334.6 132.8,333.6 132.3,332.6 131.8,331.7 131.0,330.6 130.3,329.6 129.5,328.6 128.8,327.7 127.8,326.7 126.8,325.9 125.8,325.1 124.8,324.5 123.9,324.0 123.0,323.5 122.0,323.0 120.9,322.5 119.8,322.0 118.8,321.6 117.8,321.2 116.8,320.8 115.8,320.4 114.8,319.9 113.8,319.3 112.8,318.8 111.8,318.3 110.8,318.0 109.8,317.6 108.8,317.3 107.8,316.8 107.0,316.5 M164.0,316.5 162.8,316.7 161.8,316.8 160.8,317.0 159.8,317.1 158.8,317.2 157.8,317.3 156.8,317.4 155.8,317.5 154.8,317.7 153.8,317.8 152.8,318.0 151.8,318.2 150.8,318.4 149.8,318.7 148.8,319.0 147.8,319.5 146.8,320.0 145.8,320.7 144.9,321.5 144.2,322.3 143.6,323.5 143.1,324.5 142.7,325.5 142.2,326.5 141.8,327.6 141.3,328.6 140.9,329.6 140.4,330.6 140.0,331.6 139.6,332.6 139.3,333.6 139.0,334.6 138.6,335.7 138.3,336.7 137.8,337.7 136.8,337.6 136.3,336.7 136.0,335.7 135.7,334.6 135.5,333.6 135.2,332.6 135.0,331.6 134.7,330.6 134.4,329.6 134.0,328.6 133.5,327.6 133.0,326.6 132.3,325.5 131.5,324.5 130.3,323.5 129.2,322.8 128.2,322.2 127.3,321.5 126.2,320.6 125.4,320.0 124.6,319.5 123.2,319.0 122.2,318.8 121.2,318.6 120.2,318.4 119.2,318.3 118.2,318.1 117.2,317.9 116.2,317.7 115.2,317.5 114.2,317.1 113.2,316.6 113.0,316.5 M147.9,316.5 146.8,316.8 145.8,317.2 144.8,317.7 143.9,318.5 143.2,319.3 142.6,320.5 142.1,321.5 141.6,322.5 141.1,323.5 140.6,324.5 140.1,325.5 139.6,326.6 139.1,327.6 138.6,328.6 138.1,329.6 137.2,330.4 136.6,329.6 136.2,328.6 135.8,327.6 135.5,326.6 135.1,325.5 134.8,324.5 134.5,323.5 134.1,322.5 133.4,321.5 132.5,320.5 131.8,319.6 131.0,318.5 130.3,317.5 129.2,316.7 128.8,316.5 M142.9,316.5 142.1,317.5 141.5,318.5 140.9,319.5 140.4,320.5 139.9,321.5 139.5,322.5 139.0,323.5 138.4,324.5 137.2,325.4 136.4,324.5 135.9,323.5 135.6,322.5 135.3,321.5 134.9,320.5 134.5,319.5 134.1,318.5 133.5,317.5 132.8,316.5 M140.4,316.5 140.0,317.5 139.6,318.5 139.2,319.5 138.8,320.4 138.2,321.4 137.2,322.3 136.6,321.5 136.1,320.5 135.8,319.5 135.4,318.5 135.1,317.5 134.8,316.5 M139.0,316.5 138.6,317.5 137.9,318.5 136.8,318.6 136.2,317.7 135.8,316.5" stroke="#1c1c1c" stroke-width="0.75" fill="none" opacity="0.9"/>
<path d="M42.00 416.90L42.25 413.81M42.00 409.69L42.25 406.60M42.00 402.47L42.25 399.38M42.00 395.26L42.25 392.17M42.00 388.04L42.25 384.95M42.00 380.83L42.25 377.74M42.00 373.61L42.25 370.52M42.00 366.40L42.25 363.31M42.00 359.19L42.25 356.10M42.00 351.97L42.25 348.88M42.00 344.76L42.25 341.67M42.00 337.54L42.25 334.45M42.00 330.33L42.25 327.24M42.00 323.11L42.25 320.02M51.07 416.90L51.43 413.82M51.07 409.69L51.44 406.61M51.07 402.47L51.45 399.39M51.07 395.26L51.46 392.18M51.07 388.04L51.47 384.97M51.07 380.83L51.47 377.75M51.07 373.61L51.48 370.54M51.07 366.40L51.49 363.33M51.07 359.19L51.50 356.12M51.07 351.97L51.51 348.90M51.07 344.76L51.52 341.69M51.07 337.54L51.52 334.48M51.07 330.33L51.53 327.26M51.07 323.11L51.54 320.05M60.14 416.90L60.62 413.84M60.14 409.69L60.64 406.63M60.14 402.47L60.65 399.41M60.14 395.26L60.67 392.20M60.14 388.04L60.68 384.99M60.14 380.83L60.70 377.78M60.14 373.61L60.72 370.57M60.14 366.40L60.73 363.36M60.14 359.19L60.75 356.15M60.14 351.97L60.76 348.93M60.14 344.76L60.78 341.72M60.14 337.54L60.80 334.51M60.14 330.33L60.81 327.30M60.14 323.11L60.83 320.09M69.21 416.90L69.80 413.86M69.21 409.69L69.83 406.65M69.21 402.47L69.85 399.44M69.21 395.26L69.88 392.23M69.21 388.04L69.90 385.02M69.21 380.83L69.92 377.81M69.21 373.61L69.95 370.60M69.21 366.40L69.97 363.39M69.21 359.19L70.00 356.19M69.21 351.97L70.02 348.98M69.21 344.76L70.04 341.77M69.21 337.54L70.07 334.56M69.21 330.33L70.09 327.36M69.21 323.11L70.12 320.15M78.29 416.90L78.99 413.88M78.29 409.69L79.02 406.67M78.29 402.47L79.05 399.47M78.29 395.26L79.08 392.26M78.29 388.04L79.12 385.06M78.29 380.83L79.15 377.85M78.29 373.61L79.18 370.65M78.29 366.40L79.21 363.44M78.29 359.19L79.24 356.24M78.29 351.97L79.27 349.03M78.29 344.76L79.30 341.83M78.29 337.54L79.34 334.63M78.29 330.33L79.37 327.42M78.29 323.11L79.40 320.22M87.36 416.90L88.17 413.91M87.36 409.69L88.21 406.71M87.36 402.47L88.25 399.50M87.36 395.26L88.29 392.30M87.36 388.04L88.33 385.10M87.36 380.83L88.37 377.90M87.36 373.61L88.41 370.70M87.36 366.40L88.45 363.50M87.36 359.19L88.48 356.30M87.36 351.97L88.52 349.10M87.36 344.76L88.56 341.90M87.36 337.54L88.60 334.70M87.36 330.33L88.64 327.50M87.36 323.11L88.67 320.31M96.43 416.90L97.35 413.94M96.43 409.69L97.40 406.74M96.43 402.47L97.45 399.54M96.43 395.26L97.49 392.35M96.43 388.04L97.54 385.15M96.43 380.83L97.59 377.95M96.43 373.61L97.63 370.76M96.43 366.40L97.68 363.56M96.43 359.19L97.72 356.37M96.43 351.97L97.77 349.17M96.43 344.76L97.81 341.98M96.43 337.54L97.85 334.79M96.43 330.33L97.90 327.60M96.43 323.11L97.94 320.41M105.50 416.90L106.53 413.98M105.50 409.69L106.59 406.78M105.50 402.47L106.64 399.59M105.50 395.26L106.69 392.40M105.50 388.04L106.75 385.21M105.50 380.83L106.80 378.01M105.50 373.61L106.85 370.82M105.50 366.40L106.90 363.64M105.50 359.19L106.96 356.45M105.50 351.97L107.01 349.26M105.50 344.76L107.06 342.08M105.50 337.54L107.11 334.89M105.50 330.33L107.15 327.71M105.50 323.11L107.20 320.52M114.57 416.90L115.71 414.02M114.57 409.69L115.77 406.83M114.57 402.47L115.83 399.64M114.57 395.26L115.89 392.45M114.57 388.04L115.95 385.27M114.57 380.83L116.01 378.08M114.57 373.61L116.07 370.90M114.57 366.40L116.13 363.72M114.57 359.19L116.18 356.54M114.57 351.97L116.24 349.36M114.57 344.76L116.29 342.18M114.57 337.54L116.35 335.00M114.57 330.33L116.40 327.83M114.57 323.11L116.46 320.65M123.64 416.90L124.89 414.06M123.64 409.69L124.96 406.88M123.64 402.47L125.02 399.70M123.64 395.26L125.09 392.52M123.64 388.04L125.16 385.34M123.64 380.83L125.22 378.16M123.64 373.61L125.28 370.98M123.64 366.40L125.35 363.81M123.64 359.19L125.41 356.64M123.64 351.97L125.47 349.47M123.64 344.76L125.53 342.30M123.64 337.54L125.58 335.13M123.64 330.33L125.64 327.96M123.64 323.11L125.70 320.79M132.71 416.90L134.07 414.11M132.71 409.69L134.14 406.93M132.71 402.47L134.21 399.76M132.71 395.26L134.28 392.58M132.71 388.04L134.35 385.41M132.71 380.83L134.42 378.24M132.71 373.61L134.49 371.07M132.71 366.40L134.56 363.91M132.71 359.19L134.62 356.74M132.71 351.97L134.69 349.58M132.71 344.76L134.75 342.42M132.71 337.54L134.81 335.26M132.71 330.33L134.87 328.10M132.71 323.11L134.93 320.95M141.79 416.90L143.59 414.38M141.79 409.69L143.61 407.18M141.79 402.47L143.64 399.99M141.79 395.26L143.67 392.79M141.79 388.04L143.69 385.60M141.79 380.83L143.72 378.41M141.79 373.61L143.75 371.21M141.79 366.40L143.77 364.02M141.79 359.19L143.80 356.83M141.79 351.97L143.82 349.63M141.79 344.76L143.85 342.44M141.79 337.54L143.87 335.25M141.79 330.33L143.90 328.06M141.79 323.11L143.92 320.87M150.86 416.90L152.66 414.38M150.86 409.69L152.69 407.18M150.86 402.47L152.71 399.99M150.86 395.26L152.74 392.79M150.86 388.04L152.76 385.60M150.86 380.83L152.79 378.41M150.86 373.61L152.82 371.21M150.86 366.40L152.84 364.02M150.86 359.19L152.87 356.83M150.86 351.97L152.89 349.63M150.86 344.76L152.92 342.44M150.86 337.54L152.94 335.25M150.86 330.33L152.97 328.06M150.86 323.11L152.99 320.87M159.93 416.90L161.73 414.38M159.93 409.69L161.76 407.18M159.93 402.47L161.78 399.99M159.93 395.26L161.81 392.79M159.93 388.04L161.84 385.60M159.93 380.83L161.86 378.41M159.93 373.61L161.89 371.21M159.93 366.40L161.91 364.02M159.93 359.19L161.94 356.83M159.93 351.97L161.96 349.63M159.93 344.76L161.99 342.44M159.93 337.54L162.01 335.25M159.93 330.33L162.04 328.06M159.93 323.11L162.06 320.87M169.00 416.90L170.80 414.38M169.00 409.69L170.83 407.18M169.00 402.47L170.85 399.99M169.00 395.26L170.88 392.79M169.00 388.04L170.91 385.60M169.00 380.83L170.93 378.41M169.00 373.61L170.96 371.21M169.00 366.40L170.99 364.02M169.00 359.19L171.01 356.83M169.00 351.97L171.04 349.63M169.00 344.76L171.06 342.44M169.00 337.54L171.09 335.25M169.00 330.33L171.11 328.06M169.00 323.11L171.13 320.87" stroke="#111" stroke-width="0.95" fill="none"/><path d="M42.39 412.02L42.95 413.87L41.55 413.75ZM42.39 404.80L42.95 406.65L41.55 406.54ZM42.39 397.59L42.95 399.44L41.55 399.33ZM42.39 390.37L42.95 392.22L41.55 392.11ZM42.39 383.16L42.95 385.01L41.55 384.90ZM42.39 375.94L42.95 377.79L41.55 377.68ZM42.39 368.73L42.95 370.58L41.55 370.47ZM42.39 361.52L42.95 363.37L41.55 363.25ZM42.39 354.30L42.95 356.15L41.55 356.04ZM42.39 347.09L42.95 348.94L41.55 348.83ZM42.39 339.87L42.95 341.72L41.55 341.61ZM42.39 332.66L42.95 334.51L41.55 334.40ZM42.39 325.44L42.95 327.29L41.55 327.18ZM42.39 318.23L42.95 320.08L41.55 319.97ZM51.64 412.03L52.13 413.90L50.74 413.74ZM51.66 404.82L52.14 406.69L50.75 406.52ZM51.67 397.61L52.14 399.48L50.76 399.31ZM51.68 390.40L52.15 392.27L50.76 392.09ZM51.70 383.18L52.16 385.06L50.77 384.88ZM51.71 375.97L52.17 377.85L50.78 377.66ZM51.72 368.76L52.18 370.63L50.79 370.45ZM51.73 361.55L52.18 363.42L50.80 363.23ZM51.75 354.33L52.19 356.21L50.81 356.02ZM51.76 347.12L52.20 349.00L50.81 348.80ZM51.77 339.91L52.21 341.79L50.82 341.59ZM51.79 332.70L52.22 334.58L50.83 334.37ZM51.80 325.48L52.22 327.37L50.84 327.16ZM51.81 318.27L52.23 320.16L50.85 319.94ZM60.90 412.06L61.31 413.94L59.93 413.73ZM60.92 404.85L61.33 406.74L59.94 406.51ZM60.95 397.64L61.34 399.53L59.96 399.30ZM60.97 390.43L61.36 392.32L59.98 392.08ZM61.00 383.22L61.37 385.11L59.99 384.87ZM61.02 376.01L61.39 377.90L60.01 377.65ZM61.05 368.80L61.40 370.70L60.03 370.44ZM61.08 361.59L61.42 363.49L60.05 363.22ZM61.10 354.38L61.44 356.28L60.06 356.01ZM61.13 347.17L61.45 349.07L60.08 348.79ZM61.15 339.96L61.47 341.87L60.10 341.58ZM61.18 332.75L61.48 334.66L60.11 334.36ZM61.20 325.54L61.50 327.45L60.13 327.15ZM61.23 318.34L61.51 320.25L60.15 319.94ZM70.15 412.09L70.49 413.99L69.12 413.72ZM70.18 404.88L70.51 406.79L69.14 406.51ZM70.22 397.68L70.54 399.58L69.17 399.29ZM70.26 390.47L70.56 392.38L69.19 392.08ZM70.30 383.26L70.58 385.17L69.22 384.86ZM70.34 376.06L70.61 377.97L69.24 377.65ZM70.38 368.85L70.63 370.77L69.27 370.44ZM70.41 361.65L70.65 363.57L69.29 363.22ZM70.45 354.44L70.67 356.36L69.32 356.01ZM70.49 347.24L70.70 349.16L69.34 348.80ZM70.53 340.04L70.72 341.96L69.37 341.58ZM70.56 332.83L70.74 334.76L69.40 334.37ZM70.60 325.63L70.76 327.55L69.42 327.16ZM70.64 318.43L70.79 320.35L69.45 319.94ZM79.40 412.13L79.67 414.04L78.31 413.72ZM79.45 404.93L79.70 406.84L78.34 406.51ZM79.50 397.72L79.73 399.64L78.37 399.29ZM79.55 390.52L79.76 392.44L78.41 392.08ZM79.60 383.32L79.79 385.24L78.44 384.87ZM79.65 376.12L79.82 378.05L78.47 377.66ZM79.70 368.92L79.85 370.85L78.51 370.44ZM79.75 361.72L79.88 363.65L78.54 363.23ZM79.80 354.52L79.91 356.45L78.58 356.02ZM79.85 347.33L79.94 349.26L78.61 348.81ZM79.90 340.13L79.97 342.06L78.64 341.60ZM79.94 332.93L79.99 334.86L78.68 334.39ZM79.99 325.74L80.02 327.67L78.71 327.18ZM80.04 318.54L80.05 320.47L78.74 319.97ZM88.64 412.17L88.85 414.09L87.50 413.72ZM88.71 404.98L88.88 406.90L87.54 406.51ZM88.77 397.78L88.92 399.70L87.58 399.30ZM88.83 390.58L88.96 392.51L87.62 392.09ZM88.89 383.39L88.99 385.32L87.66 384.88ZM88.95 376.20L89.03 378.13L87.71 377.67ZM89.02 369.00L89.07 370.93L87.75 370.46ZM89.08 361.81L89.10 363.74L87.79 363.25ZM89.14 354.62L89.14 356.55L87.83 356.04ZM89.20 347.43L89.17 349.36L87.87 348.84ZM89.26 340.24L89.20 342.17L87.91 341.63ZM89.32 333.05L89.24 334.98L87.96 334.42ZM89.38 325.86L89.27 327.79L88.00 327.22ZM89.44 318.68L89.31 320.60L88.04 320.01ZM97.89 412.22L98.02 414.15L96.69 413.73ZM97.96 405.03L98.06 406.96L96.74 406.52ZM98.04 397.84L98.11 399.77L96.79 399.31ZM98.11 390.66L98.15 392.59L96.84 392.11ZM98.18 383.47L98.19 385.40L96.89 384.90ZM98.26 376.28L98.23 378.21L96.94 377.69ZM98.33 369.10L98.28 371.03L96.99 370.49ZM98.40 361.91L98.32 363.84L97.04 363.28ZM98.47 354.73L98.36 356.66L97.09 356.08ZM98.54 347.55L98.40 349.48L97.13 348.87ZM98.61 340.37L98.44 342.29L97.18 341.67ZM98.68 333.19L98.48 335.11L97.23 334.47ZM98.75 326.01L98.51 327.93L97.28 327.27ZM98.82 318.84L98.55 320.75L97.33 320.07ZM107.13 412.28L107.19 414.21L105.87 413.74ZM107.22 405.10L107.24 407.03L105.93 406.54ZM107.30 397.92L107.29 399.85L105.99 399.33ZM107.39 390.74L107.34 392.67L106.05 392.13ZM107.47 383.56L107.39 385.49L106.11 384.92ZM107.56 376.38L107.44 378.31L106.16 377.72ZM107.64 369.21L107.48 371.13L106.22 370.52ZM107.72 362.03L107.53 363.95L106.28 363.32ZM107.80 354.86L107.57 356.78L106.34 356.12ZM107.88 347.69L107.62 349.60L106.39 348.92ZM107.96 340.52L107.66 342.43L106.45 341.72ZM108.04 333.35L107.70 335.25L106.51 334.53ZM108.11 326.18L107.75 328.08L106.56 327.33ZM108.19 319.02L107.79 320.91L106.62 320.14ZM116.38 412.34L116.36 414.28L115.06 413.76ZM116.47 405.17L116.42 407.10L115.13 406.56ZM116.57 398.00L116.47 399.93L115.20 399.36ZM116.66 390.83L116.53 392.75L115.26 392.15ZM116.76 383.66L116.58 385.58L115.33 384.96ZM116.85 376.49L116.63 378.41L115.39 377.76ZM116.94 369.32L116.68 371.24L115.46 370.56ZM117.03 362.16L116.73 364.07L115.52 363.37ZM117.12 355.00L116.78 356.90L115.59 356.17ZM117.21 347.84L116.83 349.74L115.65 348.98ZM117.30 340.68L116.88 342.57L115.71 341.79ZM117.38 333.53L116.92 335.40L115.78 334.60ZM117.47 326.37L116.97 328.24L115.84 327.41ZM117.55 319.22L117.01 321.08L115.90 320.23ZM125.62 412.41L125.53 414.34L124.25 413.78ZM125.72 405.25L125.59 407.18L124.32 406.58ZM125.83 398.09L125.65 400.01L124.40 399.38ZM125.93 390.92L125.71 392.84L124.47 392.19ZM126.03 383.77L125.77 385.68L124.54 385.00ZM126.14 376.61L125.82 378.52L124.62 377.80ZM126.24 369.46L125.88 371.35L124.69 370.61ZM126.33 362.31L125.93 364.19L124.76 363.42ZM126.43 355.16L125.98 357.03L124.83 356.24ZM126.53 348.01L126.03 349.88L124.90 349.05ZM126.62 340.87L126.08 342.72L124.97 341.87ZM126.71 333.72L126.13 335.56L125.04 334.69ZM126.80 326.58L126.18 328.41L125.11 327.51ZM126.89 319.45L126.22 321.26L125.17 320.33ZM134.85 412.49L134.70 414.42L133.44 413.81ZM134.97 405.33L134.76 407.26L133.52 406.61ZM135.08 398.18L134.83 400.10L133.60 399.42ZM135.20 391.03L134.89 392.94L133.68 392.23ZM135.31 383.88L134.95 385.78L133.76 385.04ZM135.42 376.74L135.01 378.63L133.84 377.86ZM135.52 369.60L135.07 371.48L133.92 370.67ZM135.63 362.46L135.12 364.32L134.00 363.49ZM135.73 355.33L135.18 357.17L134.07 356.31ZM135.83 348.19L135.23 350.03L134.15 349.14ZM135.93 341.06L135.28 342.88L134.22 341.96ZM136.03 333.94L135.33 335.73L134.30 334.79ZM136.12 326.81L135.37 328.59L134.37 327.62ZM136.22 319.69L135.42 321.45L134.44 320.45ZM144.63 412.91L144.16 414.78L143.02 413.97ZM144.68 405.73L144.18 407.59L143.05 406.77ZM144.72 398.55L144.20 400.41L143.08 399.57ZM144.76 391.36L144.22 393.22L143.11 392.37ZM144.80 384.18L144.25 386.03L143.14 385.17ZM144.84 377.00L144.27 378.84L143.17 377.97ZM144.88 369.82L144.29 371.65L143.20 370.77ZM144.92 362.64L144.31 364.47L143.23 363.57ZM144.96 355.46L144.33 357.28L143.26 356.37ZM145.00 348.28L144.35 350.09L143.29 349.17ZM145.04 341.10L144.37 342.91L143.32 341.98ZM145.08 333.92L144.39 335.72L143.35 334.78ZM145.12 326.74L144.41 328.53L143.38 327.58ZM145.16 319.56L144.43 321.35L143.41 320.38ZM153.70 412.91L153.23 414.78L152.09 413.97ZM153.75 405.73L153.25 407.59L152.12 406.77ZM153.79 398.55L153.27 400.41L152.15 399.57ZM153.83 391.36L153.29 393.22L152.18 392.37ZM153.87 384.18L153.32 386.03L152.21 385.17ZM153.91 377.00L153.34 378.84L152.24 377.97ZM153.95 369.82L153.36 371.65L152.27 370.77ZM154.00 362.64L153.38 364.47L152.30 363.57ZM154.04 355.46L153.40 357.28L152.33 356.37ZM154.07 348.28L153.42 350.09L152.36 349.17ZM154.11 341.10L153.44 342.91L152.39 341.98ZM154.15 333.92L153.46 335.72L152.42 334.78ZM154.19 326.74L153.48 328.53L152.45 327.58ZM154.23 319.56L153.50 321.35L152.48 320.38ZM162.78 412.91L162.30 414.78L161.16 413.97ZM162.82 405.73L162.32 407.59L161.19 406.77ZM162.86 398.55L162.34 400.41L161.22 399.57ZM162.90 391.36L162.37 393.22L161.25 392.37ZM162.94 384.18L162.39 386.03L161.28 385.17ZM162.99 377.00L162.41 378.84L161.32 377.97ZM163.03 369.82L162.43 371.65L161.35 370.77ZM163.07 362.64L162.45 364.47L161.38 363.57ZM163.11 355.46L162.47 357.28L161.41 356.37ZM163.15 348.28L162.49 350.09L161.44 349.17ZM163.19 341.10L162.51 342.91L161.47 341.98ZM163.22 333.92L162.53 335.72L161.50 334.78ZM163.26 326.74L162.55 328.53L161.53 327.58ZM163.30 319.56L162.57 321.35L161.55 320.38ZM171.85 412.91L171.37 414.78L170.23 413.97ZM171.89 405.73L171.39 407.59L170.26 406.77ZM171.93 398.55L171.42 400.41L170.29 399.57ZM171.97 391.36L171.44 393.22L170.33 392.37ZM172.02 384.18L171.46 386.03L170.36 385.17ZM172.06 377.00L171.48 378.84L170.39 377.97ZM172.10 369.82L171.50 371.65L170.42 370.77ZM172.14 362.64L171.52 364.47L170.45 363.57ZM172.18 355.46L171.54 357.28L170.48 356.37ZM172.22 348.28L171.56 350.09L170.51 349.17ZM172.26 341.10L171.58 342.91L170.54 341.98ZM172.30 333.92L171.60 335.72L170.57 334.78ZM172.33 326.74L171.62 328.53L170.60 327.58ZM172.37 319.56L171.64 321.35L170.63 320.38Z" fill="#111" stroke="#111" stroke-width="0.3"/>
<text x="39.60" y="421.85" font-size="10.50" text-anchor="end" fill="#2a2a2a"  >0</text>
<text x="39.60" y="401.02" font-size="10.50" text-anchor="end" fill="#2a2a2a"  >0.5</text>
<text x="39.60" y="380.20" font-size="10.50" text-anchor="end" fill="#2a2a2a"  >1</text>
<text x="39.60" y="359.37" font-size="10.50" text-anchor="end" fill="#2a2a2a"  >1.5</text>
<text x="39.60" y="338.54" font-size="10.50" text-anchor="end" fill="#2a2a2a"  >2</text>
<text x="42.00" y="431.15" font-size="10.50" text-anchor="middle" fill="#2a2a2a"  >0</text>
<text x="67.40" y="431.15" font-size="10.50" text-anchor="middle" fill="#2a2a2a"  >10</text>
<text x="92.80" y="431.15" font-size="10.50" text-anchor="middle" fill="#2a2a2a"  >20</text>
<text x="118.20" y="431.15" font-size="10.50" text-anchor="middle" fill="#2a2a2a"  >30</text>
<text x="143.60" y="431.15" font-size="10.50" text-anchor="middle" fill="#2a2a2a"  >40</text>
<text x="169.00" y="431.15" font-size="10.50" text-anchor="middle" fill="#2a2a2a"  >50</text>
<text x="45.00" y="312.40" font-size="12.40" text-anchor="start" fill="#2a2a2a"  >(e) 80 MHz</text>
<text x="105.30" y="444.55" font-size="12.00" text-anchor="middle" fill="#2a2a2a"  ><tspan font-style="italic">r</tspan> (cm)</text>
<text transform="translate(22.2 367.72) rotate(-90)" font-size="12" text-anchor="middle" fill="#2a2a2a"><tspan font-style="italic">z</tspan> (cm)</text>
<text transform="translate(7.9 366.92) rotate(-90)" font-size="11.8" text-anchor="middle" fill="#2a2a2a"><tspan font-weight="bold">E</tspan> (V/cm)</text>
<path d="M111.8,570.0 111.7,569.0 111.6,568.0 111.5,567.0 111.4,566.0 111.3,565.0 111.2,564.0 111.1,563.0 111.0,562.0 110.9,561.0 110.8,559.9 110.6,558.9 110.5,557.9 110.3,556.9 110.1,555.9 109.8,554.9 109.4,553.9 108.8,552.9 107.8,553.9 107.5,554.9 107.2,555.9 107.0,556.9 106.9,557.9 106.7,558.9 106.6,559.9 106.5,561.0 106.4,562.0 106.3,563.0 106.2,564.0 106.1,565.0 106.0,566.0 105.9,567.0 105.9,568.0 105.8,569.0 105.7,570.0 M92.0,570.0 91.9,569.0 91.8,568.0 91.7,567.0 91.6,566.0 91.4,565.0 91.2,564.0 91.0,563.0 90.8,562.0 90.5,561.0 90.3,559.9 90.0,558.9 89.7,557.9 89.4,556.9 89.1,555.9 88.8,554.9 88.4,553.9 88.1,552.9 87.8,551.9 87.4,550.9 87.0,549.8 86.7,548.8 86.3,547.8 85.8,546.8 85.3,545.8 84.8,545.0 83.9,543.8 83.2,543.0 82.2,541.8 81.4,540.8 80.5,539.8 79.8,538.7 79.1,537.7 78.4,536.7 77.8,535.7 77.1,534.7 76.5,533.7 75.9,532.7 75.1,531.7 74.2,530.7 73.2,529.7 72.2,528.7 71.2,527.8 70.2,526.9 69.4,526.1 68.2,525.2 67.2,524.4 66.2,523.6 65.2,522.9 64.2,522.2 63.4,521.6 62.2,520.9 61.2,520.4 60.2,519.9 59.2,519.4 58.2,519.0 57.3,518.5 56.2,518.1 55.2,517.6 54.2,517.2 53.2,516.9 52.2,516.5 51.2,516.1 50.2,515.8 49.2,515.5 48.2,515.2 47.2,514.9 46.2,514.7 45.2,514.4 44.2,514.2 43.2,514.0 42.2,513.8 M162.3,570.0 162.3,569.0 162.3,568.0 162.3,567.0 162.3,566.0 162.3,565.0 162.2,564.0 162.2,563.0 162.2,562.0 162.2,561.0 162.1,559.9 162.1,558.9 162.0,557.9 162.0,556.9 161.9,555.9 161.9,554.9 161.8,553.9 161.8,552.9 161.7,551.9 161.7,550.9 161.6,549.8 161.5,548.8 161.5,547.8 161.4,546.8 161.3,545.8 161.2,544.8 161.2,543.8 161.1,542.8 161.0,541.8 160.9,540.8 160.8,539.8 160.7,538.7 160.6,537.7 160.5,536.7 160.4,535.7 160.3,534.7 160.1,533.7 160.0,532.7 159.8,531.7 159.6,530.7 159.3,529.7 158.2,528.9 157.2,528.9 156.2,528.9 155.2,528.9 154.2,528.9 153.2,528.9 152.2,528.9 151.2,528.9 150.2,528.9 149.2,528.9 148.2,528.9 147.2,528.9 146.2,528.9 145.2,528.9 144.2,528.9 143.2,528.9 142.2,528.9 141.2,529.0 140.2,529.2 139.2,529.3 138.2,529.6 137.2,529.8 136.2,530.1 135.2,530.5 134.2,530.9 133.2,531.3 132.2,531.8 131.2,532.3 130.2,532.8 129.2,533.4 128.2,534.0 127.2,534.6 126.3,535.2 125.2,535.9 124.2,536.5 123.2,537.2 122.2,537.9 121.2,538.7 120.2,539.6 119.5,540.3 118.4,541.3 117.4,542.3 116.3,543.3 115.2,544.2 114.2,544.6 113.2,544.7 112.2,544.4 111.3,543.8 110.8,542.8 110.3,541.8 109.8,540.8 108.8,539.9 107.8,540.3 107.1,541.3 106.6,542.3 106.2,543.3 105.9,544.3 105.6,545.3 105.2,546.3 104.9,547.3 104.7,548.3 104.5,549.3 104.3,550.4 104.1,551.4 104.0,552.4 103.8,553.4 103.7,554.4 103.6,555.4 103.5,556.4 103.4,557.4 103.4,558.4 103.3,559.4 103.3,560.5 103.2,561.5 103.1,562.5 103.1,563.5 103.0,564.5 103.0,565.5 103.0,566.5 102.9,567.5 102.9,568.5 102.9,569.5 102.8,570.0 M168.8,516.0 168.3,514.5 167.9,513.5 167.5,512.5 167.0,511.5 166.4,510.5 165.8,509.5 165.0,508.4 164.3,507.4 163.6,506.4 162.9,505.4 161.9,504.4 160.8,503.4 159.8,502.9 158.8,502.6 157.8,502.5 156.8,502.4 155.8,502.2 154.8,502.1 153.8,502.0 152.8,502.0 151.8,501.9 150.8,501.8 149.8,501.8 148.8,501.7 147.8,501.7 146.8,501.7 145.8,501.6 144.8,501.6 143.8,501.6 142.8,501.6 141.8,501.6 140.8,501.7 139.8,501.7 138.8,501.8 137.8,501.8 136.8,501.9 135.8,502.0 134.8,502.1 133.8,502.3 132.8,502.4 131.8,502.6 130.8,502.8 129.8,503.0 128.8,503.2 127.8,503.4 126.8,503.6 125.8,503.9 124.8,504.2 123.8,504.5 122.8,504.9 121.8,505.6 120.8,506.4 119.8,507.4 118.8,508.4 117.9,509.5 117.2,510.3 116.4,511.5 115.8,512.4 115.2,513.3 114.8,514.5 114.4,515.5 114.0,516.5 113.7,517.5 113.3,518.5 112.9,519.6 112.4,520.6 111.9,521.6 111.4,522.6 110.9,523.6 110.3,524.6 109.4,525.6 108.2,525.9 107.5,525.1 106.9,524.1 106.5,523.1 106.0,522.1 105.4,521.1 104.8,520.1 104.1,519.0 103.6,518.0 103.1,517.0 102.6,516.0 101.9,515.0 100.8,514.3 99.8,513.9 98.8,513.6 97.8,513.4 96.8,513.2 95.8,512.9 94.8,512.6 93.8,512.3 92.8,511.9 91.8,511.5 90.8,511.1 89.8,510.7 88.8,510.2 87.8,509.7 86.8,509.2 85.8,508.6 84.8,508.0 83.9,507.4 82.8,506.7 81.8,506.1 80.8,505.5 79.9,504.9 78.8,504.2 77.8,503.6 76.8,503.0 75.8,502.5 74.8,502.1 73.8,501.7 72.8,501.4 71.8,501.0 70.8,500.7 69.8,500.4 68.8,500.2 67.8,499.9 66.8,499.6 65.8,499.4 64.8,499.1 63.8,498.9 62.8,498.7 61.8,498.5 60.8,498.4 59.8,498.2 58.8,498.1 57.8,497.9 56.8,497.8 55.8,497.6 54.8,497.5 53.8,497.4 52.8,497.3 51.8,497.2 50.8,497.1 49.8,497.0 48.8,496.9 47.8,496.8 46.8,496.7 45.8,496.7 44.8,496.6 43.8,496.6 42.8,496.6 42.2,496.6 M168.8,481.1 167.8,481.8 166.8,482.5 165.8,483.0 164.8,483.3 163.8,483.4 162.8,483.6 161.8,483.7 160.8,483.8 159.8,483.9 158.8,483.9 157.8,484.0 156.8,484.0 155.8,484.1 154.8,484.1 153.8,484.1 152.8,484.2 151.8,484.2 150.8,484.2 149.8,484.3 148.8,484.3 147.8,484.3 146.8,484.4 145.8,484.4 144.8,484.5 143.8,484.5 142.8,484.6 141.8,484.7 140.8,484.8 139.8,484.9 138.8,485.0 137.8,485.1 136.8,485.2 135.8,485.4 134.8,485.5 133.8,485.7 132.8,485.8 131.8,486.0 130.8,486.2 129.8,486.4 128.8,486.6 127.8,486.8 126.8,487.0 125.8,487.2 124.8,487.5 123.8,487.7 122.8,488.0 121.8,488.6 120.9,489.3 120.0,490.3 119.3,491.3 118.7,492.3 118.1,493.3 117.7,494.3 117.2,495.3 116.8,496.3 116.3,497.3 115.8,498.3 115.3,499.4 114.8,500.4 114.3,501.4 113.9,502.4 113.5,503.4 113.1,504.4 112.8,505.4 112.5,506.4 112.2,507.4 111.9,508.4 111.6,509.5 111.3,510.5 111.0,511.5 110.6,512.5 110.2,513.5 109.8,514.5 108.9,515.5 107.8,515.1 107.1,514.0 106.7,513.0 106.3,512.0 105.9,511.0 105.5,510.0 105.1,508.9 104.8,507.9 104.5,506.9 104.3,505.9 104.0,504.9 103.8,503.9 103.6,502.9 103.4,501.9 103.2,500.9 102.9,499.9 102.7,498.8 102.5,497.8 102.2,496.8 101.8,495.8 100.8,495.3 99.8,495.0 98.8,494.7 97.8,494.5 96.8,494.3 95.8,494.1 94.8,493.9 93.8,493.6 92.8,493.3 91.8,493.1 90.8,492.8 89.8,492.5 88.8,492.3 87.8,492.0 86.8,491.7 85.8,491.5 84.8,491.2 83.8,490.9 82.8,490.6 81.8,490.3 80.8,490.1 79.8,489.8 78.8,489.6 77.8,489.3 76.8,489.1 75.8,488.9 74.8,488.8 73.8,488.6 72.8,488.4 71.8,488.3 70.8,488.1 69.8,487.9 68.8,487.8 67.8,487.7 66.8,487.5 65.8,487.4 64.8,487.3 63.8,487.2 62.8,487.1 61.8,487.0 60.8,486.9 59.8,486.8 58.8,486.7 57.8,486.6 56.8,486.5 55.8,486.4 54.8,486.3 53.8,486.2 52.8,486.1 51.8,486.1 50.8,486.0 49.8,485.9 48.8,485.9 47.8,485.8 46.8,485.7 45.8,485.7 44.8,485.6 43.8,485.6 42.8,485.5 42.2,485.5 M168.8,475.5 167.8,475.9 166.8,476.2 165.8,476.4 164.8,476.6 163.8,476.7 162.8,476.9 161.8,477.0 160.8,477.1 159.8,477.1 158.8,477.2 157.8,477.2 156.8,477.3 155.8,477.3 154.8,477.4 153.8,477.4 152.8,477.4 151.8,477.4 150.8,477.5 149.8,477.5 148.8,477.5 147.8,477.5 146.8,477.6 145.8,477.6 144.8,477.6 143.8,477.7 142.8,477.7 141.8,477.8 140.8,477.8 139.8,477.9 138.8,477.9 137.8,478.0 136.8,478.0 135.8,478.1 134.8,478.2 133.8,478.3 132.8,478.4 131.8,478.5 130.8,478.6 129.8,478.8 128.8,478.9 127.8,479.1 126.8,479.2 125.8,479.4 124.8,479.6 123.8,479.8 122.8,480.1 121.8,480.4 120.8,480.8 119.8,481.3 118.8,482.0 118.0,482.7 117.2,483.5 116.4,484.7 115.8,485.7 115.3,486.7 114.9,487.7 114.5,488.8 114.1,489.8 113.8,490.8 113.4,491.8 113.1,492.8 112.8,493.8 112.4,494.8 112.1,495.8 111.8,496.8 111.5,497.8 111.2,498.8 111.0,499.9 110.8,500.9 110.6,501.9 110.4,502.9 110.1,503.9 109.9,504.9 109.6,505.9 109.1,506.9 107.9,506.9 107.4,505.9 107.0,504.9 106.7,503.9 106.4,502.9 106.1,501.9 105.8,500.9 105.4,499.9 105.2,498.8 104.9,497.8 104.7,496.8 104.5,495.8 104.3,494.8 104.1,493.8 103.9,492.8 103.8,491.8 103.6,490.8 103.4,489.8 103.3,488.8 103.1,487.7 102.9,486.7 102.8,485.7 102.7,484.7 102.5,483.7 102.3,482.7 102.0,481.7 101.2,480.9 100.2,480.6 99.2,480.3 98.2,480.2 97.2,480.1 96.2,480.0 95.2,479.8 94.2,479.7 93.2,479.6 92.2,479.5 91.2,479.4 90.2,479.3 89.2,479.2 88.2,479.1 87.2,479.0 86.2,478.9 85.2,478.8 84.2,478.7 83.2,478.6 82.2,478.5 81.2,478.4 80.2,478.3 79.2,478.2 78.2,478.1 77.2,478.0 76.2,477.9 75.2,477.8 74.2,477.7 73.2,477.6 72.2,477.5 71.2,477.4 70.2,477.3 69.2,477.3 68.2,477.2 67.2,477.1 66.2,477.0 65.2,476.9 64.2,476.8 63.2,476.8 62.2,476.7 61.2,476.6 60.2,476.6 59.2,476.5 58.2,476.5 57.2,476.4 56.2,476.4 55.2,476.3 54.2,476.2 53.2,476.2 52.2,476.2 51.2,476.1 50.2,476.1 49.2,476.0 48.2,476.0 47.2,475.9 46.2,475.9 45.2,475.9 44.2,475.8 43.2,475.8 42.2,475.8 M168.8,471.7 167.8,472.0 166.8,472.3 165.8,472.6 164.8,472.8 163.8,472.9 162.8,473.1 161.8,473.2 160.8,473.3 159.8,473.3 158.8,473.4 157.8,473.4 156.8,473.5 155.8,473.5 154.8,473.6 153.8,473.6 152.8,473.6 151.8,473.7 150.8,473.7 149.8,473.7 148.8,473.7 147.8,473.7 146.8,473.8 145.8,473.8 144.8,473.8 143.8,473.8 142.8,473.9 141.8,473.9 140.8,473.9 139.8,473.9 138.8,473.9 137.8,474.0 136.8,474.0 135.8,474.0 134.8,474.0 133.8,474.0 132.8,474.0 131.8,474.1 130.8,474.1 129.8,474.1 128.8,474.1 127.8,474.2 126.8,474.2 125.8,474.2 124.8,474.3 123.8,474.3 122.8,474.4 121.8,474.6 120.8,474.8 119.8,475.1 118.8,475.5 117.8,476.0 116.8,476.6 115.8,477.4 114.9,478.7 114.5,479.7 114.1,480.7 113.8,481.7 113.5,482.7 113.1,483.7 112.8,484.7 112.5,485.7 112.1,486.7 111.8,487.7 111.5,488.8 111.2,489.8 111.0,490.8 110.8,491.8 110.7,492.8 110.5,493.8 110.3,494.8 110.1,495.8 109.9,496.8 109.6,497.8 109.4,498.8 108.9,499.9 107.8,499.4 107.3,498.3 107.0,497.3 106.7,496.3 106.5,495.3 106.2,494.3 105.9,493.3 105.7,492.3 105.4,491.3 105.2,490.3 105.0,489.3 104.8,488.3 104.6,487.2 104.4,486.2 104.2,485.2 104.1,484.2 104.0,483.2 103.8,482.2 103.7,481.2 103.5,480.2 103.4,479.2 103.2,478.1 103.0,477.1 102.8,476.1 102.4,475.1 101.8,474.1 100.8,473.9 99.8,473.7 98.8,473.6 97.8,473.5 96.8,473.4 95.8,473.3 94.8,473.2 93.8,473.2 92.8,473.1 91.8,473.1 90.8,473.0 89.8,473.0 88.8,473.0 87.8,472.9 86.8,472.9 85.8,472.8 84.8,472.8 83.8,472.7 82.8,472.6 81.8,472.6 80.8,472.5 79.8,472.4 78.8,472.3 77.8,472.3 76.8,472.2 75.8,472.1 74.8,472.1 73.8,472.0 72.8,472.0 71.8,472.0 70.8,471.9 69.8,471.9 68.8,471.8 67.8,471.8 66.8,471.8 65.8,471.7 64.8,471.7 63.8,471.7 62.8,471.7 61.8,471.6 60.8,471.6 59.8,471.6 58.8,471.6 57.8,471.5 56.8,471.5 55.8,471.5 54.8,471.5 53.8,471.5 52.8,471.4 51.8,471.4 50.8,471.4 49.8,471.4 48.8,471.4 47.8,471.4 46.8,471.4 45.8,471.4 44.8,471.3 43.8,471.3 42.8,471.3 42.2,471.3 M161.5,468.6 160.2,468.6 159.2,468.7 158.2,468.7 157.2,468.8 156.2,468.8 155.2,468.8 154.2,468.9 153.2,468.9 152.2,468.9 151.2,469.0 150.2,469.0 149.2,469.0 148.2,469.0 147.2,469.1 146.2,469.1 145.2,469.1 144.2,469.2 143.2,469.2 142.2,469.3 141.2,469.3 140.2,469.3 139.2,469.4 138.2,469.4 137.2,469.4 136.2,469.5 135.2,469.5 134.2,469.5 133.2,469.6 132.2,469.6 131.2,469.7 130.2,469.7 129.2,469.8 128.2,469.9 127.2,469.9 126.2,470.0 125.2,470.1 124.2,470.2 123.2,470.3 122.2,470.5 121.2,470.7 120.2,471.0 119.2,471.3 118.2,471.7 117.2,472.2 116.2,472.7 115.2,473.2 114.5,474.1 114.0,475.1 113.6,476.1 113.2,477.1 112.9,478.1 112.6,479.2 112.2,480.2 111.8,481.2 111.5,482.2 111.2,483.2 110.9,484.2 110.7,485.2 110.5,486.2 110.3,487.2 110.1,488.2 109.9,489.3 109.7,490.3 109.5,491.3 109.3,492.3 108.8,493.3 107.9,492.8 107.5,491.8 107.2,490.8 106.9,489.8 106.7,488.8 106.4,487.7 106.2,486.7 105.9,485.7 105.7,484.7 105.4,483.7 105.2,482.7 104.9,481.7 104.7,480.7 104.6,479.7 104.4,478.7 104.2,477.6 104.0,476.6 103.8,475.6 103.6,474.6 103.4,473.6 102.9,472.6 102.2,471.7 101.2,471.2 100.2,470.9 99.2,470.7 98.2,470.6 97.2,470.5 96.2,470.4 95.2,470.3 94.2,470.3 93.2,470.2 92.2,470.2 91.2,470.2 90.2,470.1 89.2,470.1 88.2,470.1 87.2,470.1 86.2,470.0 85.2,470.0 84.2,469.9 83.2,469.8 82.2,469.8 81.2,469.7 80.2,469.6 79.2,469.5 78.2,469.5 77.2,469.4 76.2,469.3 75.2,469.2 74.2,469.1 73.2,469.1 72.2,469.0 71.2,468.9 70.2,468.8 69.2,468.7 68.2,468.7 67.2,468.6 66.7,468.6 M116.8,468.6 115.8,469.3 115.1,470.1 114.4,471.1 113.8,472.1 113.2,473.1 112.7,474.1 112.2,475.0 111.8,476.1 111.3,477.1 111.0,478.1 110.6,479.2 110.4,480.2 110.1,481.2 109.9,482.2 109.7,483.2 109.5,484.2 109.2,485.2 108.8,486.2 107.9,485.7 107.5,484.7 107.2,483.7 107.0,482.7 106.7,481.7 106.4,480.7 106.1,479.7 105.8,478.7 105.5,477.6 105.2,476.6 104.9,475.6 104.7,474.6 104.4,473.6 104.1,472.6 103.7,471.6 103.3,470.6 102.9,469.6 102.5,468.6 M114.0,468.6 113.5,469.6 112.9,470.6 112.3,471.6 111.8,472.5 111.1,473.6 110.6,474.6 110.2,475.6 109.8,476.6 109.2,477.6 108.2,478.3 107.4,477.1 106.9,476.1 106.4,475.1 106.0,474.1 105.6,473.1 105.1,472.1 104.7,471.1 104.3,470.1 103.9,469.1 103.7,468.6 M112.7,468.6 112.1,469.6 111.3,470.6 110.8,471.4 110.0,472.6 109.3,473.6 108.2,474.0 107.3,473.1 106.6,472.1 106.1,471.1 105.5,470.1 104.8,469.1 104.6,468.6 M111.4,468.6 110.8,469.4 110.0,470.6 109.2,471.4 108.2,471.7 107.2,470.8 106.5,469.6 105.8,468.6 105.7,468.6 M110.0,468.6 109.2,469.5 108.2,469.8 107.5,469.1 107.0,468.6" stroke="#1c1c1c" stroke-width="0.75" fill="none" opacity="0.9"/>
<path d="M42.00 568.90L42.19 565.81M42.00 561.69L42.19 558.59M42.00 554.47L42.19 551.38M42.00 547.26L42.19 544.16M42.00 540.04L42.19 536.95M42.00 532.83L42.19 529.73M42.00 525.61L42.19 522.52M42.00 518.40L42.19 515.31M42.00 511.19L42.19 508.09M42.00 503.97L42.19 500.88M42.00 496.76L42.19 493.66M42.00 489.54L42.19 486.45M42.00 482.33L42.19 479.23M42.00 475.11L42.19 472.02M51.07 568.90L51.34 565.81M51.07 561.69L51.34 558.60M51.07 554.47L51.35 551.38M51.07 547.26L51.36 544.17M51.07 540.04L51.37 536.96M51.07 532.83L51.38 529.74M51.07 525.61L51.39 522.53M51.07 518.40L51.40 515.32M51.07 511.19L51.42 508.10M51.07 503.97L51.43 500.89M51.07 496.76L51.44 493.68M51.07 489.54L51.45 486.47M51.07 482.33L51.46 479.25M51.07 475.11L51.48 472.04M60.14 568.90L60.49 565.82M60.14 561.69L60.50 558.61M60.14 554.47L60.52 551.39M60.14 547.26L60.54 544.18M60.14 540.04L60.56 536.97M60.14 532.83L60.58 529.76M60.14 525.61L60.60 522.55M60.14 518.40L60.62 515.34M60.14 511.19L60.64 508.13M60.14 503.97L60.67 500.92M60.14 496.76L60.69 493.71M60.14 489.54L60.71 486.50M60.14 482.33L60.74 479.29M60.14 475.11L60.76 472.08M69.21 568.90L69.64 565.83M69.21 561.69L69.66 558.62M69.21 554.47L69.69 551.41M69.21 547.26L69.71 544.20M69.21 540.04L69.74 536.99M69.21 532.83L69.77 529.78M69.21 525.61L69.80 522.57M69.21 518.40L69.84 515.36M69.21 511.19L69.87 508.16M69.21 503.97L69.91 500.95M69.21 496.76L69.94 493.74M69.21 489.54L69.98 486.54M69.21 482.33L70.01 479.33M69.21 475.11L70.05 472.13M78.29 568.90L78.79 565.84M78.29 561.69L78.82 558.63M78.29 554.47L78.85 551.42M78.29 547.26L78.89 544.22M78.29 540.04L78.93 537.01M78.29 532.83L78.97 529.80M78.29 525.61L79.01 522.60M78.29 518.40L79.05 515.40M78.29 511.19L79.10 508.19M78.29 503.97L79.14 500.99M78.29 496.76L79.19 493.79M78.29 489.54L79.23 486.59M78.29 482.33L79.28 479.39M78.29 475.11L79.33 472.20M87.36 568.90L87.95 565.86M87.36 561.69L87.98 558.65M87.36 554.47L88.02 551.44M87.36 547.26L88.06 544.24M87.36 540.04L88.11 537.04M87.36 532.83L88.16 529.83M87.36 525.61L88.21 522.63M87.36 518.40L88.27 515.44M87.36 511.19L88.32 508.24M87.36 503.97L88.38 501.04M87.36 496.76L88.43 493.85M87.36 489.54L88.49 486.66M87.36 482.33L88.55 479.47M87.36 475.11L88.60 472.28M96.43 568.90L97.10 565.87M96.43 561.69L97.13 558.67M96.43 554.47L97.18 551.46M96.43 547.26L97.24 544.26M96.43 540.04L97.29 537.07M96.43 532.83L97.35 529.87M96.43 525.61L97.41 522.67M96.43 518.40L97.48 515.48M96.43 511.19L97.54 508.29M96.43 503.97L97.61 501.10M96.43 496.76L97.67 493.92M96.43 489.54L97.74 486.73M96.43 482.33L97.81 479.55M96.43 475.11L97.87 472.37M105.50 568.90L106.25 565.89M105.50 561.69L106.29 558.69M105.50 554.47L106.35 551.49M105.50 547.26L106.41 544.29M105.50 540.04L106.47 537.10M105.50 532.83L106.54 529.91M105.50 525.61L106.61 522.72M105.50 518.40L106.68 515.54M105.50 511.19L106.76 508.35M105.50 503.97L106.83 501.17M105.50 496.76L106.91 494.00M105.50 489.54L106.98 486.82M105.50 482.33L107.06 479.65M105.50 475.11L107.14 472.48M114.57 568.90L114.94 565.82M114.57 561.69L115.00 558.62M114.57 554.47L115.06 551.41M114.57 547.26L115.12 544.21M114.57 540.04L115.18 537.00M114.57 532.83L115.24 529.80M114.57 525.61L115.30 522.60M114.57 518.40L115.36 515.40M114.57 511.19L115.42 508.20M114.57 503.97L115.47 501.01M114.57 496.76L115.53 493.81M114.57 489.54L115.59 486.61M114.57 482.33L115.65 479.42M114.57 475.11L115.70 472.23M123.64 568.90L124.01 565.82M123.64 561.69L124.07 558.61M123.64 554.47L124.12 551.41M123.64 547.26L124.17 544.20M123.64 540.04L124.22 537.00M123.64 532.83L124.27 529.79M123.64 525.61L124.32 522.59M123.64 518.40L124.37 515.39M123.64 511.19L124.43 508.19M123.64 503.97L124.48 500.99M123.64 496.76L124.53 493.79M123.64 489.54L124.58 486.59M123.64 482.33L124.63 479.39M123.64 475.11L124.68 472.19M132.71 568.90L133.09 565.82M132.71 561.69L133.13 558.61M132.71 554.47L133.18 551.41M132.71 547.26L133.22 544.20M132.71 540.04L133.26 536.99M132.71 532.83L133.31 529.79M132.71 525.61L133.35 522.58M132.71 518.40L133.40 515.38M132.71 511.19L133.44 508.17M132.71 503.97L133.49 500.97M132.71 496.76L133.53 493.77M132.71 489.54L133.57 486.56M132.71 482.33L133.62 479.36M132.71 475.11L133.66 472.16M141.79 568.90L142.16 565.82M141.79 561.69L142.20 558.61M141.79 554.47L142.23 551.40M141.79 547.26L142.27 544.20M141.79 540.04L142.31 536.99M141.79 532.83L142.35 529.78M141.79 525.61L142.39 522.57M141.79 518.40L142.43 515.37M141.79 511.19L142.47 508.16M141.79 503.97L142.51 500.96M141.79 496.76L142.54 493.75M141.79 489.54L142.58 486.55M141.79 482.33L142.62 479.34M141.79 475.11L142.66 472.14M150.86 568.90L151.23 565.82M150.86 561.69L151.26 558.61M150.86 554.47L151.30 551.40M150.86 547.26L151.33 544.19M150.86 540.04L151.36 536.98M150.86 532.83L151.40 529.78M150.86 525.61L151.43 522.57M150.86 518.40L151.46 515.36M150.86 511.19L151.50 508.15M150.86 503.97L151.53 500.95M150.86 496.76L151.56 493.74M150.86 489.54L151.60 486.53M150.86 482.33L151.63 479.33M150.86 475.11L151.66 472.12M159.93 568.90L160.30 565.82M159.93 561.69L160.33 558.61M159.93 554.47L160.36 551.40M159.93 547.26L160.39 544.19M159.93 540.04L160.42 536.98M159.93 532.83L160.45 529.77M159.93 525.61L160.48 522.56M159.93 518.40L160.50 515.35M159.93 511.19L160.53 508.15M159.93 503.97L160.56 500.94M159.93 496.76L160.59 493.73M159.93 489.54L160.62 486.52M159.93 482.33L160.65 479.31M159.93 475.11L160.68 472.11M169.00 568.90L169.37 565.82M169.00 561.69L169.40 558.61M169.00 554.47L169.42 551.40M169.00 547.26L169.45 544.19M169.00 540.04L169.47 536.98M169.00 532.83L169.50 529.77M169.00 525.61L169.52 522.56M169.00 518.40L169.55 515.35M169.00 511.19L169.57 508.14M169.00 503.97L169.60 500.93M169.00 496.76L169.62 493.72M169.00 489.54L169.65 486.51M169.00 482.33L169.67 479.30M169.00 475.11L169.70 472.09" stroke="#111" stroke-width="0.95" fill="none"/><path d="M42.29 564.01L42.88 565.85L41.49 565.76ZM42.29 556.79L42.88 558.63L41.49 558.55ZM42.29 549.58L42.88 551.42L41.49 551.34ZM42.29 542.37L42.88 544.20L41.49 544.12ZM42.29 535.15L42.88 536.99L41.49 536.91ZM42.29 527.94L42.88 529.78L41.49 529.69ZM42.29 520.72L42.88 522.56L41.49 522.48ZM42.29 513.51L42.88 515.35L41.49 515.26ZM42.29 506.29L42.88 508.13L41.49 508.05ZM42.29 499.08L42.88 500.92L41.49 500.84ZM42.29 491.87L42.88 493.70L41.49 493.62ZM42.29 484.65L42.88 486.49L41.49 486.41ZM42.29 477.44L42.88 479.28L41.49 479.19ZM42.29 470.22L42.88 472.06L41.49 471.98ZM51.49 564.02L52.04 565.87L50.64 565.75ZM51.50 556.80L52.04 558.66L50.65 558.54ZM51.52 549.59L52.05 551.45L50.66 551.32ZM51.53 542.38L52.06 544.24L50.67 544.11ZM51.55 535.17L52.07 537.03L50.68 536.89ZM51.56 527.95L52.08 529.81L50.69 529.67ZM51.58 520.74L52.09 522.60L50.70 522.46ZM51.60 513.53L52.10 515.39L50.71 515.24ZM51.61 506.32L52.11 508.18L50.72 508.03ZM51.63 499.10L52.12 500.97L50.73 500.81ZM51.65 491.89L52.13 493.76L50.74 493.60ZM51.67 484.68L52.15 486.55L50.76 486.38ZM51.69 477.47L52.16 479.34L50.77 479.16ZM51.71 470.26L52.17 472.13L50.78 471.95ZM60.69 564.03L61.19 565.90L59.80 565.74ZM60.71 556.82L61.20 558.69L59.81 558.53ZM60.74 549.61L61.21 551.48L59.83 551.31ZM60.77 542.40L61.23 544.27L59.84 544.09ZM60.80 535.19L61.25 537.06L59.86 536.88ZM60.83 527.98L61.27 529.86L59.88 529.66ZM60.86 520.77L61.29 522.65L59.91 522.45ZM60.90 513.56L61.31 515.45L59.93 515.23ZM60.93 506.35L61.33 508.24L59.95 508.01ZM60.97 499.14L61.36 501.03L59.98 500.80ZM61.01 491.93L61.38 493.83L60.00 493.58ZM61.05 484.73L61.40 486.63L60.03 486.37ZM61.09 477.52L61.43 479.42L60.05 479.15ZM61.12 470.31L61.45 472.22L60.08 471.94ZM69.89 564.05L70.34 565.93L68.95 565.73ZM69.92 556.84L70.35 558.72L68.97 558.52ZM69.96 549.63L70.38 551.51L68.99 551.30ZM70.00 542.42L70.40 544.31L69.02 544.08ZM70.05 535.21L70.43 537.11L69.05 536.87ZM70.10 528.01L70.46 529.91L69.08 529.65ZM70.15 520.80L70.49 522.70L69.12 522.44ZM70.20 513.60L70.52 515.50L69.15 515.22ZM70.25 506.40L70.55 508.30L69.19 508.01ZM70.31 499.19L70.59 501.11L69.22 500.79ZM70.36 491.99L70.62 493.91L69.26 493.58ZM70.42 484.79L70.65 486.71L69.30 486.37ZM70.48 477.59L70.69 479.51L69.34 479.15ZM70.53 470.40L70.72 472.32L69.37 471.94ZM79.09 564.07L79.49 565.96L78.10 565.73ZM79.13 556.86L79.51 558.75L78.13 558.51ZM79.18 549.65L79.54 551.55L78.16 551.30ZM79.24 542.45L79.58 544.35L78.20 544.08ZM79.30 535.25L79.61 537.15L78.24 536.87ZM79.36 528.05L79.65 529.96L78.28 529.65ZM79.43 520.85L79.69 522.76L78.33 522.44ZM79.50 513.65L79.73 515.57L78.37 515.22ZM79.57 506.46L79.77 508.38L78.42 508.01ZM79.64 499.26L79.81 501.19L78.47 500.80ZM79.71 492.07L79.86 493.99L78.52 493.59ZM79.78 484.88L79.90 486.81L78.57 486.38ZM79.86 477.69L79.94 479.62L78.62 479.17ZM79.94 470.50L79.99 472.43L78.67 471.96ZM88.29 564.09L88.63 565.99L87.26 565.72ZM88.34 556.88L88.66 558.79L87.29 558.51ZM88.40 549.68L88.70 551.59L87.33 551.29ZM88.47 542.49L88.74 544.40L87.38 544.08ZM88.55 535.29L88.79 537.21L87.43 536.87ZM88.63 528.10L88.84 530.02L87.48 529.65ZM88.71 520.90L88.88 522.83L87.54 522.44ZM88.79 513.71L88.93 515.64L87.60 515.23ZM88.88 506.53L88.99 508.46L87.65 508.02ZM88.97 499.34L89.04 501.27L87.71 500.81ZM89.06 492.16L89.09 494.09L87.77 493.61ZM89.15 484.98L89.14 486.91L87.84 486.40ZM89.24 477.80L89.19 479.73L87.90 479.20ZM89.33 470.63L89.25 472.56L87.96 471.99ZM97.49 564.12L97.78 566.02L96.41 565.72ZM97.54 556.91L97.82 558.83L96.45 558.51ZM97.62 549.72L97.86 551.63L96.50 551.29ZM97.70 542.53L97.91 544.45L96.56 544.08ZM97.79 535.34L97.96 537.26L96.62 536.87ZM97.89 528.15L98.02 530.08L96.68 529.66ZM97.98 520.97L98.08 522.90L96.75 522.45ZM98.08 513.79L98.13 515.72L96.82 515.25ZM98.19 506.61L98.19 508.54L96.89 508.04ZM98.29 499.44L98.25 501.37L96.96 500.84ZM98.39 492.27L98.31 494.20L97.03 493.64ZM98.50 485.10L98.37 487.03L97.10 486.44ZM98.61 477.94L98.43 479.86L97.18 479.24ZM98.71 470.78L98.49 472.70L97.25 472.05ZM106.68 564.14L106.93 566.06L105.57 565.72ZM106.75 556.95L106.97 558.87L105.61 558.51ZM106.84 549.76L107.02 551.68L105.67 551.30ZM106.94 542.57L107.08 544.50L105.74 544.09ZM107.04 535.39L107.14 537.32L105.81 536.88ZM107.15 528.21L107.20 530.14L105.88 529.67ZM107.26 521.04L107.27 522.97L105.96 522.47ZM107.37 513.87L107.33 515.80L106.04 515.27ZM107.49 506.71L107.40 508.64L106.12 508.07ZM107.61 499.55L107.46 501.47L106.20 500.87ZM107.73 492.39L107.53 494.31L106.28 493.68ZM107.85 485.24L107.60 487.16L106.37 486.49ZM107.97 478.09L107.66 480.00L106.45 479.30ZM108.09 470.95L107.73 472.85L106.54 472.11ZM115.16 564.04L115.64 565.91L114.25 565.74ZM115.25 556.83L115.70 558.71L114.31 558.52ZM115.35 549.63L115.75 551.52L114.37 551.30ZM115.44 542.43L115.81 544.33L114.43 544.08ZM115.54 535.24L115.87 537.14L114.49 536.87ZM115.63 528.04L115.92 529.95L114.56 529.65ZM115.72 520.85L115.98 522.77L114.62 522.44ZM115.81 513.66L116.03 515.58L114.68 515.22ZM115.91 506.47L116.09 508.39L114.74 508.01ZM116.00 499.28L116.14 501.21L114.80 500.80ZM116.09 492.10L116.20 494.03L114.87 493.59ZM116.18 484.91L116.25 486.84L114.93 486.38ZM116.27 477.73L116.30 479.66L114.99 479.18ZM116.36 470.55L116.35 472.48L115.05 471.97ZM124.23 564.04L124.71 565.91L123.32 565.74ZM124.31 556.83L124.76 558.71L123.37 558.52ZM124.39 549.63L124.81 551.52L123.43 551.30ZM124.48 542.43L124.86 544.32L123.48 544.08ZM124.56 535.23L124.91 537.13L123.53 536.87ZM124.64 528.03L124.96 529.94L123.59 529.65ZM124.72 520.83L125.01 522.74L123.64 522.44ZM124.80 513.64L125.05 515.55L123.69 515.22ZM124.88 506.44L125.10 508.36L123.75 508.01ZM124.96 499.25L125.15 501.17L123.80 500.80ZM125.04 492.06L125.20 493.99L123.86 493.59ZM125.12 484.87L125.24 486.80L123.91 486.38ZM125.20 477.68L125.29 479.61L123.96 479.17ZM125.28 470.49L125.34 472.42L124.02 471.96ZM133.30 564.04L133.78 565.91L132.39 565.74ZM133.37 556.83L133.82 558.71L132.44 558.52ZM133.44 549.63L133.87 551.51L132.48 551.30ZM133.51 542.42L133.91 544.31L132.53 544.08ZM133.58 535.22L133.95 537.12L132.58 536.87ZM133.66 528.02L134.00 529.92L132.62 529.65ZM133.73 520.82L134.04 522.73L132.67 522.44ZM133.80 513.62L134.08 515.53L132.72 515.22ZM133.87 506.42L134.12 508.34L132.76 508.01ZM133.94 499.23L134.16 501.14L132.81 500.79ZM134.00 492.03L134.21 493.95L132.86 493.58ZM134.07 484.84L134.25 486.76L132.90 486.37ZM134.14 477.64L134.29 479.57L132.95 479.16ZM134.21 470.45L134.33 472.38L132.99 471.95ZM142.37 564.04L142.85 565.91L141.46 565.74ZM142.43 556.83L142.89 558.71L141.50 558.52ZM142.50 549.62L142.93 551.51L141.54 551.30ZM142.56 542.42L142.97 544.31L141.58 544.09ZM142.62 535.21L143.00 537.11L141.62 536.87ZM142.68 528.01L143.04 529.91L141.66 529.65ZM142.74 520.81L143.08 522.71L141.70 522.44ZM142.80 513.61L143.11 515.51L141.74 515.22ZM142.86 506.41L143.15 508.32L141.78 508.01ZM142.92 499.21L143.19 501.12L141.82 500.79ZM142.98 492.01L143.22 493.92L141.86 493.58ZM143.04 484.81L143.26 486.73L141.91 486.37ZM143.10 477.61L143.29 479.53L141.95 479.15ZM143.16 470.41L143.33 472.34L141.99 471.94ZM151.44 564.04L151.92 565.91L150.53 565.74ZM151.50 556.83L151.96 558.70L150.57 558.52ZM151.55 549.62L151.99 551.50L150.60 551.30ZM151.60 542.41L152.02 544.30L150.64 544.09ZM151.66 535.21L152.05 537.10L150.67 536.87ZM151.71 528.00L152.09 529.90L150.71 529.65ZM151.76 520.80L152.12 522.70L150.74 522.44ZM151.82 513.59L152.15 515.50L150.78 515.22ZM151.87 506.39L152.18 508.30L150.81 508.01ZM151.92 499.19L152.21 501.10L150.85 500.79ZM151.97 491.99L152.25 493.90L150.88 493.58ZM152.03 484.78L152.28 486.70L150.92 486.37ZM152.08 477.58L152.31 479.50L150.95 479.15ZM152.13 470.38L152.34 472.30L150.99 471.94ZM160.52 564.04L160.99 565.91L159.60 565.74ZM160.56 556.83L161.02 558.70L159.63 558.52ZM160.61 549.62L161.05 551.50L159.67 551.30ZM160.65 542.41L161.08 544.29L159.70 544.09ZM160.70 535.20L161.11 537.09L159.73 536.87ZM160.75 528.00L161.14 529.89L159.76 529.66ZM160.79 520.79L161.16 522.69L159.79 522.44ZM160.84 513.59L161.19 515.48L159.82 515.22ZM160.88 506.38L161.22 508.28L159.85 508.01ZM160.93 499.17L161.25 501.08L159.88 500.79ZM160.98 491.97L161.28 493.88L159.91 493.58ZM161.02 484.77L161.30 486.68L159.94 486.36ZM161.07 477.56L161.33 479.48L159.97 479.15ZM161.11 470.36L161.36 472.28L160.00 471.94ZM169.59 564.04L170.07 565.91L168.68 565.74ZM169.63 556.83L170.09 558.70L168.70 558.52ZM169.67 549.62L170.12 551.50L168.73 551.30ZM169.71 542.41L170.14 544.29L168.75 544.09ZM169.75 535.20L170.16 537.09L168.78 536.87ZM169.79 527.99L170.19 529.88L168.81 529.66ZM169.83 520.78L170.21 522.68L168.83 522.44ZM169.87 513.58L170.24 515.47L168.86 515.23ZM169.91 506.37L170.26 508.27L168.89 508.01ZM169.95 499.16L170.29 501.07L168.91 500.79ZM169.99 491.96L170.31 493.86L168.94 493.58ZM170.03 484.75L170.33 486.66L168.96 486.37ZM170.07 477.55L170.36 479.46L168.99 479.15ZM170.11 470.34L170.38 472.25L169.02 471.94Z" fill="#111" stroke="#111" stroke-width="0.3"/>
<text x="39.60" y="573.90" font-size="10.50" text-anchor="end" fill="#2a2a2a"  >0</text>
<text x="39.60" y="553.08" font-size="10.50" text-anchor="end" fill="#2a2a2a"  >0.5</text>
<text x="39.60" y="532.27" font-size="10.50" text-anchor="end" fill="#2a2a2a"  >1</text>
<text x="39.60" y="511.45" font-size="10.50" text-anchor="end" fill="#2a2a2a"  >1.5</text>
<text x="39.60" y="490.63" font-size="10.50" text-anchor="end" fill="#2a2a2a"  >2</text>
<text x="42.00" y="583.20" font-size="10.50" text-anchor="middle" fill="#2a2a2a"  >0</text>
<text x="67.40" y="583.20" font-size="10.50" text-anchor="middle" fill="#2a2a2a"  >10</text>
<text x="92.80" y="583.20" font-size="10.50" text-anchor="middle" fill="#2a2a2a"  >20</text>
<text x="118.20" y="583.20" font-size="10.50" text-anchor="middle" fill="#2a2a2a"  >30</text>
<text x="143.60" y="583.20" font-size="10.50" text-anchor="middle" fill="#2a2a2a"  >40</text>
<text x="169.00" y="583.20" font-size="10.50" text-anchor="middle" fill="#2a2a2a"  >50</text>
<text x="45.00" y="464.50" font-size="12.40" text-anchor="start" fill="#2a2a2a"  >(g) 100 MHz</text>
<text x="105.30" y="596.60" font-size="12.00" text-anchor="middle" fill="#2a2a2a"  ><tspan font-style="italic">r</tspan> (cm)</text>
<text transform="translate(22.2 519.80) rotate(-90)" font-size="12" text-anchor="middle" fill="#2a2a2a"><tspan font-style="italic">z</tspan> (cm)</text>
<text transform="translate(7.9 519.00) rotate(-90)" font-size="11.8" text-anchor="middle" fill="#2a2a2a"><tspan font-weight="bold">E</tspan> (V/cm)</text>
<path d="M164.3 559.7H169.6" stroke="#111" stroke-width="1"/><path d="M171.6 559.7L169.3 558.8L169.3 560.6Z" fill="#111"/>
<text transform="translate(136.3 18.3) rotate(-4)" font-size="10" text-anchor="middle" dominant-baseline="central" fill="#111">0.4</text>
<text transform="translate(166.5 69.5) rotate(90)" font-size="10" text-anchor="middle" dominant-baseline="central" fill="#111">0.2</text>
<text transform="translate(139.7 179.3) rotate(15)" font-size="10" text-anchor="middle" dominant-baseline="central" fill="#111">1.2</text>
<text transform="translate(145.7 191.3) rotate(0)" font-size="10" text-anchor="middle" dominant-baseline="central" fill="#111">1</text>
<text transform="translate(142.9 237.5) rotate(30)" font-size="10" text-anchor="middle" dominant-baseline="central" fill="#111">0.6</text>
<text transform="translate(164.0 223.4) rotate(75)" font-size="10" text-anchor="middle" dominant-baseline="central" fill="#111">0.8</text>
<text transform="translate(136.0 171.5) rotate(-15)" font-size="10" text-anchor="middle" dominant-baseline="central" fill="#111">1.4</text>
<text transform="translate(139.5 168.0) rotate(-15)" font-size="10" text-anchor="middle" dominant-baseline="central" fill="#111">1.6</text>
<text transform="translate(142.5 166.5) rotate(-10)" font-size="10" text-anchor="middle" dominant-baseline="central" fill="#111">1.8</text>
<text transform="translate(158.0 166.0) rotate(0)" font-size="10" text-anchor="middle" dominant-baseline="central" fill="#111">2</text>
<text transform="translate(91.7 398.8) rotate(20)" font-size="10" text-anchor="middle" dominant-baseline="central" fill="#111">0.6</text>
<text transform="translate(147.2 381.0) rotate(-65)" font-size="10" text-anchor="middle" dominant-baseline="central" fill="#111">0.8</text>
<text transform="translate(166.3 385.8) rotate(90)" font-size="10" text-anchor="middle" dominant-baseline="central" fill="#111">0.6</text>
<text transform="translate(139.4 402.0) rotate(-65)" font-size="10" text-anchor="middle" dominant-baseline="central" fill="#111">0.6</text>
<text transform="translate(144.5 357.0) rotate(-72)" font-size="10" text-anchor="middle" dominant-baseline="central" fill="#111">1.4</text>
<text transform="translate(144.0 348.0) rotate(-72)" font-size="10" text-anchor="middle" dominant-baseline="central" fill="#111">1.6</text>
<text transform="translate(143.5 339.0) rotate(-72)" font-size="10" text-anchor="middle" dominant-baseline="central" fill="#111">1.8</text>
<text transform="translate(143.0 331.0) rotate(-72)" font-size="10" text-anchor="middle" dominant-baseline="central" fill="#111">2</text>
<text transform="translate(142.5 323.0) rotate(-72)" font-size="10" text-anchor="middle" dominant-baseline="central" fill="#111">2.2</text>
<text transform="translate(61.0 497.0) rotate(0)" font-size="10" text-anchor="middle" dominant-baseline="central" fill="#111">1</text>
<text transform="translate(86.5 546.0) rotate(60)" font-size="10" text-anchor="middle" dominant-baseline="central" fill="#111">0.8</text>
<text transform="translate(109.5 555.0) rotate(70)" font-size="10" text-anchor="middle" dominant-baseline="central" fill="#111">0.6</text>
<text transform="translate(157.0 537.0) rotate(65)" font-size="10" text-anchor="middle" dominant-baseline="central" fill="#111">0.8</text>
<text transform="translate(135.0 490.8) rotate(0)" font-size="10" text-anchor="middle" dominant-baseline="central" fill="#111">1.2</text>
<text transform="translate(132.0 469.5) rotate(0)" font-size="10" text-anchor="middle" dominant-baseline="central" fill="#111">2.2</text>
<text transform="translate(142.0 468.5) rotate(0)" font-size="10" text-anchor="middle" dominant-baseline="central" fill="#111">1.8</text>
<text transform="translate(127.8 477.5) rotate(90)" font-size="10" text-anchor="middle" dominant-baseline="central" fill="#111">1.6</text>
<text transform="translate(136.5 479.0) rotate(90)" font-size="10" text-anchor="middle" dominant-baseline="central" fill="#111">1.4</text>
<clipPath id="cpb"><rect x="218.5" y="11.5" width="127.0" height="102.0"/></clipPath>
<g clip-path="url(#cpb)"><path d="M219.00,37.48 220.06,37.48 221.12,37.48 222.18,37.49 223.24,37.49 224.29,37.49 225.35,37.50 226.41,37.50 227.47,37.50 228.53,37.51 229.59,37.51 230.65,37.51 231.71,37.52 232.76,37.52 233.82,37.53 234.88,37.53 235.94,37.53 237.00,37.54 238.06,37.54 239.12,37.55 240.18,37.55 241.24,37.55 242.29,37.56 243.35,37.56 244.41,37.57 245.47,37.57 246.53,37.57 247.59,37.58 248.65,37.58 249.71,37.59 250.76,37.59 251.82,37.60 252.88,37.60 253.94,37.61 255.00,37.61 256.06,37.61 257.12,37.62 258.18,37.62 259.24,37.63 260.29,37.63 261.35,37.64 262.41,37.64 263.47,37.65 264.53,37.65 265.59,37.66 266.65,37.66 267.71,37.67 268.76,37.67 269.82,37.68 270.88,37.68 271.94,37.69 273.00,37.69 274.06,37.70 275.12,37.70 276.18,37.71 277.24,37.71 278.29,37.72 279.35,37.73 280.41,37.73 281.47,37.74 282.53,37.74 283.59,37.75 284.65,37.75 285.71,37.76 286.76,37.76 287.82,37.77 288.88,37.77 289.94,37.78 291.00,37.79 292.06,37.79 293.12,37.80 294.18,37.80 295.24,37.81 296.29,37.82 297.35,37.82 298.41,37.83 299.47,37.83 300.53,37.84 301.59,37.85 302.65,37.85 303.71,37.86 304.76,37.87 305.82,37.87 306.88,37.88 307.94,37.89 309.00,37.89 310.06,37.90 311.12,37.91 312.18,37.91 313.24,37.92 314.29,37.93 315.35,37.94 316.41,37.94 317.47,37.95 318.53,37.96 319.59,37.96 320.65,37.97 321.71,37.98 322.76,37.99 323.82,38.00 324.88,38.00 325.94,38.01 327.00,38.02 328.06,38.03 329.12,38.04 330.18,38.05 331.24,38.05 332.29,38.06 333.35,38.07 334.41,38.08 335.47,38.09 336.53,38.10 337.59,38.11 338.65,38.12 339.71,38.14 340.76,38.15 341.82,38.16 342.88,38.17 343.94,38.18 345.00,38.19" stroke="#e8232a" stroke-width="1.6" fill="none" stroke-dasharray="7.5 4.3"/><path d="M219.00,112.89 220.06,112.89 221.12,112.89 222.18,112.89 223.24,112.89 224.29,112.89 225.35,112.89 226.41,112.89 227.47,112.89 228.53,112.89 229.59,112.89 230.65,112.89 231.71,112.89 232.76,112.89 233.82,112.89 234.88,112.89 235.94,112.89 237.00,112.89 238.06,112.89 239.12,112.89 240.18,112.89 241.24,112.89 242.29,112.89 243.35,112.89 244.41,112.89 245.47,112.89 246.53,112.89 247.59,112.89 248.65,112.89 249.71,112.89 250.76,112.89 251.82,112.89 252.88,112.89 253.94,112.89 255.00,112.89 256.06,112.89 257.12,112.89 258.18,112.89 259.24,112.89 260.29,112.89 261.35,112.89 262.41,112.89 263.47,112.89 264.53,112.89 265.59,112.89 266.65,112.89 267.71,112.89 268.76,112.89 269.82,112.89 270.88,112.89 271.94,112.89 273.00,112.89 274.06,112.89 275.12,112.89 276.18,112.89 277.24,112.89 278.29,112.89 279.35,112.89 280.41,112.89 281.47,112.89 282.53,112.89 283.59,112.89 284.65,112.89 285.71,112.89 286.76,112.89 287.82,112.89 288.88,112.89 289.94,112.89 291.00,112.89 292.06,112.89 293.12,112.89 294.18,112.89 295.24,112.89 296.29,112.89 297.35,112.89 298.41,112.89 299.47,112.89 300.53,112.89 301.59,112.89 302.65,112.89 303.71,112.89 304.76,112.89 305.82,112.89 306.88,112.89 307.94,112.89 309.00,112.89 310.06,112.89 311.12,112.89 312.18,112.89 313.24,112.89 314.29,112.89 315.35,112.89 316.41,112.89 317.47,112.89 318.53,112.89 319.59,112.89 320.65,112.89 321.71,112.89 322.76,112.89 323.82,112.89 324.88,112.89 325.94,112.89 327.00,112.89 328.06,112.89 329.12,112.89 330.18,112.89 331.24,112.89 332.29,112.89 333.35,112.89 334.41,112.89 335.47,112.89 336.53,112.89 337.59,112.89 338.65,112.89 339.71,112.89 340.76,112.89 341.82,112.89 342.88,112.89 343.94,112.89 345.00,112.89" stroke="#cc44bb" stroke-width="1.0" fill="none" stroke-dasharray="1.2 1.75"/><path d="M219.00,106.03 220.06,106.03 221.12,106.03 222.18,106.03 223.24,106.03 224.29,106.03 225.35,106.03 226.41,106.03 227.47,106.03 228.53,106.03 229.59,106.03 230.65,106.03 231.71,106.03 232.76,106.03 233.82,106.03 234.88,106.03 235.94,106.03 237.00,106.03 238.06,106.03 239.12,106.03 240.18,106.03 241.24,106.03 242.29,106.03 243.35,106.03 244.41,106.03 245.47,106.03 246.53,106.03 247.59,106.03 248.65,106.03 249.71,106.03 250.76,106.03 251.82,106.03 252.88,106.03 253.94,106.03 255.00,106.03 256.06,106.03 257.12,106.03 258.18,106.03 259.24,106.03 260.29,106.03 261.35,106.03 262.41,106.03 263.47,106.03 264.53,106.03 265.59,106.03 266.65,106.03 267.71,106.03 268.76,106.03 269.82,106.03 270.88,106.03 271.94,106.03 273.00,106.03 274.06,106.03 275.12,106.03 276.18,106.03 277.24,106.03 278.29,106.03 279.35,106.03 280.41,106.03 281.47,106.03 282.53,106.03 283.59,106.03 284.65,106.03 285.71,106.03 286.76,106.03 287.82,106.03 288.88,106.03 289.94,106.03 291.00,106.03 292.06,106.03 293.12,106.03 294.18,106.03 295.24,106.03 296.29,106.03 297.35,106.03 298.41,106.03 299.47,106.03 300.53,106.03 301.59,106.03 302.65,106.02 303.71,106.02 304.76,106.02 305.82,106.02 306.88,106.02 307.94,106.02 309.00,106.02 310.06,106.01 311.12,106.01 312.18,106.01 313.24,106.01 314.29,106.00 315.35,106.00 316.41,106.00 317.47,105.99 318.53,105.99 319.59,105.99 320.65,105.98 321.71,105.98 322.76,105.97 323.82,105.97 324.88,105.96 325.94,105.96 327.00,105.95 328.06,105.95 329.12,105.94 330.18,105.93 331.24,105.93 332.29,105.92 333.35,105.91 334.41,105.90 335.47,105.89 336.53,105.84 337.59,105.77 338.65,105.66 339.71,105.53 340.76,105.38 341.82,105.19 342.88,104.84 343.94,104.39 345.00,103.88" stroke="#2a4fb0" stroke-width="1.5" fill="none" stroke-dasharray="6 2.4 1.2 2.4"/><path d="M219.00,30.31 220.06,30.31 221.12,30.31 222.18,30.31 223.24,30.31 224.29,30.31 225.35,30.31 226.41,30.31 227.47,30.31 228.53,30.31 229.59,30.31 230.65,30.31 231.71,30.31 232.76,30.31 233.82,30.31 234.88,30.31 235.94,30.31 237.00,30.31 238.06,30.31 239.12,30.31 240.18,30.31 241.24,30.31 242.29,30.31 243.35,30.31 244.41,30.31 245.47,30.31 246.53,30.31 247.59,30.31 248.65,30.31 249.71,30.31 250.76,30.31 251.82,30.31 252.88,30.31 253.94,30.31 255.00,30.31 256.06,30.31 257.12,30.31 258.18,30.31 259.24,30.31 260.29,30.31 261.35,30.31 262.41,30.31 263.47,30.31 264.53,30.31 265.59,30.31 266.65,30.31 267.71,30.31 268.76,30.31 269.82,30.31 270.88,30.31 271.94,30.31 273.00,30.31 274.06,30.31 275.12,30.31 276.18,30.31 277.24,30.31 278.29,30.32 279.35,30.32 280.41,30.32 281.47,30.32 282.53,30.32 283.59,30.32 284.65,30.32 285.71,30.33 286.76,30.33 287.82,30.33 288.88,30.33 289.94,30.33 291.00,30.34 292.06,30.34 293.12,30.34 294.18,30.34 295.24,30.34 296.29,30.35 297.35,30.35 298.41,30.35 299.47,30.35 300.53,30.35 301.59,30.36 302.65,30.36 303.71,30.36 304.76,30.36 305.82,30.36 306.88,30.36 307.94,30.37 309.00,30.37 310.06,30.37 311.12,30.37 312.18,30.37 313.24,30.37 314.29,30.37 315.35,30.37 316.41,30.37 317.47,30.38 318.53,30.38 319.59,30.38 320.65,30.38 321.71,30.37 322.76,30.37 323.82,30.37 324.88,30.37 325.94,30.37 327.00,30.37 328.06,30.36 329.12,30.36 330.18,30.36 331.24,30.35 332.29,30.35 333.35,30.34 334.41,30.33 335.47,30.33 336.53,30.32 337.59,30.31 338.65,30.26 339.71,30.17 340.76,30.05 341.82,29.86 342.88,29.53 343.94,29.12 345.00,28.62" stroke="#000" stroke-width="1.5" fill="none"/></g>
<rect x="219.0" y="12.0" width="126.0" height="101.0" fill="none" stroke="#8a8a8a" stroke-width="1"/>
<text x="216.00" y="117.05" font-size="10.50" text-anchor="end" fill="#2a2a2a"  >0</text>
<text x="216.00" y="84.47" font-size="10.50" text-anchor="end" fill="#2a2a2a"  >50</text>
<text x="216.00" y="51.90" font-size="10.50" text-anchor="end" fill="#2a2a2a"  >100</text>
<text x="216.00" y="19.32" font-size="10.50" text-anchor="end" fill="#2a2a2a"  >150</text>
<text x="219.00" y="125.95" font-size="10.50" text-anchor="middle" fill="#2a2a2a"  >0</text>
<text x="244.20" y="125.95" font-size="10.50" text-anchor="middle" fill="#2a2a2a"  >10</text>
<text x="269.40" y="125.95" font-size="10.50" text-anchor="middle" fill="#2a2a2a"  >20</text>
<text x="294.60" y="125.95" font-size="10.50" text-anchor="middle" fill="#2a2a2a"  >30</text>
<text x="319.80" y="125.95" font-size="10.50" text-anchor="middle" fill="#2a2a2a"  >40</text>
<text x="345.00" y="125.95" font-size="10.50" text-anchor="middle" fill="#2a2a2a"  >50</text>
<path d="M219.0 113.05h1.4M345.0 113.05h-1.4M219.0 80.47h1.4M345.0 80.47h-1.4M219.0 47.90h1.4M345.0 47.90h-1.4M219.0 15.32h1.4M345.0 15.32h-1.4M219.00 113.05v-1.4M219.00 12.00v1.4M244.20 113.05v-1.4M244.20 12.00v1.4M269.40 113.05v-1.4M269.40 12.00v1.4M294.60 113.05v-1.4M294.60 12.00v1.4M319.80 113.05v-1.4M319.80 12.00v1.4M345.00 113.05v-1.4M345.00 12.00v1.4" stroke="#333" stroke-width="0.8"/>
<text x="221.20" y="8.70" font-size="12.40" text-anchor="start" fill="#2a2a2a"  >(b)</text>
<text x="281.50" y="139.35" font-size="12.00" text-anchor="middle" fill="#2a2a2a"  ><tspan font-style="italic">r</tspan> (cm)</text>
<text transform="translate(196.5 63.23) rotate(-90)" font-size="12" text-anchor="middle" fill="#2a2a2a">Power/Area (Wm<tspan dy="-4" font-size="8.5">-2</tspan><tspan dy="4">)</tspan></text>
<path d="M266.4 56.8h17.5" stroke="#000" stroke-width="1.5"/><path d="M306.7 57.4h17.5" stroke="#2a4fb0" stroke-width="1.5" stroke-dasharray="6 2.4 1.2 2.4"/><path d="M266.4 74.4h17.5" stroke="#e8232a" stroke-width="1.6" stroke-dasharray="7.5 4.3"/><path d="M306.7 75.1h17.5" stroke="#cc44bb" stroke-width="1" stroke-dasharray="1.2 1.75"/><text x="286.40" y="61.20" font-size="12.20" text-anchor="start" fill="#2a2a2a"  ><tspan font-style="italic">P</tspan><tspan font-size="8.3" dx="0.6" dy="3">tot</tspan></text><text x="326.60" y="61.60" font-size="12.20" text-anchor="start" fill="#2a2a2a"  ><tspan font-style="italic">P</tspan><tspan font-size="8.6" font-style="italic" dx="0.6" dy="3.4">z</tspan></text><text x="286.40" y="78.80" font-size="12.20" text-anchor="start" fill="#2a2a2a"  ><tspan font-style="italic">P</tspan><tspan font-size="8.3" dx="0.6" dy="3">sh</tspan></text><text x="326.60" y="79.20" font-size="12.20" text-anchor="start" fill="#2a2a2a"  ><tspan font-style="italic">P</tspan><tspan font-size="8.6" font-style="italic" dx="0.6" dy="3.4">r</tspan></text>
<clipPath id="cpd"><rect x="218.5" y="163.6" width="127.0" height="102.5"/></clipPath>
<g clip-path="url(#cpd)"><path d="M219.00,195.00 220.06,195.05 221.12,195.11 222.18,195.19 223.24,195.27 224.29,195.37 225.35,195.48 226.41,195.60 227.47,195.72 228.53,195.86 229.59,196.00 230.65,196.14 231.71,196.29 232.76,196.45 233.82,196.61 234.88,196.78 235.94,196.95 237.00,197.14 238.06,197.36 239.12,197.59 240.18,197.83 241.24,198.09 242.29,198.37 243.35,198.65 244.41,198.95 245.47,199.26 246.53,199.57 247.59,199.89 248.65,200.22 249.71,200.55 250.76,200.88 251.82,201.22 252.88,201.55 253.94,201.89 255.00,202.22 256.06,202.56 257.12,202.90 258.18,203.25 259.24,203.61 260.29,203.97 261.35,204.34 262.41,204.72 263.47,205.11 264.53,205.50 265.59,205.90 266.65,206.30 267.71,206.72 268.76,207.13 269.82,207.56 270.88,207.99 271.94,208.43 273.00,208.88 274.06,209.34 275.12,209.82 276.18,210.30 277.24,210.80 278.29,211.30 279.35,211.80 280.41,212.31 281.47,212.82 282.53,213.34 283.59,213.85 284.65,214.36 285.71,214.86 286.76,215.37 287.82,215.87 288.88,216.38 289.94,216.89 291.00,217.40 292.06,217.91 293.12,218.43 294.18,218.96 295.24,219.50 296.29,220.04 297.35,220.60 298.41,221.17 299.47,221.75 300.53,222.34 301.59,222.95 302.65,223.58 303.71,224.22 304.76,224.87 305.82,225.54 306.88,226.21 307.94,226.90 309.00,227.59 310.06,228.29 311.12,228.99 312.18,229.70 313.24,230.41 314.29,231.12 315.35,231.84 316.41,232.55 317.47,233.26 318.53,233.97 319.59,234.68 320.65,235.38 321.71,236.08 322.76,236.77 323.82,237.46 324.88,238.15 325.94,238.84 327.00,239.53 328.06,240.22 329.12,240.92 330.18,241.61 331.24,242.32 332.29,243.02 333.35,243.73 334.41,244.45 335.47,245.18 336.53,245.92 337.59,246.66 338.65,247.42 339.71,248.18 340.76,248.96 341.82,249.76 342.88,250.58 343.94,251.44 345.00,252.32" stroke="#e8232a" stroke-width="1.6" fill="none" stroke-dasharray="7.5 4.3"/><path d="M219.00,265.48 220.06,265.48 221.12,265.47 222.18,265.47 223.24,265.47 224.29,265.46 225.35,265.45 226.41,265.45 227.47,265.44 228.53,265.43 229.59,265.42 230.65,265.40 231.71,265.39 232.76,265.38 233.82,265.36 234.88,265.35 235.94,265.33 237.00,265.32 238.06,265.30 239.12,265.28 240.18,265.26 241.24,265.25 242.29,265.23 243.35,265.21 244.41,265.19 245.47,265.16 246.53,265.13 247.59,265.09 248.65,265.05 249.71,264.99 250.76,264.94 251.82,264.87 252.88,264.81 253.94,264.74 255.00,264.66 256.06,264.58 257.12,264.50 258.18,264.41 259.24,264.32 260.29,264.23 261.35,264.14 262.41,264.05 263.47,263.95 264.53,263.85 265.59,263.76 266.65,263.66 267.71,263.57 268.76,263.47 269.82,263.38 270.88,263.29 271.94,263.20 273.00,263.11 274.06,263.02 275.12,262.94 276.18,262.86 277.24,262.79 278.29,262.72 279.35,262.65 280.41,262.59 281.47,262.53 282.53,262.46 283.59,262.40 284.65,262.33 285.71,262.26 286.76,262.20 287.82,262.13 288.88,262.06 289.94,261.99 291.00,261.93 292.06,261.86 293.12,261.80 294.18,261.73 295.24,261.67 296.29,261.61 297.35,261.56 298.41,261.50 299.47,261.45 300.53,261.40 301.59,261.36 302.65,261.32 303.71,261.29 304.76,261.26 305.82,261.23 306.88,261.21 307.94,261.20 309.00,261.19 310.06,261.18 311.12,261.19 312.18,261.19 313.24,261.20 314.29,261.21 315.35,261.22 316.41,261.24 317.47,261.26 318.53,261.28 319.59,261.30 320.65,261.33 321.71,261.36 322.76,261.39 323.82,261.43 324.88,261.46 325.94,261.50 327.00,261.55 328.06,261.59 329.12,261.64 330.18,261.69 331.24,261.78 332.29,261.92 333.35,262.10 334.41,262.31 335.47,262.54 336.53,262.78 337.59,263.03 338.65,263.27 339.71,263.50 340.76,263.73 341.82,263.96 342.88,264.20 343.94,264.45 345.00,264.70" stroke="#cc44bb" stroke-width="1.0" fill="none" stroke-dasharray="1.2 1.75"/><path d="M219.00,251.59 220.06,251.60 221.12,251.62 222.18,251.64 223.24,251.65 224.29,251.67 225.35,251.69 226.41,251.71 227.47,251.73 228.53,251.75 229.59,251.78 230.65,251.80 231.71,251.82 232.76,251.85 233.82,251.87 234.88,251.90 235.94,251.92 237.00,251.95 238.06,251.98 239.12,252.01 240.18,252.04 241.24,252.07 242.29,252.10 243.35,252.13 244.41,252.16 245.47,252.19 246.53,252.22 247.59,252.25 248.65,252.28 249.71,252.32 250.76,252.35 251.82,252.38 252.88,252.42 253.94,252.45 255.00,252.49 256.06,252.52 257.12,252.56 258.18,252.59 259.24,252.63 260.29,252.67 261.35,252.71 262.41,252.75 263.47,252.79 264.53,252.84 265.59,252.88 266.65,252.93 267.71,252.97 268.76,253.02 269.82,253.07 270.88,253.12 271.94,253.17 273.00,253.22 274.06,253.27 275.12,253.33 276.18,253.38 277.24,253.44 278.29,253.50 279.35,253.56 280.41,253.62 281.47,253.68 282.53,253.74 283.59,253.81 284.65,253.88 285.71,253.95 286.76,254.02 287.82,254.10 288.88,254.18 289.94,254.25 291.00,254.34 292.06,254.42 293.12,254.50 294.18,254.59 295.24,254.68 296.29,254.76 297.35,254.85 298.41,254.95 299.47,255.04 300.53,255.13 301.59,255.23 302.65,255.32 303.71,255.42 304.76,255.52 305.82,255.61 306.88,255.71 307.94,255.81 309.00,255.91 310.06,256.01 311.12,256.12 312.18,256.23 313.24,256.35 314.29,256.48 315.35,256.61 316.41,256.74 317.47,256.88 318.53,257.02 319.59,257.16 320.65,257.30 321.71,257.44 322.76,257.58 323.82,257.72 324.88,257.85 325.94,257.98 327.00,258.11 328.06,258.22 329.12,258.33 330.18,258.44 331.24,258.53 332.29,258.61 333.35,258.68 334.41,258.75 335.47,258.81 336.53,258.88 337.59,258.93 338.65,258.98 339.71,259.01 340.76,259.03 341.82,258.85 342.88,258.28 343.94,257.32 345.00,255.60" stroke="#2a4fb0" stroke-width="1.5" fill="none" stroke-dasharray="6 2.4 1.2 2.4"/><path d="M219.00,180.60 220.06,180.65 221.12,180.71 222.18,180.78 223.24,180.85 224.29,180.94 225.35,181.04 226.41,181.14 227.47,181.25 228.53,181.37 229.59,181.49 230.65,181.62 231.71,181.76 232.76,181.89 233.82,182.04 234.88,182.18 235.94,182.33 237.00,182.50 238.06,182.68 239.12,182.88 240.18,183.08 241.24,183.30 242.29,183.53 243.35,183.78 244.41,184.03 245.47,184.29 246.53,184.55 247.59,184.83 248.65,185.11 249.71,185.40 250.76,185.69 251.82,185.99 252.88,186.28 253.94,186.59 255.00,186.89 256.06,187.20 257.12,187.53 258.18,187.86 259.24,188.22 260.29,188.58 261.35,188.96 262.41,189.34 263.47,189.73 264.53,190.13 265.59,190.54 266.65,190.95 267.71,191.36 268.76,191.78 269.82,192.19 270.88,192.61 271.94,193.03 273.00,193.46 274.06,193.89 275.12,194.32 276.18,194.77 277.24,195.21 278.29,195.67 279.35,196.13 280.41,196.60 281.47,197.08 282.53,197.57 283.59,198.07 284.65,198.57 285.71,199.09 286.76,199.62 287.82,200.15 288.88,200.69 289.94,201.24 291.00,201.81 292.06,202.38 293.12,202.96 294.18,203.56 295.24,204.17 296.29,204.78 297.35,205.41 298.41,206.06 299.47,206.71 300.53,207.38 301.59,208.06 302.65,208.76 303.71,209.47 304.76,210.20 305.82,210.94 306.88,211.69 307.94,212.46 309.00,213.23 310.06,214.02 311.12,214.82 312.18,215.64 313.24,216.46 314.29,217.29 315.35,218.13 316.41,218.99 317.47,219.85 318.53,220.72 319.59,221.60 320.65,222.49 321.71,223.41 322.76,224.37 323.82,225.36 324.88,226.37 325.94,227.39 327.00,228.43 328.06,229.48 329.12,230.52 330.18,231.57 331.24,232.61 332.29,233.63 333.35,234.64 334.41,235.63 335.47,236.59 336.53,237.56 337.59,238.68 338.65,239.85 339.71,240.89 340.76,241.67 341.82,242.01 342.88,241.81 343.94,241.10 345.00,240.02" stroke="#000" stroke-width="1.5" fill="none"/></g>
<rect x="219.0" y="164.1" width="126.0" height="101.5" fill="none" stroke="#8a8a8a" stroke-width="1"/>
<text x="216.00" y="269.60" font-size="10.50" text-anchor="end" fill="#2a2a2a"  >0</text>
<text x="216.00" y="249.18" font-size="10.50" text-anchor="end" fill="#2a2a2a"  >50</text>
<text x="216.00" y="228.75" font-size="10.50" text-anchor="end" fill="#2a2a2a"  >100</text>
<text x="216.00" y="208.33" font-size="10.50" text-anchor="end" fill="#2a2a2a"  >150</text>
<text x="216.00" y="187.90" font-size="10.50" text-anchor="end" fill="#2a2a2a"  >200</text>
<text x="219.00" y="278.50" font-size="10.50" text-anchor="middle" fill="#2a2a2a"  >0</text>
<text x="244.20" y="278.50" font-size="10.50" text-anchor="middle" fill="#2a2a2a"  >10</text>
<text x="269.40" y="278.50" font-size="10.50" text-anchor="middle" fill="#2a2a2a"  >20</text>
<text x="294.60" y="278.50" font-size="10.50" text-anchor="middle" fill="#2a2a2a"  >30</text>
<text x="319.80" y="278.50" font-size="10.50" text-anchor="middle" fill="#2a2a2a"  >40</text>
<text x="345.00" y="278.50" font-size="10.50" text-anchor="middle" fill="#2a2a2a"  >50</text>
<path d="M219.0 265.60h1.4M345.0 265.60h-1.4M219.0 245.18h1.4M345.0 245.18h-1.4M219.0 224.75h1.4M345.0 224.75h-1.4M219.0 204.33h1.4M345.0 204.33h-1.4M219.0 183.90h1.4M345.0 183.90h-1.4M219.00 265.60v-1.4M219.00 164.05v1.4M244.20 265.60v-1.4M244.20 164.05v1.4M269.40 265.60v-1.4M269.40 164.05v1.4M294.60 265.60v-1.4M294.60 164.05v1.4M319.80 265.60v-1.4M319.80 164.05v1.4M345.00 265.60v-1.4M345.00 164.05v1.4" stroke="#333" stroke-width="0.8"/>
<text x="221.20" y="160.75" font-size="12.40" text-anchor="start" fill="#2a2a2a"  >(d)</text>
<text x="281.50" y="291.90" font-size="12.00" text-anchor="middle" fill="#2a2a2a"  ><tspan font-style="italic">r</tspan> (cm)</text>
<text transform="translate(196.5 215.53) rotate(-90)" font-size="12" text-anchor="middle" fill="#2a2a2a">Power/Area (Wm<tspan dy="-4" font-size="8.5">-2</tspan><tspan dy="4">)</tspan></text>
<path d="M270.2 171.8h17.5" stroke="#000" stroke-width="1.5"/><path d="M310.5 172.4h17.5" stroke="#2a4fb0" stroke-width="1.5" stroke-dasharray="6 2.4 1.2 2.4"/><path d="M270.2 189.4h17.5" stroke="#e8232a" stroke-width="1.6" stroke-dasharray="7.5 4.3"/><path d="M310.5 190.1h17.5" stroke="#cc44bb" stroke-width="1" stroke-dasharray="1.2 1.75"/><text x="290.20" y="176.20" font-size="12.20" text-anchor="start" fill="#2a2a2a"  ><tspan font-style="italic">P</tspan><tspan font-size="8.3" dx="0.6" dy="3">tot</tspan></text><text x="330.40" y="176.60" font-size="12.20" text-anchor="start" fill="#2a2a2a"  ><tspan font-style="italic">P</tspan><tspan font-size="8.6" font-style="italic" dx="0.6" dy="3.4">z</tspan></text><text x="290.20" y="193.80" font-size="12.20" text-anchor="start" fill="#2a2a2a"  ><tspan font-style="italic">P</tspan><tspan font-size="8.3" dx="0.6" dy="3">sh</tspan></text><text x="330.40" y="194.20" font-size="12.20" text-anchor="start" fill="#2a2a2a"  ><tspan font-style="italic">P</tspan><tspan font-size="8.6" font-style="italic" dx="0.6" dy="3.4">r</tspan></text>
<clipPath id="cpf"><rect x="218.5" y="315.7" width="127.0" height="103.0"/></clipPath>
<g clip-path="url(#cpf)"><path d="M219.00,346.01 220.06,346.03 221.12,346.08 222.18,346.16 223.24,346.26 224.29,346.39 225.35,346.54 226.41,346.71 227.47,346.90 228.53,347.10 229.59,347.32 230.65,347.55 231.71,347.78 232.76,348.03 233.82,348.28 234.88,348.53 235.94,348.80 237.00,349.12 238.06,349.48 239.12,349.88 240.18,350.32 241.24,350.80 242.29,351.31 243.35,351.84 244.41,352.41 245.47,352.99 246.53,353.60 247.59,354.22 248.65,354.86 249.71,355.51 250.76,356.16 251.82,356.82 252.88,357.49 253.94,358.15 255.00,358.81 256.06,359.48 257.12,360.18 258.18,360.90 259.24,361.65 260.29,362.43 261.35,363.22 262.41,364.03 263.47,364.86 264.53,365.71 265.59,366.56 266.65,367.43 267.71,368.31 268.76,369.19 269.82,370.07 270.88,370.96 271.94,371.86 273.00,372.77 274.06,373.69 275.12,374.63 276.18,375.59 277.24,376.56 278.29,377.54 279.35,378.53 280.41,379.53 281.47,380.54 282.53,381.57 283.59,382.60 284.65,383.64 285.71,384.69 286.76,385.77 287.82,386.87 288.88,387.98 289.94,389.11 291.00,390.25 292.06,391.40 293.12,392.54 294.18,393.68 295.24,394.81 296.29,395.92 297.35,397.02 298.41,398.10 299.47,399.17 300.53,400.24 301.59,401.30 302.65,402.38 303.71,403.46 304.76,404.56 305.82,405.67 306.88,406.81 307.94,407.98 309.00,409.44 310.06,411.10 311.12,412.39 312.18,412.80 313.24,412.61 314.29,412.18 315.35,411.56 316.41,410.81 317.47,409.99 318.53,409.14 319.59,408.33 320.65,407.58 321.71,406.77 322.76,405.90 323.82,404.99 324.88,404.04 325.94,403.08 327.00,402.11 328.06,401.16 329.12,400.23 330.18,399.33 331.24,398.48 332.29,397.70 333.35,396.93 334.41,396.19 335.47,395.45 336.53,394.73 337.59,394.03 338.65,393.34 339.71,392.67 340.76,392.01 341.82,391.38 342.88,390.76 343.94,390.17 345.00,389.59" stroke="#e8232a" stroke-width="1.6" fill="none" stroke-dasharray="7.5 4.3"/><path d="M219.00,418.16 220.06,418.16 221.12,418.16 222.18,418.16 223.24,418.15 224.29,418.15 225.35,418.14 226.41,418.13 227.47,418.12 228.53,418.11 229.59,418.10 230.65,418.09 231.71,418.08 232.76,418.06 233.82,418.05 234.88,418.03 235.94,418.02 237.00,418.00 238.06,417.98 239.12,417.96 240.18,417.93 241.24,417.89 242.29,417.83 243.35,417.76 244.41,417.68 245.47,417.60 246.53,417.50 247.59,417.41 248.65,417.31 249.71,417.21 250.76,417.12 251.82,417.03 252.88,416.94 253.94,416.87 255.00,416.80 256.06,416.75 257.12,416.69 258.18,416.63 259.24,416.57 260.29,416.51 261.35,416.45 262.41,416.39 263.47,416.34 264.53,416.28 265.59,416.23 266.65,416.17 267.71,416.12 268.76,416.07 269.82,416.03 270.88,415.98 271.94,415.94 273.00,415.91 274.06,415.88 275.12,415.85 276.18,415.83 277.24,415.81 278.29,415.80 279.35,415.79 280.41,415.79 281.47,415.79 282.53,415.80 283.59,415.81 284.65,415.83 285.71,415.85 286.76,415.87 287.82,415.90 288.88,415.93 289.94,415.96 291.00,416.00 292.06,416.03 293.12,416.07 294.18,416.12 295.24,416.16 296.29,416.21 297.35,416.26 298.41,416.31 299.47,416.36 300.53,416.43 301.59,416.54 302.65,416.68 303.71,416.85 304.76,417.03 305.82,417.22 306.88,417.41 307.94,417.58 309.00,417.73 310.06,417.85 311.12,417.93 312.18,417.96 313.24,417.96 314.29,417.96 315.35,417.95 316.41,417.94 317.47,417.93 318.53,417.92 319.59,417.91 320.65,417.89 321.71,417.88 322.76,417.87 323.82,417.86 324.88,417.84 325.94,417.83 327.00,417.83 328.06,417.82 329.12,417.82 330.18,417.82 331.24,417.82 332.29,417.82 333.35,417.82 334.41,417.83 335.47,417.84 336.53,417.85 337.59,417.86 338.65,417.87 339.71,417.88 340.76,417.89 341.82,417.91 342.88,417.93 343.94,417.94 345.00,417.96" stroke="#cc44bb" stroke-width="1.0" fill="none" stroke-dasharray="1.2 1.75"/><path d="M219.00,405.60 220.06,405.63 221.12,405.67 222.18,405.70 223.24,405.74 224.29,405.78 225.35,405.82 226.41,405.87 227.47,405.91 228.53,405.96 229.59,406.00 230.65,406.05 231.71,406.10 232.76,406.15 233.82,406.21 234.88,406.26 235.94,406.31 237.00,406.37 238.06,406.43 239.12,406.48 240.18,406.54 241.24,406.60 242.29,406.66 243.35,406.72 244.41,406.79 245.47,406.85 246.53,406.91 247.59,406.98 248.65,407.04 249.71,407.11 250.76,407.18 251.82,407.24 252.88,407.31 253.94,407.38 255.00,407.45 256.06,407.52 257.12,407.59 258.18,407.66 259.24,407.73 260.29,407.81 261.35,407.88 262.41,407.96 263.47,408.04 264.53,408.12 265.59,408.21 266.65,408.29 267.71,408.38 268.76,408.47 269.82,408.56 270.88,408.66 271.94,408.75 273.00,408.85 274.06,408.96 275.12,409.06 276.18,409.17 277.24,409.28 278.29,409.40 279.35,409.52 280.41,409.64 281.47,409.77 282.53,409.91 283.59,410.06 284.65,410.21 285.71,410.37 286.76,410.54 287.82,410.71 288.88,410.89 289.94,411.08 291.00,411.27 292.06,411.46 293.12,411.66 294.18,411.86 295.24,412.07 296.29,412.28 297.35,412.49 298.41,412.70 299.47,412.92 300.53,413.15 301.59,413.42 302.65,413.74 303.71,414.08 304.76,414.42 305.82,414.77 306.88,415.10 307.94,415.39 309.00,415.65 310.06,415.84 311.12,415.95 312.18,415.99 313.24,415.92 314.29,415.76 315.35,415.53 316.41,415.25 317.47,414.92 318.53,414.58 319.59,414.22 320.65,413.88 321.71,413.55 322.76,413.27 323.82,413.05 324.88,412.88 325.94,412.70 327.00,412.52 328.06,412.35 329.12,412.19 330.18,412.04 331.24,411.90 332.29,411.78 333.35,411.69 334.41,411.62 335.47,411.59 336.53,411.59 337.59,411.59 338.65,411.60 339.71,411.62 340.76,411.64 341.82,411.70 342.88,411.96 343.94,412.35 345.00,412.80" stroke="#2a4fb0" stroke-width="1.5" fill="none" stroke-dasharray="6 2.4 1.2 2.4"/><path d="M219.00,332.99 220.06,333.01 221.12,333.07 222.18,333.15 223.24,333.25 224.29,333.37 225.35,333.51 226.41,333.67 227.47,333.85 228.53,334.04 229.59,334.24 230.65,334.45 231.71,334.67 232.76,334.90 233.82,335.13 234.88,335.36 235.94,335.61 237.00,335.90 238.06,336.22 239.12,336.58 240.18,336.96 241.24,337.38 242.29,337.82 243.35,338.29 244.41,338.79 245.47,339.30 246.53,339.84 247.59,340.39 248.65,340.96 249.71,341.55 250.76,342.15 251.82,342.75 252.88,343.37 253.94,344.00 255.00,344.63 256.06,345.28 257.12,345.98 258.18,346.73 259.24,347.51 260.29,348.32 261.35,349.17 262.41,350.04 263.47,350.94 264.53,351.87 265.59,352.80 266.65,353.76 267.71,354.72 268.76,355.69 269.82,356.67 270.88,357.65 271.94,358.64 273.00,359.67 274.06,360.72 275.12,361.80 276.18,362.91 277.24,364.03 278.29,365.16 279.35,366.31 280.41,367.46 281.47,368.61 282.53,369.76 283.59,370.90 284.65,372.03 285.71,373.15 286.76,374.25 287.82,375.35 288.88,376.44 289.94,377.53 291.00,378.63 292.06,379.75 293.12,380.90 294.18,382.07 295.24,383.27 296.29,384.52 297.35,385.80 298.41,387.11 299.47,388.45 300.53,389.82 301.59,391.23 302.65,392.66 303.71,394.11 304.76,395.59 305.82,397.10 306.88,398.64 307.94,400.19 309.00,402.09 310.06,404.33 311.12,406.43 312.18,407.91 313.24,408.30 314.29,407.93 315.35,407.14 316.41,406.06 317.47,404.83 318.53,403.57 319.59,402.40 320.65,401.40 321.71,400.40 322.76,399.38 323.82,398.34 324.88,397.30 325.94,396.26 327.00,395.25 328.06,394.25 329.12,393.29 330.18,392.38 331.24,391.52 332.29,390.71 333.35,389.91 334.41,389.12 335.47,388.35 336.53,387.63 337.59,386.98 338.65,386.42 339.71,385.98 340.76,385.62 341.82,385.31 342.88,385.17 343.94,385.27 345.00,385.60" stroke="#000" stroke-width="1.5" fill="none"/></g>
<rect x="219.0" y="316.2" width="126.0" height="102.0" fill="none" stroke="#8a8a8a" stroke-width="1"/>
<text x="216.00" y="422.25" font-size="10.50" text-anchor="end" fill="#2a2a2a"  >0</text>
<text x="216.00" y="393.34" font-size="10.50" text-anchor="end" fill="#2a2a2a"  >100</text>
<text x="216.00" y="364.43" font-size="10.50" text-anchor="end" fill="#2a2a2a"  >200</text>
<text x="216.00" y="335.52" font-size="10.50" text-anchor="end" fill="#2a2a2a"  >300</text>
<text x="219.00" y="431.15" font-size="10.50" text-anchor="middle" fill="#2a2a2a"  >0</text>
<text x="244.20" y="431.15" font-size="10.50" text-anchor="middle" fill="#2a2a2a"  >10</text>
<text x="269.40" y="431.15" font-size="10.50" text-anchor="middle" fill="#2a2a2a"  >20</text>
<text x="294.60" y="431.15" font-size="10.50" text-anchor="middle" fill="#2a2a2a"  >30</text>
<text x="319.80" y="431.15" font-size="10.50" text-anchor="middle" fill="#2a2a2a"  >40</text>
<text x="345.00" y="431.15" font-size="10.50" text-anchor="middle" fill="#2a2a2a"  >50</text>
<path d="M219.0 418.25h1.4M345.0 418.25h-1.4M219.0 389.34h1.4M345.0 389.34h-1.4M219.0 360.43h1.4M345.0 360.43h-1.4M219.0 331.52h1.4M345.0 331.52h-1.4M219.00 418.25v-1.4M219.00 316.20v1.4M244.20 418.25v-1.4M244.20 316.20v1.4M269.40 418.25v-1.4M269.40 316.20v1.4M294.60 418.25v-1.4M294.60 316.20v1.4M319.80 418.25v-1.4M319.80 316.20v1.4M345.00 418.25v-1.4M345.00 316.20v1.4" stroke="#333" stroke-width="0.8"/>
<text x="221.20" y="312.90" font-size="12.40" text-anchor="start" fill="#2a2a2a"  >(f)</text>
<text x="281.50" y="444.55" font-size="12.00" text-anchor="middle" fill="#2a2a2a"  ><tspan font-style="italic">r</tspan> (cm)</text>
<text transform="translate(196.5 367.92) rotate(-90)" font-size="12" text-anchor="middle" fill="#2a2a2a">Power/Area (Wm<tspan dy="-4" font-size="8.5">-2</tspan><tspan dy="4">)</tspan></text>
<path d="M269.6 325.6h17.5" stroke="#000" stroke-width="1.5"/><path d="M309.9 326.2h17.5" stroke="#2a4fb0" stroke-width="1.5" stroke-dasharray="6 2.4 1.2 2.4"/><path d="M269.6 343.2h17.5" stroke="#e8232a" stroke-width="1.6" stroke-dasharray="7.5 4.3"/><path d="M309.9 343.9h17.5" stroke="#cc44bb" stroke-width="1" stroke-dasharray="1.2 1.75"/><text x="289.60" y="330.00" font-size="12.20" text-anchor="start" fill="#2a2a2a"  ><tspan font-style="italic">P</tspan><tspan font-size="8.3" dx="0.6" dy="3">tot</tspan></text><text x="329.80" y="330.40" font-size="12.20" text-anchor="start" fill="#2a2a2a"  ><tspan font-style="italic">P</tspan><tspan font-size="8.6" font-style="italic" dx="0.6" dy="3.4">z</tspan></text><text x="289.60" y="347.60" font-size="12.20" text-anchor="start" fill="#2a2a2a"  ><tspan font-style="italic">P</tspan><tspan font-size="8.3" dx="0.6" dy="3">sh</tspan></text><text x="329.80" y="348.00" font-size="12.20" text-anchor="start" fill="#2a2a2a"  ><tspan font-style="italic">P</tspan><tspan font-size="8.6" font-style="italic" dx="0.6" dy="3.4">r</tspan></text>
<clipPath id="cph"><rect x="218.5" y="467.8" width="127.0" height="103.0"/></clipPath>
<g clip-path="url(#cph)"><path d="M219.00,498.01 220.06,498.04 221.12,498.14 222.18,498.28 223.24,498.48 224.29,498.72 225.35,499.00 226.41,499.30 227.47,499.64 228.53,500.00 229.59,500.37 230.65,500.75 231.71,501.16 232.76,501.68 233.82,502.30 234.88,503.02 235.94,503.82 237.00,504.68 238.06,505.59 239.12,506.55 240.18,507.53 241.24,508.54 242.29,509.54 243.35,510.54 244.41,511.51 245.47,512.46 246.53,513.42 247.59,514.39 248.65,515.39 249.71,516.41 250.76,517.45 251.82,518.53 252.88,519.64 253.94,520.78 255.00,521.97 256.06,523.21 257.12,524.51 258.18,525.88 259.24,527.29 260.29,528.75 261.35,530.22 262.41,531.72 263.47,533.22 264.53,534.72 265.59,536.21 266.65,537.67 267.71,539.13 268.76,540.61 269.82,542.10 270.88,543.59 271.94,545.07 273.00,546.52 274.06,547.93 275.12,549.28 276.18,550.75 277.24,552.36 278.29,553.97 279.35,555.47 280.41,556.73 281.47,557.63 282.53,558.05 283.59,557.79 284.65,556.83 285.71,555.52 286.76,554.19 287.82,553.01 288.88,551.74 289.94,550.43 291.00,549.17 292.06,548.02 293.12,546.95 294.18,545.89 295.24,544.83 296.29,543.80 297.35,542.79 298.41,541.84 299.47,540.93 300.53,540.10 301.59,539.34 302.65,538.67 303.71,538.10 304.76,537.60 305.82,537.11 306.88,536.63 307.94,536.16 309.00,535.70 310.06,535.27 311.12,534.86 312.18,534.48 313.24,534.13 314.29,533.82 315.35,533.55 316.41,533.33 317.47,533.16 318.53,533.04 319.59,532.98 320.65,532.99 321.71,533.06 322.76,533.19 323.82,533.38 324.88,533.61 325.94,533.87 327.00,534.17 328.06,534.49 329.12,534.82 330.18,535.16 331.24,535.50 332.29,535.83 333.35,536.19 334.41,536.58 335.47,537.01 336.53,537.46 337.59,537.94 338.65,538.45 339.71,538.99 340.76,539.54 341.82,540.12 342.88,540.73 343.94,541.34 345.00,541.98" stroke="#e8232a" stroke-width="1.6" fill="none" stroke-dasharray="7.5 4.3"/><path d="M219.00,570.20 220.06,570.20 221.12,570.19 222.18,570.18 223.24,570.18 224.29,570.17 225.35,570.16 226.41,570.16 227.47,570.15 228.53,570.14 229.59,570.14 230.65,570.13 231.71,570.13 232.76,570.12 233.82,570.11 234.88,570.11 235.94,570.10 237.00,570.10 238.06,570.09 239.12,570.09 240.18,570.08 241.24,570.08 242.29,570.07 243.35,570.07 244.41,570.06 245.47,570.06 246.53,570.05 247.59,570.05 248.65,570.05 249.71,570.04 250.76,570.04 251.82,570.03 252.88,570.03 253.94,570.03 255.00,570.02 256.06,570.02 257.12,570.02 258.18,570.01 259.24,570.01 260.29,570.01 261.35,570.00 262.41,570.00 263.47,570.00 264.53,570.00 265.59,570.00 266.65,569.99 267.71,569.99 268.76,569.99 269.82,569.99 270.88,569.99 271.94,569.98 273.00,569.98 274.06,569.98 275.12,569.98 276.18,569.98 277.24,569.98 278.29,569.98 279.35,569.98 280.41,569.98 281.47,569.98 282.53,569.98 283.59,569.98 284.65,569.98 285.71,569.98 286.76,569.98 287.82,569.98 288.88,569.98 289.94,569.98 291.00,569.98 292.06,569.98 293.12,569.98 294.18,569.98 295.24,569.98 296.29,569.99 297.35,569.99 298.41,569.99 299.47,569.99 300.53,569.99 301.59,569.99 302.65,569.99 303.71,569.99 304.76,570.00 305.82,570.00 306.88,570.00 307.94,570.00 309.00,570.00 310.06,570.01 311.12,570.01 312.18,570.01 313.24,570.01 314.29,570.02 315.35,570.02 316.41,570.02 317.47,570.02 318.53,570.03 319.59,570.03 320.65,570.03 321.71,570.04 322.76,570.04 323.82,570.04 324.88,570.05 325.94,570.05 327.00,570.06 328.06,570.06 329.12,570.06 330.18,570.07 331.24,570.07 332.29,570.08 333.35,570.08 334.41,570.09 335.47,570.09 336.53,570.10 337.59,570.10 338.65,570.11 339.71,570.11 340.76,570.12 341.82,570.12 342.88,570.13 343.94,570.13 345.00,570.14" stroke="#cc44bb" stroke-width="1.0" fill="none" stroke-dasharray="1.2 1.75"/><path d="M219.00,557.61 220.06,557.66 221.12,557.72 222.18,557.78 223.24,557.83 224.29,557.90 225.35,557.96 226.41,558.03 227.47,558.10 228.53,558.17 229.59,558.24 230.65,558.32 231.71,558.40 232.76,558.48 233.82,558.56 234.88,558.64 235.94,558.73 237.00,558.81 238.06,558.90 239.12,558.99 240.18,559.08 241.24,559.18 242.29,559.27 243.35,559.37 244.41,559.46 245.47,559.56 246.53,559.66 247.59,559.76 248.65,559.86 249.71,559.97 250.76,560.08 251.82,560.19 252.88,560.30 253.94,560.42 255.00,560.54 256.06,560.67 257.12,560.80 258.18,560.93 259.24,561.07 260.29,561.21 261.35,561.36 262.41,561.51 263.47,561.67 264.53,561.83 265.59,562.00 266.65,562.17 267.71,562.35 268.76,562.53 269.82,562.73 270.88,562.93 271.94,563.15 273.00,563.38 274.06,563.62 275.12,563.89 276.18,564.17 277.24,564.47 278.29,564.79 279.35,565.16 280.41,565.76 281.47,566.49 282.53,567.15 283.59,567.54 284.65,567.56 285.71,567.43 286.76,567.23 287.82,567.00 288.88,566.79 289.94,566.56 291.00,566.29 292.06,566.00 293.12,565.69 294.18,565.38 295.24,565.08 296.29,564.79 297.35,564.52 298.41,564.28 299.47,564.08 300.53,563.92 301.59,563.76 302.65,563.61 303.71,563.45 304.76,563.30 305.82,563.16 306.88,563.02 307.94,562.88 309.00,562.75 310.06,562.63 311.12,562.51 312.18,562.41 313.24,562.31 314.29,562.23 315.35,562.16 316.41,562.09 317.47,562.05 318.53,562.01 319.59,561.99 320.65,561.98 321.71,561.98 322.76,561.97 323.82,561.97 324.88,561.97 325.94,561.96 327.00,561.96 328.06,561.95 329.12,561.95 330.18,561.95 331.24,561.94 332.29,561.94 333.35,561.94 334.41,561.94 335.47,561.93 336.53,561.93 337.59,561.93 338.65,561.93 339.71,561.93 340.76,561.93 341.82,561.92 342.88,561.92 343.94,561.92 345.00,561.92" stroke="#2a4fb0" stroke-width="1.5" fill="none" stroke-dasharray="6 2.4 1.2 2.4"/><path d="M219.00,485.02 220.06,485.07 221.12,485.18 222.18,485.35 223.24,485.55 224.29,485.80 225.35,486.08 226.41,486.39 227.47,486.72 228.53,487.07 229.59,487.44 230.65,487.82 231.71,488.22 232.76,488.69 233.82,489.24 234.88,489.85 235.94,490.53 237.00,491.26 238.06,492.04 239.12,492.87 240.18,493.73 241.24,494.62 242.29,495.54 243.35,496.48 244.41,497.42 245.47,498.39 246.53,499.43 247.59,500.55 248.65,501.73 249.71,502.98 250.76,504.27 251.82,505.61 252.88,506.97 253.94,508.36 255.00,509.77 256.06,511.21 257.12,512.71 258.18,514.27 259.24,515.88 260.29,517.52 261.35,519.19 262.41,520.88 263.47,522.57 264.53,524.27 265.59,525.96 266.65,527.63 267.71,529.28 268.76,530.93 269.82,532.58 270.88,534.24 271.94,535.90 273.00,537.57 274.06,539.25 275.12,540.94 276.18,542.64 277.24,544.36 278.29,546.15 279.35,547.97 280.41,549.77 281.47,551.47 282.53,553.16 283.59,554.80 284.65,554.63 285.71,552.85 286.76,550.77 287.82,549.26 288.88,547.84 289.94,546.48 291.00,545.18 292.06,543.94 293.12,542.72 294.18,541.49 295.24,540.27 296.29,539.06 297.35,537.89 298.41,536.75 299.47,535.67 300.53,534.66 301.59,533.73 302.65,532.88 303.71,532.15 304.76,531.49 305.82,530.82 306.88,530.17 307.94,529.52 309.00,528.89 310.06,528.28 311.12,527.70 312.18,527.16 313.24,526.67 314.29,526.22 315.35,525.84 316.41,525.51 317.47,525.26 318.53,525.09 319.59,525.01 320.65,525.01 321.71,525.08 322.76,525.20 323.82,525.38 324.88,525.60 325.94,525.86 327.00,526.15 328.06,526.46 329.12,526.79 330.18,527.12 331.24,527.46 332.29,527.80 333.35,528.28 334.41,528.89 335.47,529.57 336.53,530.28 337.59,530.98 338.65,531.61 339.71,532.13 340.76,532.49 341.82,532.65 342.88,532.59 343.94,532.36 345.00,532.01" stroke="#000" stroke-width="1.5" fill="none"/></g>
<rect x="219.0" y="468.3" width="126.0" height="102.0" fill="none" stroke="#8a8a8a" stroke-width="1"/>
<text x="216.00" y="574.30" font-size="10.50" text-anchor="end" fill="#2a2a2a"  >0</text>
<text x="216.00" y="542.16" font-size="10.50" text-anchor="end" fill="#2a2a2a"  >100</text>
<text x="216.00" y="510.03" font-size="10.50" text-anchor="end" fill="#2a2a2a"  >200</text>
<text x="216.00" y="477.89" font-size="10.50" text-anchor="end" fill="#2a2a2a"  >300</text>
<text x="219.00" y="583.20" font-size="10.50" text-anchor="middle" fill="#2a2a2a"  >0</text>
<text x="244.20" y="583.20" font-size="10.50" text-anchor="middle" fill="#2a2a2a"  >10</text>
<text x="269.40" y="583.20" font-size="10.50" text-anchor="middle" fill="#2a2a2a"  >20</text>
<text x="294.60" y="583.20" font-size="10.50" text-anchor="middle" fill="#2a2a2a"  >30</text>
<text x="319.80" y="583.20" font-size="10.50" text-anchor="middle" fill="#2a2a2a"  >40</text>
<text x="345.00" y="583.20" font-size="10.50" text-anchor="middle" fill="#2a2a2a"  >50</text>
<path d="M219.0 570.30h1.4M345.0 570.30h-1.4M219.0 538.16h1.4M345.0 538.16h-1.4M219.0 506.03h1.4M345.0 506.03h-1.4M219.0 473.89h1.4M345.0 473.89h-1.4M219.00 570.30v-1.4M219.00 468.30v1.4M244.20 570.30v-1.4M244.20 468.30v1.4M269.40 570.30v-1.4M269.40 468.30v1.4M294.60 570.30v-1.4M294.60 468.30v1.4M319.80 570.30v-1.4M319.80 468.30v1.4M345.00 570.30v-1.4M345.00 468.30v1.4" stroke="#333" stroke-width="0.8"/>
<text x="221.20" y="465.00" font-size="12.40" text-anchor="start" fill="#2a2a2a"  >(h)</text>
<text x="281.50" y="596.60" font-size="12.00" text-anchor="middle" fill="#2a2a2a"  ><tspan font-style="italic">r</tspan> (cm)</text>
<text transform="translate(196.5 520.00) rotate(-90)" font-size="12" text-anchor="middle" fill="#2a2a2a">Power/Area (Wm<tspan dy="-4" font-size="8.5">-2</tspan><tspan dy="4">)</tspan></text>
<path d="M269.0 478.3h17.5" stroke="#000" stroke-width="1.5"/><path d="M309.3 478.9h17.5" stroke="#2a4fb0" stroke-width="1.5" stroke-dasharray="6 2.4 1.2 2.4"/><path d="M269.0 495.9h17.5" stroke="#e8232a" stroke-width="1.6" stroke-dasharray="7.5 4.3"/><path d="M309.3 496.6h17.5" stroke="#cc44bb" stroke-width="1" stroke-dasharray="1.2 1.75"/><text x="289.00" y="482.70" font-size="12.20" text-anchor="start" fill="#2a2a2a"  ><tspan font-style="italic">P</tspan><tspan font-size="8.3" dx="0.6" dy="3">tot</tspan></text><text x="329.20" y="483.10" font-size="12.20" text-anchor="start" fill="#2a2a2a"  ><tspan font-style="italic">P</tspan><tspan font-size="8.6" font-style="italic" dx="0.6" dy="3.4">z</tspan></text><text x="289.00" y="500.30" font-size="12.20" text-anchor="start" fill="#2a2a2a"  ><tspan font-style="italic">P</tspan><tspan font-size="8.3" dx="0.6" dy="3">sh</tspan></text><text x="329.20" y="500.70" font-size="12.20" text-anchor="start" fill="#2a2a2a"  ><tspan font-style="italic">P</tspan><tspan font-size="8.6" font-style="italic" dx="0.6" dy="3.4">r</tspan></text>
</svg></div></body></html>
